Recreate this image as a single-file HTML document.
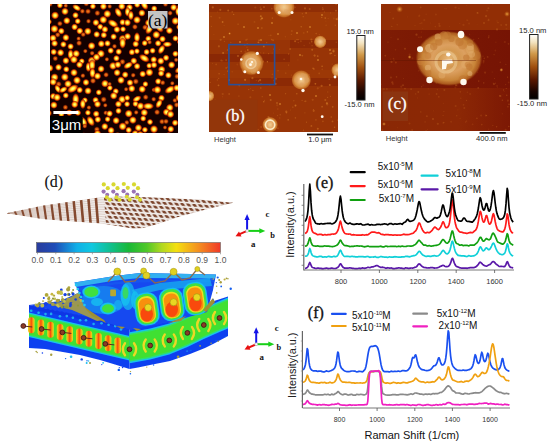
<!DOCTYPE html>
<html><head><meta charset="utf-8"><style>
html,body{margin:0;padding:0;background:#fff;width:550px;height:447px;overflow:hidden;}
svg{display:block;font-family:"Liberation Sans",sans-serif;}
</style></head><body>
<svg width="550" height="447" viewBox="0 0 550 447">
<defs><radialGradient id="blob"><stop offset="0" stop-color="#ffffa0"/><stop offset="0.3" stop-color="#fff040"/><stop offset="0.52" stop-color="#ff9a10"/><stop offset="0.74" stop-color="#d03000" stop-opacity="0.85"/><stop offset="1" stop-color="#400000" stop-opacity="0"/></radialGradient><radialGradient id="blobd"><stop offset="0" stop-color="#f89020"/><stop offset="0.5" stop-color="#c04008"/><stop offset="1" stop-color="#300000" stop-opacity="0"/></radialGradient><clipPath id="clipA"><rect x="50" y="4" width="128" height="129"/></clipPath><filter id="blurA" x="-5%" y="-5%" width="110%" height="110%"><feGaussianBlur stdDeviation="0.7"/></filter><linearGradient id="afmbar" x1="0" y1="0" x2="0" y2="1"><stop offset="0" stop-color="#ffffff"/><stop offset="0.12" stop-color="#f4e4c0"/><stop offset="0.3" stop-color="#d09848"/><stop offset="0.5" stop-color="#a05010"/><stop offset="0.7" stop-color="#5a1800"/><stop offset="0.88" stop-color="#1a0400"/><stop offset="1" stop-color="#000000"/></linearGradient><radialGradient id="part"><stop offset="0" stop-color="#f8e0a8"/><stop offset="0.5" stop-color="#e8b060"/><stop offset="0.8" stop-color="#d08a30" stop-opacity="0.8"/><stop offset="1" stop-color="#b86a1a" stop-opacity="0"/></radialGradient><radialGradient id="halo"><stop offset="0" stop-color="#e0a050"/><stop offset="0.6" stop-color="#d08a38" stop-opacity="0.7"/><stop offset="1" stop-color="#b86a1a" stop-opacity="0"/></radialGradient><radialGradient id="sdot"><stop offset="0" stop-color="#e8a040"/><stop offset="1" stop-color="#c06010" stop-opacity="0"/></radialGradient><clipPath id="clipB"><rect x="209" y="4" width="129" height="128"/></clipPath><radialGradient id="part2"><stop offset="0" stop-color="#f0cc90"/><stop offset="0.35" stop-color="#e8b070"/><stop offset="0.7" stop-color="#d89040"/><stop offset="0.88" stop-color="#c87428" stop-opacity="0.8"/><stop offset="1" stop-color="#b05a14" stop-opacity="0"/></radialGradient><clipPath id="clipC"><rect x="381" y="4" width="129" height="127"/></clipPath><radialGradient id="bigp"><stop offset="0" stop-color="#e8b878"/><stop offset="0.3" stop-color="#d49850"/><stop offset="0.5" stop-color="#dca060"/><stop offset="0.8" stop-color="#c88438"/><stop offset="0.93" stop-color="#b86a24" stop-opacity="0.8"/><stop offset="1" stop-color="#a05010" stop-opacity="0"/></radialGradient><linearGradient id="cmid" x1="0" y1="0" x2="1" y2="0"><stop offset="0" stop-color="#7e1c04"/><stop offset="0.5" stop-color="#7a1804"/><stop offset="1" stop-color="#761404"/></linearGradient><linearGradient id="cbot" x1="0" y1="0" x2="1" y2="0"><stop offset="0" stop-color="#8a2805"/><stop offset="0.6" stop-color="#8c2805"/><stop offset="1" stop-color="#7c1804"/></linearGradient><clipPath id="clipG"><polygon points="6.5,213.2 42.0,205.8 99.0,197.6 120.0,196.4 150.0,197.3 200.0,199.5 233.0,202.7 210.0,208.5 180.0,216.5 165.0,221.5 152.0,225.8 142.0,228.3 132.0,228.5 120.0,226.5 99.0,223.3 60.0,220.4 42.0,218.9"/></clipPath><pattern id="dia" patternUnits="userSpaceOnUse" width="6" height="4.4" patternTransform="rotate(4) skewX(35)"><rect width="6" height="4.4" fill="#f0ebe8"/><rect x="0.6" y="0.7" width="3.8" height="2.8" rx="0.8" fill="#7c452d"/></pattern><linearGradient id="jet" x1="0" y1="0" x2="1" y2="0"><stop offset="0" stop-color="#2a3c9c"/><stop offset="0.1" stop-color="#1e4cb8"/><stop offset="0.22" stop-color="#10b0e8"/><stop offset="0.3" stop-color="#10c8e0"/><stop offset="0.4" stop-color="#10c090"/><stop offset="0.5" stop-color="#18b838"/><stop offset="0.6" stop-color="#50c828"/><stop offset="0.68" stop-color="#b0d820"/><stop offset="0.76" stop-color="#f4e010"/><stop offset="0.88" stop-color="#f49020"/><stop offset="1" stop-color="#f03828"/></linearGradient><filter id="blur3d" x="-5%" y="-5%" width="110%" height="110%"><feGaussianBlur stdDeviation="0.6"/></filter><linearGradient id="obar" x1="0" y1="0" x2="1" y2="0"><stop offset="0" stop-color="#e8e020"/><stop offset="0.25" stop-color="#f8a010"/><stop offset="0.5" stop-color="#f85010"/><stop offset="0.75" stop-color="#f8a010"/><stop offset="1" stop-color="#e8e020"/></linearGradient></defs>
<rect width="550" height="447" fill="#fff"/>
<g clip-path="url(#clipA)"><rect x="50" y="4" width="128" height="129" fill="#140000"/><g filter="url(#blurA)"><circle cx="50.0" cy="4.2" r="3.2" fill="url(#blobd)"/><circle cx="59.9" cy="5.3" r="3.4" fill="url(#blob)"/><circle cx="65.8" cy="5.7" r="2.7" fill="url(#blobd)"/><ellipse cx="76.7" cy="7.7" rx="5.2" ry="3.1" transform="rotate(30 76.7 7.7)" fill="url(#blob)"/><circle cx="86.3" cy="3.7" r="3.2" fill="url(#blobd)"/><circle cx="92.9" cy="6.3" r="3.4" fill="url(#blob)"/><circle cx="103.4" cy="6.4" r="3.9" fill="url(#blob)"/><circle cx="109.7" cy="6.4" r="2.8" fill="url(#blobd)"/><circle cx="121.8" cy="6.3" r="4.0" fill="url(#blob)"/><circle cx="129.5" cy="7.4" r="3.8" fill="url(#blob)"/><circle cx="137.2" cy="4.7" r="3.5" fill="url(#blob)"/><ellipse cx="144.4" cy="5.0" rx="5.8" ry="3.5" transform="rotate(60 144.4 5.0)" fill="url(#blob)"/><circle cx="154.2" cy="8.5" r="3.4" fill="url(#blob)"/><circle cx="165.5" cy="4.2" r="3.1" fill="url(#blobd)"/><circle cx="173.7" cy="7.4" r="3.9" fill="url(#blob)"/><circle cx="180.5" cy="7.0" r="4.0" fill="url(#blob)"/><circle cx="55.1" cy="15.4" r="4.3" fill="url(#blob)"/><circle cx="65.0" cy="11.4" r="4.1" fill="url(#blob)"/><circle cx="75.5" cy="15.3" r="3.6" fill="url(#blob)"/><circle cx="82.4" cy="11.2" r="3.0" fill="url(#blobd)"/><circle cx="88.0" cy="11.4" r="3.3" fill="url(#blobd)"/><circle cx="97.4" cy="13.1" r="3.4" fill="url(#blobd)"/><circle cx="107.3" cy="13.9" r="4.3" fill="url(#blob)"/><ellipse cx="118.3" cy="12.5" rx="5.6" ry="3.4" transform="rotate(60 118.3 12.5)" fill="url(#blob)"/><ellipse cx="127.5" cy="11.8" rx="5.2" ry="3.1" transform="rotate(90 127.5 11.8)" fill="url(#blob)"/><ellipse cx="130.9" cy="15.4" rx="5.3" ry="3.2" transform="rotate(90 130.9 15.4)" fill="url(#blob)"/><circle cx="141.9" cy="13.0" r="3.9" fill="url(#blob)"/><circle cx="152.1" cy="13.7" r="4.0" fill="url(#blob)"/><circle cx="157.3" cy="15.7" r="4.2" fill="url(#blob)"/><circle cx="170.1" cy="13.1" r="3.0" fill="url(#blobd)"/><ellipse cx="177.9" cy="11.4" rx="5.1" ry="3.0" transform="rotate(90 177.9 11.4)" fill="url(#blob)"/><circle cx="48.8" cy="21.8" r="3.4" fill="url(#blob)"/><circle cx="59.9" cy="23.6" r="3.2" fill="url(#blobd)"/><circle cx="66.8" cy="20.7" r="4.0" fill="url(#blob)"/><circle cx="77.7" cy="21.2" r="3.4" fill="url(#blob)"/><circle cx="88.5" cy="21.2" r="2.9" fill="url(#blobd)"/><circle cx="95.9" cy="22.6" r="3.8" fill="url(#blob)"/><circle cx="103.3" cy="19.8" r="4.3" fill="url(#blob)"/><ellipse cx="113.0" cy="23.5" rx="6.2" ry="3.7" transform="rotate(30 113.0 23.5)" fill="url(#blob)"/><circle cx="122.6" cy="22.3" r="3.6" fill="url(#blob)"/><circle cx="127.4" cy="22.7" r="3.9" fill="url(#blob)"/><circle cx="137.0" cy="19.9" r="4.2" fill="url(#blob)"/><circle cx="148.7" cy="22.9" r="4.2" fill="url(#blob)"/><circle cx="153.9" cy="21.4" r="3.0" fill="url(#blobd)"/><circle cx="161.5" cy="20.2" r="3.6" fill="url(#blob)"/><circle cx="175.4" cy="21.0" r="4.3" fill="url(#blob)"/><ellipse cx="184.0" cy="20.6" rx="5.3" ry="3.2" transform="rotate(90 184.0 20.6)" fill="url(#blob)"/><circle cx="54.4" cy="28.9" r="4.4" fill="url(#blob)"/><circle cx="61.3" cy="31.1" r="3.7" fill="url(#blob)"/><circle cx="74.6" cy="27.0" r="3.7" fill="url(#blob)"/><circle cx="79.8" cy="31.0" r="3.8" fill="url(#blob)"/><circle cx="87.8" cy="31.3" r="4.1" fill="url(#blob)"/><circle cx="100.2" cy="26.8" r="3.5" fill="url(#blob)"/><circle cx="104.9" cy="29.4" r="3.8" fill="url(#blob)"/><circle cx="116.9" cy="29.5" r="3.8" fill="url(#blob)"/><circle cx="123.0" cy="29.2" r="3.3" fill="url(#blob)"/><circle cx="134.9" cy="26.9" r="3.3" fill="url(#blobd)"/><circle cx="145.1" cy="27.4" r="3.4" fill="url(#blobd)"/><ellipse cx="149.4" cy="29.0" rx="6.2" ry="3.7" transform="rotate(120 149.4 29.0)" fill="url(#blob)"/><ellipse cx="159.3" cy="27.0" rx="6.5" ry="3.9" transform="rotate(60 159.3 27.0)" fill="url(#blob)"/><circle cx="169.4" cy="30.6" r="3.9" fill="url(#blob)"/><circle cx="179.3" cy="27.0" r="3.5" fill="url(#blob)"/><circle cx="53.1" cy="38.1" r="4.0" fill="url(#blob)"/><circle cx="57.7" cy="34.8" r="3.2" fill="url(#blobd)"/><circle cx="65.9" cy="37.6" r="3.9" fill="url(#blob)"/><circle cx="78.6" cy="38.6" r="2.7" fill="url(#blobd)"/><circle cx="83.2" cy="34.5" r="3.0" fill="url(#blobd)"/><circle cx="96.7" cy="34.4" r="3.7" fill="url(#blob)"/><circle cx="103.8" cy="35.1" r="3.6" fill="url(#blob)"/><circle cx="113.6" cy="36.7" r="3.6" fill="url(#blob)"/><circle cx="122.7" cy="38.8" r="4.3" fill="url(#blob)"/><circle cx="127.6" cy="36.4" r="3.8" fill="url(#blob)"/><ellipse cx="137.0" cy="37.5" rx="5.7" ry="3.4" transform="rotate(90 137.0 37.5)" fill="url(#blob)"/><circle cx="148.3" cy="38.7" r="3.5" fill="url(#blob)"/><circle cx="156.3" cy="34.8" r="4.3" fill="url(#blob)"/><circle cx="162.5" cy="39.0" r="3.7" fill="url(#blob)"/><circle cx="175.5" cy="38.4" r="3.5" fill="url(#blob)"/><ellipse cx="181.6" cy="35.8" rx="5.3" ry="3.2" transform="rotate(30 181.6 35.8)" fill="url(#blob)"/><circle cx="54.6" cy="43.4" r="3.8" fill="url(#blob)"/><circle cx="63.4" cy="44.4" r="3.6" fill="url(#blob)"/><circle cx="70.6" cy="46.5" r="3.6" fill="url(#blob)"/><circle cx="79.1" cy="43.1" r="3.4" fill="url(#blobd)"/><circle cx="91.6" cy="45.9" r="4.2" fill="url(#blob)"/><circle cx="101.3" cy="43.8" r="3.9" fill="url(#blob)"/><circle cx="107.5" cy="43.4" r="3.6" fill="url(#blob)"/><circle cx="114.5" cy="46.3" r="2.9" fill="url(#blobd)"/><ellipse cx="122.6" cy="43.0" rx="6.0" ry="3.6" transform="rotate(90 122.6 43.0)" fill="url(#blob)"/><circle cx="135.7" cy="44.0" r="3.7" fill="url(#blob)"/><circle cx="144.7" cy="43.1" r="3.4" fill="url(#blob)"/><circle cx="149.6" cy="42.2" r="2.8" fill="url(#blobd)"/><circle cx="158.1" cy="43.3" r="3.6" fill="url(#blob)"/><ellipse cx="167.3" cy="44.3" rx="5.2" ry="3.1" transform="rotate(0 167.3 44.3)" fill="url(#blob)"/><circle cx="179.9" cy="41.9" r="3.3" fill="url(#blob)"/><circle cx="53.7" cy="52.0" r="3.6" fill="url(#blob)"/><circle cx="60.6" cy="52.7" r="4.0" fill="url(#blob)"/><ellipse cx="70.6" cy="54.4" rx="5.5" ry="3.3" transform="rotate(90 70.6 54.4)" fill="url(#blob)"/><circle cx="76.2" cy="53.7" r="4.1" fill="url(#blob)"/><circle cx="85.3" cy="51.1" r="2.7" fill="url(#blobd)"/><circle cx="92.1" cy="53.2" r="2.9" fill="url(#blobd)"/><circle cx="100.9" cy="53.7" r="4.3" fill="url(#blob)"/><circle cx="110.7" cy="50.6" r="3.6" fill="url(#blob)"/><circle cx="118.7" cy="51.7" r="3.6" fill="url(#blob)"/><circle cx="131.9" cy="52.2" r="3.6" fill="url(#blob)"/><circle cx="136.9" cy="51.2" r="3.3" fill="url(#blob)"/><circle cx="146.6" cy="52.0" r="3.5" fill="url(#blob)"/><circle cx="152.6" cy="50.7" r="3.4" fill="url(#blob)"/><ellipse cx="161.5" cy="49.5" rx="5.5" ry="3.3" transform="rotate(120 161.5 49.5)" fill="url(#blob)"/><circle cx="175.4" cy="53.8" r="3.5" fill="url(#blob)"/><circle cx="183.1" cy="52.4" r="4.1" fill="url(#blob)"/><circle cx="55.3" cy="58.5" r="3.2" fill="url(#blobd)"/><circle cx="65.9" cy="60.7" r="3.9" fill="url(#blob)"/><circle cx="73.9" cy="59.6" r="4.3" fill="url(#blob)"/><circle cx="81.8" cy="61.2" r="3.3" fill="url(#blob)"/><circle cx="91.8" cy="60.7" r="4.4" fill="url(#blob)"/><circle cx="96.5" cy="57.2" r="4.0" fill="url(#blob)"/><circle cx="106.9" cy="59.3" r="2.7" fill="url(#blobd)"/><circle cx="116.4" cy="58.3" r="3.6" fill="url(#blob)"/><circle cx="122.5" cy="61.8" r="3.4" fill="url(#blobd)"/><circle cx="133.8" cy="60.9" r="3.8" fill="url(#blob)"/><ellipse cx="144.3" cy="58.2" rx="6.2" ry="3.7" transform="rotate(30 144.3 58.2)" fill="url(#blob)"/><circle cx="153.7" cy="59.6" r="3.7" fill="url(#blob)"/><circle cx="160.8" cy="61.0" r="4.0" fill="url(#blob)"/><circle cx="166.1" cy="57.8" r="3.6" fill="url(#blob)"/><circle cx="176.1" cy="59.9" r="2.7" fill="url(#blobd)"/><circle cx="49.7" cy="68.1" r="4.1" fill="url(#blob)"/><circle cx="58.5" cy="67.3" r="3.8" fill="url(#blob)"/><circle cx="66.3" cy="69.3" r="3.5" fill="url(#blob)"/><circle cx="79.5" cy="64.7" r="3.8" fill="url(#blob)"/><ellipse cx="88.4" cy="67.0" rx="5.4" ry="3.2" transform="rotate(90 88.4 67.0)" fill="url(#blob)"/><ellipse cx="92.1" cy="65.1" rx="6.2" ry="3.7" transform="rotate(90 92.1 65.1)" fill="url(#blob)"/><circle cx="101.1" cy="68.9" r="3.9" fill="url(#blob)"/><circle cx="113.0" cy="65.9" r="4.3" fill="url(#blob)"/><circle cx="117.9" cy="64.7" r="3.8" fill="url(#blob)"/><ellipse cx="128.2" cy="65.4" rx="5.5" ry="3.3" transform="rotate(150 128.2 65.4)" fill="url(#blob)"/><circle cx="137.1" cy="66.3" r="3.7" fill="url(#blob)"/><circle cx="149.2" cy="65.7" r="3.3" fill="url(#blob)"/><circle cx="154.0" cy="65.0" r="3.7" fill="url(#blob)"/><circle cx="161.7" cy="69.5" r="4.1" fill="url(#blob)"/><circle cx="171.6" cy="64.9" r="4.0" fill="url(#blob)"/><ellipse cx="179.5" cy="69.7" rx="5.7" ry="3.4" transform="rotate(150 179.5 69.7)" fill="url(#blob)"/><circle cx="54.6" cy="77.3" r="4.3" fill="url(#blob)"/><circle cx="64.8" cy="77.1" r="4.3" fill="url(#blob)"/><circle cx="74.0" cy="72.6" r="4.1" fill="url(#blob)"/><circle cx="82.9" cy="75.7" r="2.9" fill="url(#blobd)"/><ellipse cx="92.5" cy="73.0" rx="5.7" ry="3.4" transform="rotate(90 92.5 73.0)" fill="url(#blob)"/><circle cx="97.5" cy="76.1" r="4.0" fill="url(#blob)"/><circle cx="106.1" cy="74.8" r="3.2" fill="url(#blobd)"/><circle cx="117.1" cy="72.7" r="3.9" fill="url(#blob)"/><circle cx="125.2" cy="74.7" r="3.7" fill="url(#blob)"/><circle cx="133.2" cy="75.2" r="2.9" fill="url(#blobd)"/><circle cx="142.7" cy="74.0" r="3.7" fill="url(#blob)"/><circle cx="149.4" cy="72.4" r="4.3" fill="url(#blob)"/><circle cx="161.1" cy="73.4" r="3.6" fill="url(#blob)"/><circle cx="168.4" cy="75.3" r="3.7" fill="url(#blob)"/><circle cx="177.3" cy="76.4" r="3.4" fill="url(#blobd)"/><circle cx="53.2" cy="82.0" r="4.0" fill="url(#blob)"/><circle cx="58.6" cy="84.2" r="3.5" fill="url(#blobd)"/><circle cx="68.0" cy="83.9" r="4.2" fill="url(#blob)"/><circle cx="77.0" cy="80.3" r="4.3" fill="url(#blob)"/><circle cx="86.0" cy="82.4" r="3.8" fill="url(#blob)"/><circle cx="93.0" cy="80.8" r="3.5" fill="url(#blobd)"/><circle cx="105.0" cy="83.6" r="4.2" fill="url(#blob)"/><circle cx="109.6" cy="84.0" r="2.6" fill="url(#blobd)"/><circle cx="121.0" cy="80.2" r="4.1" fill="url(#blob)"/><circle cx="130.0" cy="82.7" r="3.8" fill="url(#blob)"/><circle cx="135.8" cy="81.5" r="3.5" fill="url(#blobd)"/><circle cx="145.4" cy="84.1" r="3.3" fill="url(#blob)"/><circle cx="158.2" cy="81.4" r="3.6" fill="url(#blob)"/><circle cx="162.7" cy="82.7" r="3.1" fill="url(#blobd)"/><circle cx="172.3" cy="83.3" r="2.7" fill="url(#blobd)"/><ellipse cx="183.7" cy="83.3" rx="5.1" ry="3.1" transform="rotate(60 183.7 83.3)" fill="url(#blob)"/><ellipse cx="57.7" cy="88.8" rx="5.0" ry="3.0" transform="rotate(60 57.7 88.8)" fill="url(#blob)"/><ellipse cx="63.3" cy="89.7" rx="5.0" ry="3.0" transform="rotate(150 63.3 89.7)" fill="url(#blob)"/><ellipse cx="72.8" cy="88.7" rx="6.6" ry="3.9" transform="rotate(150 72.8 88.7)" fill="url(#blob)"/><circle cx="79.7" cy="90.0" r="3.6" fill="url(#blob)"/><circle cx="88.0" cy="90.9" r="4.0" fill="url(#blob)"/><circle cx="98.8" cy="92.4" r="3.4" fill="url(#blob)"/><circle cx="109.9" cy="87.9" r="3.3" fill="url(#blob)"/><circle cx="115.8" cy="91.3" r="3.5" fill="url(#blob)"/><circle cx="126.1" cy="89.2" r="2.7" fill="url(#blobd)"/><circle cx="131.8" cy="88.6" r="4.0" fill="url(#blob)"/><circle cx="142.2" cy="89.2" r="4.1" fill="url(#blob)"/><circle cx="153.8" cy="89.9" r="2.7" fill="url(#blobd)"/><circle cx="157.4" cy="89.8" r="4.3" fill="url(#blob)"/><ellipse cx="169.9" cy="89.6" rx="6.2" ry="3.7" transform="rotate(150 169.9 89.6)" fill="url(#blob)"/><circle cx="176.8" cy="87.9" r="3.8" fill="url(#blob)"/><circle cx="53.3" cy="96.3" r="3.7" fill="url(#blob)"/><circle cx="57.1" cy="97.4" r="4.2" fill="url(#blob)"/><circle cx="65.8" cy="95.5" r="3.4" fill="url(#blob)"/><ellipse cx="75.7" cy="99.2" rx="6.4" ry="3.9" transform="rotate(90 75.7 99.2)" fill="url(#blob)"/><circle cx="84.9" cy="100.2" r="3.3" fill="url(#blob)"/><circle cx="95.6" cy="100.1" r="3.6" fill="url(#blob)"/><circle cx="103.7" cy="99.5" r="3.5" fill="url(#blobd)"/><circle cx="113.7" cy="95.8" r="4.1" fill="url(#blob)"/><circle cx="122.1" cy="99.4" r="4.3" fill="url(#blob)"/><circle cx="127.2" cy="97.9" r="3.3" fill="url(#blob)"/><ellipse cx="136.9" cy="98.9" rx="5.2" ry="3.1" transform="rotate(150 136.9 98.9)" fill="url(#blob)"/><circle cx="145.7" cy="97.2" r="3.3" fill="url(#blobd)"/><circle cx="153.7" cy="99.2" r="2.9" fill="url(#blobd)"/><circle cx="161.5" cy="98.1" r="3.7" fill="url(#blob)"/><circle cx="174.9" cy="100.4" r="2.9" fill="url(#blobd)"/><circle cx="179.2" cy="97.9" r="4.1" fill="url(#blob)"/><circle cx="53.9" cy="105.1" r="4.0" fill="url(#blob)"/><circle cx="65.4" cy="107.3" r="3.2" fill="url(#blobd)"/><circle cx="74.7" cy="104.5" r="3.9" fill="url(#blob)"/><ellipse cx="82.8" cy="104.0" rx="5.4" ry="3.2" transform="rotate(90 82.8 104.0)" fill="url(#blob)"/><circle cx="88.9" cy="107.6" r="2.8" fill="url(#blobd)"/><circle cx="97.5" cy="104.2" r="3.9" fill="url(#blob)"/><circle cx="105.3" cy="105.3" r="2.7" fill="url(#blobd)"/><circle cx="118.4" cy="104.1" r="3.8" fill="url(#blob)"/><circle cx="127.1" cy="104.1" r="3.4" fill="url(#blob)"/><circle cx="135.5" cy="103.9" r="3.4" fill="url(#blob)"/><circle cx="140.5" cy="106.1" r="4.2" fill="url(#blob)"/><ellipse cx="148.3" cy="106.2" rx="6.1" ry="3.7" transform="rotate(0 148.3 106.2)" fill="url(#blob)"/><ellipse cx="159.0" cy="103.7" rx="5.3" ry="3.2" transform="rotate(120 159.0 103.7)" fill="url(#blob)"/><circle cx="169.8" cy="107.7" r="4.2" fill="url(#blob)"/><circle cx="176.6" cy="104.9" r="3.2" fill="url(#blobd)"/><circle cx="48.4" cy="113.2" r="3.8" fill="url(#blob)"/><circle cx="61.4" cy="114.0" r="3.5" fill="url(#blob)"/><circle cx="69.3" cy="112.7" r="3.6" fill="url(#blob)"/><circle cx="78.0" cy="112.8" r="3.4" fill="url(#blob)"/><circle cx="87.9" cy="112.7" r="3.3" fill="url(#blob)"/><circle cx="96.2" cy="113.9" r="3.7" fill="url(#blob)"/><circle cx="105.7" cy="112.8" r="2.8" fill="url(#blobd)"/><circle cx="109.6" cy="113.6" r="3.7" fill="url(#blob)"/><circle cx="118.5" cy="110.9" r="3.5" fill="url(#blob)"/><circle cx="128.7" cy="113.6" r="4.3" fill="url(#blob)"/><circle cx="136.2" cy="112.4" r="2.8" fill="url(#blobd)"/><circle cx="144.3" cy="112.6" r="4.1" fill="url(#blob)"/><circle cx="157.1" cy="112.2" r="3.4" fill="url(#blobd)"/><circle cx="166.4" cy="112.2" r="4.0" fill="url(#blob)"/><circle cx="170.5" cy="114.3" r="4.1" fill="url(#blob)"/><circle cx="182.3" cy="115.0" r="4.0" fill="url(#blob)"/><circle cx="53.6" cy="120.7" r="3.1" fill="url(#blobd)"/><circle cx="66.5" cy="119.1" r="3.0" fill="url(#blobd)"/><circle cx="75.4" cy="122.5" r="3.5" fill="url(#blob)"/><ellipse cx="83.4" cy="121.7" rx="6.1" ry="3.6" transform="rotate(60 83.4 121.7)" fill="url(#blob)"/><ellipse cx="90.7" cy="121.1" rx="6.0" ry="3.6" transform="rotate(60 90.7 121.1)" fill="url(#blob)"/><circle cx="97.8" cy="119.5" r="3.7" fill="url(#blob)"/><circle cx="107.6" cy="119.2" r="3.3" fill="url(#blob)"/><circle cx="116.1" cy="120.6" r="4.0" fill="url(#blob)"/><circle cx="126.8" cy="122.5" r="3.0" fill="url(#blobd)"/><circle cx="132.9" cy="120.1" r="4.2" fill="url(#blob)"/><circle cx="143.2" cy="118.5" r="3.4" fill="url(#blob)"/><circle cx="150.0" cy="122.0" r="3.4" fill="url(#blob)"/><circle cx="162.0" cy="121.6" r="3.3" fill="url(#blobd)"/><circle cx="166.0" cy="121.4" r="3.2" fill="url(#blobd)"/><circle cx="175.1" cy="122.8" r="3.6" fill="url(#blob)"/><ellipse cx="52.7" cy="129.5" rx="6.1" ry="3.7" transform="rotate(150 52.7 129.5)" fill="url(#blob)"/><circle cx="58.9" cy="129.8" r="3.5" fill="url(#blob)"/><circle cx="67.1" cy="130.1" r="3.5" fill="url(#blob)"/><circle cx="79.5" cy="127.0" r="3.6" fill="url(#blob)"/><circle cx="84.8" cy="126.1" r="2.8" fill="url(#blobd)"/><circle cx="96.9" cy="129.4" r="3.4" fill="url(#blobd)"/><circle cx="104.8" cy="126.5" r="3.9" fill="url(#blob)"/><circle cx="111.1" cy="130.4" r="3.9" fill="url(#blob)"/><circle cx="122.7" cy="126.4" r="4.4" fill="url(#blob)"/><circle cx="128.7" cy="130.0" r="3.6" fill="url(#blob)"/><circle cx="138.4" cy="127.8" r="4.1" fill="url(#blob)"/><circle cx="144.9" cy="129.8" r="3.4" fill="url(#blob)"/><circle cx="154.0" cy="129.2" r="4.4" fill="url(#blob)"/><circle cx="165.0" cy="127.5" r="2.6" fill="url(#blobd)"/><circle cx="170.8" cy="129.1" r="3.8" fill="url(#blob)"/><circle cx="183.7" cy="126.6" r="3.5" fill="url(#blob)"/><circle cx="52.7" cy="133.6" r="3.0" fill="url(#blobd)"/><circle cx="63.3" cy="134.7" r="3.9" fill="url(#blob)"/><circle cx="71.1" cy="136.8" r="3.1" fill="url(#blobd)"/><circle cx="83.9" cy="134.8" r="2.8" fill="url(#blobd)"/><circle cx="90.9" cy="138.1" r="4.2" fill="url(#blob)"/><circle cx="97.5" cy="133.6" r="4.0" fill="url(#blob)"/><circle cx="106.7" cy="136.9" r="3.8" fill="url(#blob)"/><circle cx="117.6" cy="134.8" r="3.4" fill="url(#blobd)"/><circle cx="125.1" cy="135.7" r="2.8" fill="url(#blobd)"/><circle cx="135.2" cy="133.6" r="3.9" fill="url(#blob)"/><circle cx="140.3" cy="134.6" r="4.0" fill="url(#blob)"/><ellipse cx="151.8" cy="137.8" rx="5.2" ry="3.1" transform="rotate(90 151.8 137.8)" fill="url(#blob)"/><circle cx="160.5" cy="138.7" r="4.1" fill="url(#blob)"/><circle cx="168.7" cy="135.5" r="3.8" fill="url(#blob)"/><circle cx="174.8" cy="137.0" r="3.5" fill="url(#blob)"/></g></g>
<rect x="148" y="11" width="19.5" height="17.5" fill="#c4c4c4"/>
<text x="157.7" y="25.6" font-family="Liberation Serif" font-size="17.5" text-anchor="middle" fill="#000">(a)</text>
<rect x="53.4" y="111" width="24.8" height="3" fill="#fff"/>
<path d="M50 116 H80.5 Q82.7 116 82.7 118.2 V133 H50 Z" fill="#000"/>
<text x="51.8" y="130.2" font-family="Liberation Sans" font-size="15" fill="#fff">3μm</text>
<g clip-path="url(#clipB)"><rect x="209" y="4" width="129" height="128" fill="#983406"/><rect x="209" y="4" width="129" height="8" fill="#902e05"/><rect x="209" y="12" width="129" height="28" fill="#9e3a06"/><rect x="290" y="40" width="48" height="8" fill="#8c2a05"/><rect x="209" y="54" width="81" height="8" fill="#8a2805"/><rect x="209" y="70" width="129" height="8" fill="#9c3806"/><rect x="250" y="78" width="88" height="8" fill="#8c2a05"/><rect x="257" y="86" width="81" height="46" fill="#983406"/><circle cx="312.1" cy="45.7" r="0.6" fill="#c86a20" opacity="0.45"/><circle cx="331.9" cy="132.0" r="0.6" fill="#d07828" opacity="0.57"/><circle cx="273.6" cy="112.9" r="0.5" fill="#b85a18" opacity="0.41"/><circle cx="313.9" cy="68.9" r="1.0" fill="#c86a20" opacity="0.47"/><circle cx="224.1" cy="74.5" r="0.7" fill="#b85a18" opacity="0.42"/><circle cx="233.7" cy="14.4" r="0.6" fill="#d07828" opacity="0.67"/><circle cx="285.8" cy="73.0" r="0.6" fill="#d07828" opacity="0.61"/><circle cx="304.9" cy="112.8" r="0.6" fill="#b85a18" opacity="0.64"/><circle cx="327.3" cy="104.4" r="1.1" fill="#b85a18" opacity="0.51"/><circle cx="309.2" cy="74.7" r="0.6" fill="#d07828" opacity="0.37"/><circle cx="317.8" cy="128.7" r="1.0" fill="#d07828" opacity="0.54"/><circle cx="237.3" cy="64.5" r="0.9" fill="#b85a18" opacity="0.35"/><circle cx="336.0" cy="10.7" r="0.9" fill="#d07828" opacity="0.48"/><circle cx="336.6" cy="19.1" r="1.1" fill="#d07828" opacity="0.59"/><circle cx="216.2" cy="64.4" r="0.9" fill="#c86a20" opacity="0.40"/><circle cx="277.5" cy="6.2" r="0.8" fill="#b85a18" opacity="0.67"/><circle cx="305.8" cy="77.7" r="0.5" fill="#b85a18" opacity="0.40"/><circle cx="315.9" cy="119.8" r="0.9" fill="#c86a20" opacity="0.38"/><circle cx="328.2" cy="18.5" r="0.7" fill="#b85a18" opacity="0.39"/><circle cx="319.3" cy="34.6" r="0.6" fill="#c86a20" opacity="0.41"/><circle cx="228.2" cy="10.5" r="1.0" fill="#d07828" opacity="0.53"/><circle cx="257.9" cy="129.6" r="0.9" fill="#d07828" opacity="0.50"/><circle cx="274.3" cy="80.6" r="1.0" fill="#b85a18" opacity="0.57"/><circle cx="247.1" cy="39.4" r="0.8" fill="#c86a20" opacity="0.36"/><circle cx="271.8" cy="8.6" r="0.9" fill="#c86a20" opacity="0.38"/><circle cx="322.3" cy="69.3" r="0.9" fill="#b85a18" opacity="0.41"/><circle cx="331.7" cy="53.2" r="0.8" fill="#b85a18" opacity="0.54"/><circle cx="314.5" cy="55.5" r="1.0" fill="#d07828" opacity="0.50"/><circle cx="241.4" cy="114.6" r="1.0" fill="#d07828" opacity="0.46"/><circle cx="326.9" cy="103.3" r="1.1" fill="#d07828" opacity="0.70"/><circle cx="270.7" cy="99.9" r="1.0" fill="#d07828" opacity="0.49"/><circle cx="277.9" cy="128.1" r="0.7" fill="#d07828" opacity="0.66"/><circle cx="317.8" cy="88.3" r="1.1" fill="#b85a18" opacity="0.59"/><circle cx="227.7" cy="50.0" r="1.0" fill="#c86a20" opacity="0.42"/><circle cx="315.3" cy="83.8" r="0.9" fill="#d07828" opacity="0.37"/><circle cx="211.9" cy="96.2" r="0.9" fill="#d07828" opacity="0.59"/><circle cx="225.5" cy="105.7" r="0.9" fill="#b85a18" opacity="0.37"/><circle cx="275.5" cy="83.9" r="1.1" fill="#c86a20" opacity="0.66"/><circle cx="247.8" cy="50.0" r="0.9" fill="#d07828" opacity="0.65"/><circle cx="215.1" cy="99.8" r="0.6" fill="#b85a18" opacity="0.63"/><circle cx="277.8" cy="109.0" r="0.8" fill="#c86a20" opacity="0.36"/><circle cx="309.7" cy="8.9" r="1.0" fill="#b85a18" opacity="0.64"/><circle cx="329.8" cy="85.0" r="1.0" fill="#d07828" opacity="0.66"/><circle cx="220.3" cy="9.8" r="1.1" fill="#d07828" opacity="0.49"/><circle cx="301.2" cy="26.8" r="0.8" fill="#d07828" opacity="0.55"/><circle cx="304.1" cy="45.6" r="0.6" fill="#b85a18" opacity="0.55"/><circle cx="330.2" cy="53.5" r="0.9" fill="#d07828" opacity="0.62"/><circle cx="260.8" cy="16.3" r="1.0" fill="#d07828" opacity="0.70"/><circle cx="248.6" cy="89.6" r="0.7" fill="#d07828" opacity="0.50"/><circle cx="273.9" cy="49.2" r="0.9" fill="#b85a18" opacity="0.47"/><circle cx="238.1" cy="24.2" r="0.9" fill="#b85a18" opacity="0.53"/><circle cx="266.7" cy="42.7" r="0.6" fill="#c86a20" opacity="0.52"/><circle cx="296.9" cy="39.7" r="0.6" fill="#c86a20" opacity="0.67"/><circle cx="284.1" cy="59.3" r="0.8" fill="#b85a18" opacity="0.59"/><circle cx="322.1" cy="106.7" r="0.9" fill="#d07828" opacity="0.47"/><circle cx="272.2" cy="53.0" r="0.6" fill="#b85a18" opacity="0.65"/><circle cx="264.4" cy="100.2" r="0.5" fill="#d07828" opacity="0.46"/><circle cx="245.7" cy="69.4" r="0.8" fill="#d07828" opacity="0.36"/><circle cx="218.9" cy="46.3" r="1.1" fill="#d07828" opacity="0.44"/><circle cx="337.6" cy="18.1" r="0.7" fill="#c86a20" opacity="0.51"/><circle cx="326.1" cy="25.2" r="0.8" fill="#b85a18" opacity="0.47"/><circle cx="331.3" cy="117.0" r="0.9" fill="#c86a20" opacity="0.41"/><circle cx="264.0" cy="7.1" r="0.9" fill="#d07828" opacity="0.57"/><circle cx="238.9" cy="96.1" r="0.9" fill="#b85a18" opacity="0.39"/><circle cx="337.7" cy="120.1" r="0.6" fill="#c86a20" opacity="0.60"/><circle cx="271.8" cy="39.6" r="0.8" fill="#c86a20" opacity="0.53"/><circle cx="275.9" cy="78.8" r="1.0" fill="#c86a20" opacity="0.58"/><circle cx="311.4" cy="125.9" r="0.9" fill="#c86a20" opacity="0.64"/><circle cx="311.4" cy="39.5" r="1.1" fill="#c86a20" opacity="0.61"/><circle cx="278.0" cy="70.8" r="0.7" fill="#b85a18" opacity="0.60"/><circle cx="270.8" cy="35.4" r="0.8" fill="#b85a18" opacity="0.61"/><circle cx="302.7" cy="79.6" r="0.6" fill="#c86a20" opacity="0.39"/><circle cx="273.1" cy="40.3" r="1.0" fill="#b85a18" opacity="0.61"/><circle cx="251.5" cy="65.0" r="0.9" fill="#c86a20" opacity="0.67"/><circle cx="212.8" cy="7.4" r="1.1" fill="#c86a20" opacity="0.62"/><circle cx="286.5" cy="112.7" r="0.8" fill="#c86a20" opacity="0.68"/><circle cx="303.2" cy="90.4" r="0.8" fill="#d07828" opacity="0.52"/><circle cx="309.7" cy="43.0" r="0.6" fill="#c86a20" opacity="0.58"/><circle cx="272.0" cy="77.9" r="0.6" fill="#b85a18" opacity="0.52"/><circle cx="261.8" cy="28.0" r="1.0" fill="#c86a20" opacity="0.41"/><circle cx="334.6" cy="127.2" r="0.8" fill="#d07828" opacity="0.51"/><circle cx="220.7" cy="39.8" r="1.1" fill="#d07828" opacity="0.38"/><circle cx="332.2" cy="64.0" r="0.6" fill="#b85a18" opacity="0.51"/><circle cx="321.8" cy="17.4" r="0.6" fill="#d07828" opacity="0.67"/><circle cx="306.5" cy="122.2" r="0.6" fill="#d07828" opacity="0.48"/><circle cx="317.1" cy="37.0" r="0.6" fill="#b85a18" opacity="0.50"/><circle cx="262.2" cy="96.7" r="0.6" fill="#c86a20" opacity="0.54"/><circle cx="325.3" cy="100.1" r="1.0" fill="#c86a20" opacity="0.60"/><circle cx="295.6" cy="105.7" r="0.5" fill="#d07828" opacity="0.60"/><circle cx="291.9" cy="31.0" r="0.7" fill="#c86a20" opacity="0.67"/><circle cx="313.7" cy="110.8" r="1.1" fill="#c86a20" opacity="0.57"/><circle cx="269.0" cy="35.6" r="0.7" fill="#b85a18" opacity="0.39"/><circle cx="295.1" cy="7.3" r="0.8" fill="#c86a20" opacity="0.40"/><circle cx="263.3" cy="61.5" r="0.9" fill="#c86a20" opacity="0.59"/><circle cx="277.0" cy="103.1" r="1.0" fill="#d07828" opacity="0.47"/><circle cx="303.7" cy="32.9" r="0.9" fill="#b85a18" opacity="0.48"/><circle cx="260.3" cy="7.2" r="0.6" fill="#d07828" opacity="0.42"/><circle cx="325.2" cy="18.1" r="0.8" fill="#d07828" opacity="0.66"/><circle cx="312.2" cy="49.8" r="1.0" fill="#d07828" opacity="0.53"/><circle cx="335.3" cy="25.2" r="0.7" fill="#d07828" opacity="0.40"/><circle cx="217.6" cy="12.1" r="0.5" fill="#b85a18" opacity="0.49"/><circle cx="227.8" cy="71.2" r="0.9" fill="#b85a18" opacity="0.64"/><circle cx="261.8" cy="62.5" r="0.7" fill="#b85a18" opacity="0.65"/><circle cx="322.9" cy="9.2" r="1.0" fill="#c86a20" opacity="0.46"/><circle cx="277.2" cy="105.3" r="1.1" fill="#b85a18" opacity="0.38"/><circle cx="307.4" cy="31.9" r="0.8" fill="#c86a20" opacity="0.67"/><circle cx="245.6" cy="44.6" r="0.9" fill="#b85a18" opacity="0.36"/><circle cx="298.1" cy="39.7" r="0.6" fill="#c86a20" opacity="0.68"/><circle cx="289.6" cy="6.5" r="0.8" fill="#c86a20" opacity="0.59"/><circle cx="253.3" cy="53.3" r="1.0" fill="#d07828" opacity="0.37"/><circle cx="304.8" cy="101.5" r="0.7" fill="#b85a18" opacity="0.43"/><circle cx="291.6" cy="75.1" r="0.6" fill="#c86a20" opacity="0.35"/><circle cx="322.1" cy="66.2" r="0.8" fill="#d07828" opacity="0.68"/><circle cx="261.0" cy="84.0" r="0.7" fill="#c86a20" opacity="0.70"/><circle cx="277.5" cy="115.6" r="0.7" fill="#b85a18" opacity="0.67"/><circle cx="241.2" cy="51.3" r="0.9" fill="#d07828" opacity="0.47"/><circle cx="305.5" cy="101.2" r="1.0" fill="#d07828" opacity="0.36"/><circle cx="327.7" cy="92.0" r="0.8" fill="#b85a18" opacity="0.42"/><circle cx="286.3" cy="111.7" r="1.1" fill="#c86a20" opacity="0.62"/><circle cx="247.0" cy="47.3" r="0.7" fill="#b85a18" opacity="0.54"/><circle cx="231.9" cy="128.3" r="1.0" fill="#b85a18" opacity="0.47"/><circle cx="324.4" cy="12.0" r="0.8" fill="#b85a18" opacity="0.48"/><circle cx="261.0" cy="9.2" r="0.9" fill="#c86a20" opacity="0.64"/><circle cx="313.1" cy="68.3" r="0.9" fill="#c86a20" opacity="0.63"/><circle cx="299.7" cy="79.6" r="1.0" fill="#c86a20" opacity="0.68"/><circle cx="260.8" cy="88.0" r="0.8" fill="#d07828" opacity="0.47"/><circle cx="291.3" cy="34.2" r="0.5" fill="#c86a20" opacity="0.68"/><circle cx="293.8" cy="100.7" r="0.8" fill="#b85a18" opacity="0.53"/><circle cx="272.4" cy="18.1" r="0.8" fill="#c86a20" opacity="0.52"/><circle cx="211.1" cy="16.6" r="0.8" fill="#c86a20" opacity="0.52"/><circle cx="333.5" cy="50.7" r="1.1" fill="#d07828" opacity="0.48"/><circle cx="210.2" cy="82.4" r="0.6" fill="#c86a20" opacity="0.52"/><circle cx="285.4" cy="36.8" r="0.8" fill="#b85a18" opacity="0.46"/><circle cx="299.2" cy="88.1" r="0.9" fill="#b85a18" opacity="0.70"/><circle cx="333.9" cy="18.6" r="1.0" fill="#b85a18" opacity="0.39"/><circle cx="212.4" cy="63.5" r="0.6" fill="#b85a18" opacity="0.43"/><circle cx="336.3" cy="42.2" r="0.8" fill="#b85a18" opacity="0.46"/><circle cx="276.8" cy="8.3" r="0.8" fill="#c86a20" opacity="0.41"/><circle cx="226.2" cy="67.9" r="0.9" fill="#d07828" opacity="0.38"/><circle cx="229.4" cy="48.7" r="0.6" fill="#d07828" opacity="0.45"/><circle cx="263.7" cy="53.0" r="0.7" fill="#c86a20" opacity="0.39"/><circle cx="329.2" cy="79.3" r="0.8" fill="#d07828" opacity="0.36"/><circle cx="297.9" cy="59.9" r="0.6" fill="#b85a18" opacity="0.38"/><circle cx="250.3" cy="88.5" r="0.5" fill="#c86a20" opacity="0.37"/><circle cx="279.7" cy="49.3" r="0.5" fill="#b85a18" opacity="0.41"/><circle cx="258.4" cy="42.3" r="0.9" fill="#d07828" opacity="0.67"/><circle cx="222.4" cy="96.7" r="0.5" fill="#b85a18" opacity="0.52"/><circle cx="292.8" cy="107.2" r="0.9" fill="#b85a18" opacity="0.48"/><circle cx="303.2" cy="16.7" r="0.6" fill="#c86a20" opacity="0.67"/><circle cx="268.5" cy="117.0" r="1.1" fill="#d07828" opacity="0.45"/><circle cx="226.1" cy="60.1" r="0.8" fill="#d07828" opacity="0.50"/><circle cx="295.4" cy="117.9" r="0.8" fill="#c86a20" opacity="0.50"/><circle cx="288.2" cy="119.8" r="0.9" fill="#d07828" opacity="0.52"/><circle cx="238.8" cy="118.2" r="0.6" fill="#d07828" opacity="0.53"/><circle cx="327.6" cy="97.4" r="0.6" fill="#d07828" opacity="0.45"/><circle cx="260.1" cy="80.1" r="1.1" fill="#d07828" opacity="0.57"/><circle cx="288.7" cy="65.1" r="0.5" fill="#d07828" opacity="0.65"/><circle cx="211.5" cy="107.9" r="0.7" fill="#b85a18" opacity="0.68"/><circle cx="263.8" cy="46.4" r="0.9" fill="#d07828" opacity="0.63"/><circle cx="267.4" cy="61.7" r="0.7" fill="#d07828" opacity="0.69"/><circle cx="252.4" cy="78.2" r="1.1" fill="#d07828" opacity="0.52"/><circle cx="279.8" cy="118.0" r="0.7" fill="#b85a18" opacity="0.53"/><circle cx="239.3" cy="85.6" r="1.0" fill="#c86a20" opacity="0.42"/><circle cx="332.7" cy="106.8" r="0.9" fill="#d07828" opacity="0.50"/><circle cx="213.9" cy="34.3" r="0.5" fill="#b85a18" opacity="0.51"/><circle cx="219.1" cy="73.7" r="0.8" fill="#c86a20" opacity="0.59"/><circle cx="330.5" cy="96.4" r="0.6" fill="#b85a18" opacity="0.64"/><circle cx="331.2" cy="53.3" r="0.8" fill="#d07828" opacity="0.68"/><circle cx="250.4" cy="97.2" r="1.0" fill="#b85a18" opacity="0.56"/><circle cx="306.1" cy="13.1" r="1.0" fill="#c86a20" opacity="0.65"/><circle cx="311.7" cy="41.8" r="0.8" fill="#d07828" opacity="0.53"/><circle cx="222.7" cy="94.0" r="1.1" fill="#c86a20" opacity="0.36"/><circle cx="225.0" cy="131.2" r="1.1" fill="#d07828" opacity="0.59"/><circle cx="272.4" cy="74.4" r="0.8" fill="#b85a18" opacity="0.51"/><circle cx="259.1" cy="40.2" r="0.8" fill="#d07828" opacity="0.62"/><circle cx="246.1" cy="40.0" r="0.9" fill="#c86a20" opacity="0.40"/><circle cx="263.8" cy="101.7" r="0.7" fill="#d07828" opacity="0.69"/><circle cx="238.0" cy="56.0" r="0.9" fill="#d07828" opacity="0.58"/><circle cx="247.2" cy="44.2" r="0.9" fill="#d07828" opacity="0.36"/><circle cx="247.7" cy="120.3" r="0.6" fill="#b85a18" opacity="0.42"/><circle cx="302.3" cy="13.7" r="0.6" fill="#c86a20" opacity="0.58"/><circle cx="300.8" cy="41.2" r="1.0" fill="#b85a18" opacity="0.44"/><circle cx="322.7" cy="7.5" r="0.6" fill="#c86a20" opacity="0.49"/><circle cx="321.6" cy="85.9" r="1.1" fill="#c86a20" opacity="0.59"/><circle cx="211.4" cy="26.4" r="0.6" fill="#c86a20" opacity="0.44"/><circle cx="295.5" cy="105.5" r="1.0" fill="#d07828" opacity="0.66"/><circle cx="280.2" cy="114.8" r="0.7" fill="#d07828" opacity="0.39"/><circle cx="295.1" cy="41.3" r="1.0" fill="#c86a20" opacity="0.62"/><circle cx="221.3" cy="60.4" r="1.0" fill="#c86a20" opacity="0.44"/><circle cx="314.8" cy="55.6" r="1.1" fill="#b85a18" opacity="0.58"/><circle cx="317.7" cy="56.1" r="0.9" fill="#c86a20" opacity="0.68"/><circle cx="332.5" cy="121.4" r="0.9" fill="#d07828" opacity="0.52"/><circle cx="212.1" cy="100.3" r="0.5" fill="#c86a20" opacity="0.65"/><circle cx="269.9" cy="85.1" r="0.5" fill="#c86a20" opacity="0.52"/><circle cx="230.8" cy="42.5" r="0.7" fill="#b85a18" opacity="0.51"/><circle cx="287.0" cy="8.2" r="0.6" fill="#d07828" opacity="0.40"/><circle cx="218.5" cy="85.3" r="0.9" fill="#d07828" opacity="0.57"/><circle cx="285.6" cy="93.7" r="0.6" fill="#c86a20" opacity="0.58"/><circle cx="232.2" cy="71.7" r="0.7" fill="#b85a18" opacity="0.48"/><circle cx="215.6" cy="113.6" r="1.0" fill="#d07828" opacity="0.55"/><circle cx="214.2" cy="127.4" r="0.6" fill="#d07828" opacity="0.69"/><circle cx="302.3" cy="55.6" r="0.9" fill="#d07828" opacity="0.44"/><circle cx="245.5" cy="112.2" r="0.8" fill="#b85a18" opacity="0.44"/><circle cx="261.1" cy="127.0" r="1.0" fill="#b85a18" opacity="0.51"/><circle cx="209.1" cy="78.9" r="0.8" fill="#b85a18" opacity="0.57"/><circle cx="333.5" cy="51.5" r="1.1" fill="#d07828" opacity="0.60"/><circle cx="244.7" cy="44.8" r="1.1" fill="#b85a18" opacity="0.57"/><circle cx="254.5" cy="21.9" r="0.9" fill="#b85a18" opacity="0.48"/><circle cx="288.6" cy="54.0" r="0.7" fill="#c86a20" opacity="0.53"/><circle cx="260.7" cy="52.7" r="0.5" fill="#b85a18" opacity="0.60"/><circle cx="245.5" cy="51.7" r="1.1" fill="#b85a18" opacity="0.48"/><circle cx="337.1" cy="19.5" r="0.8" fill="#c86a20" opacity="0.65"/><circle cx="255.3" cy="7.5" r="1.1" fill="#b85a18" opacity="0.44"/><circle cx="260.9" cy="19.4" r="0.9" fill="#d07828" opacity="0.46"/><circle cx="258.5" cy="81.0" r="0.7" fill="#d07828" opacity="0.57"/><circle cx="290.9" cy="19.8" r="0.5" fill="#c86a20" opacity="0.55"/><circle cx="217.4" cy="80.0" r="0.7" fill="#b85a18" opacity="0.59"/><circle cx="246.9" cy="63.4" r="0.9" fill="#c86a20" opacity="0.41"/><circle cx="315.5" cy="83.8" r="0.8" fill="#c86a20" opacity="0.67"/><circle cx="296.8" cy="93.7" r="0.8" fill="#d07828" opacity="0.54"/><circle cx="222.6" cy="22.0" r="0.9" fill="#d07828" opacity="0.70"/><circle cx="319.2" cy="73.4" r="0.9" fill="#d07828" opacity="0.35"/><circle cx="256.4" cy="80.4" r="0.7" fill="#b85a18" opacity="0.37"/><circle cx="298.2" cy="42.6" r="0.6" fill="#c86a20" opacity="0.49"/><circle cx="330.4" cy="12.9" r="0.6" fill="#c86a20" opacity="0.42"/><circle cx="223.1" cy="53.0" r="1.0" fill="#d07828" opacity="0.67"/><circle cx="252.9" cy="90.4" r="0.7" fill="#d07828" opacity="0.50"/><circle cx="245.1" cy="79.8" r="1.1" fill="#d07828" opacity="0.69"/><circle cx="297.5" cy="73.2" r="0.5" fill="#b85a18" opacity="0.66"/><circle cx="242.6" cy="69.9" r="0.6" fill="#c86a20" opacity="0.40"/><circle cx="227.5" cy="67.1" r="0.6" fill="#c86a20" opacity="0.39"/><circle cx="232.3" cy="11.9" r="0.9" fill="#b85a18" opacity="0.54"/><circle cx="336.2" cy="4.1" r="1.0" fill="#c86a20" opacity="0.57"/><circle cx="229.2" cy="94.0" r="1.0" fill="#b85a18" opacity="0.59"/><circle cx="322.9" cy="121.4" r="0.8" fill="#d07828" opacity="0.41"/><circle cx="290.1" cy="49.0" r="1.0" fill="#d07828" opacity="0.40"/><circle cx="313.4" cy="109.5" r="0.6" fill="#d07828" opacity="0.48"/><circle cx="303.5" cy="130.3" r="0.7" fill="#c86a20" opacity="0.45"/><circle cx="218.7" cy="78.4" r="0.6" fill="#c86a20" opacity="0.56"/><circle cx="224.1" cy="25.6" r="0.6" fill="#b85a18" opacity="0.47"/><circle cx="312.7" cy="99.8" r="1.1" fill="#c86a20" opacity="0.38"/><circle cx="242.1" cy="58.0" r="1.0" fill="#b85a18" opacity="0.37"/><circle cx="316.2" cy="33.6" r="0.8" fill="#c86a20" opacity="0.50"/><circle cx="302.1" cy="100.4" r="0.7" fill="#c86a20" opacity="0.41"/><circle cx="334.9" cy="55.5" r="0.7" fill="#d07828" opacity="0.51"/><circle cx="290.5" cy="110.0" r="0.6" fill="#c86a20" opacity="0.36"/><circle cx="227.3" cy="106.2" r="1.1" fill="#b85a18" opacity="0.56"/><circle cx="219.6" cy="17.8" r="1.0" fill="#b85a18" opacity="0.55"/><circle cx="325.9" cy="21.1" r="0.6" fill="#b85a18" opacity="0.37"/><circle cx="242.8" cy="70.8" r="0.9" fill="#d07828" opacity="0.67"/><circle cx="268.6" cy="53.6" r="0.7" fill="#c86a20" opacity="0.53"/><circle cx="319.9" cy="87.3" r="0.6" fill="#b85a18" opacity="0.39"/><circle cx="228.5" cy="101.2" r="1.0" fill="#d07828" opacity="0.56"/><circle cx="252.0" cy="68.1" r="1.1" fill="#d07828" opacity="0.49"/><circle cx="224.4" cy="41.4" r="0.6" fill="#b85a18" opacity="0.64"/><circle cx="213.8" cy="128.9" r="0.9" fill="#b85a18" opacity="0.38"/><circle cx="251.0" cy="119.0" r="0.8" fill="#b85a18" opacity="0.49"/><circle cx="272.5" cy="129.3" r="0.9" fill="#c86a20" opacity="0.51"/><circle cx="222.8" cy="60.8" r="0.6" fill="#b85a18" opacity="0.67"/><circle cx="305.0" cy="8.4" r="1.1" fill="#d07828" opacity="0.45"/><rect x="209" y="99.6" width="48.7" height="33" fill="#93360a"/><circle cx="229.6" cy="33.5" r="1.6" fill="url(#sdot)"/><circle cx="262.0" cy="18.3" r="1.6" fill="url(#sdot)"/><circle cx="244.0" cy="27.0" r="1.6" fill="url(#sdot)"/><circle cx="258.0" cy="28.0" r="1.6" fill="url(#sdot)"/><circle cx="272.0" cy="23.0" r="1.6" fill="url(#sdot)"/><circle cx="278.0" cy="34.0" r="1.6" fill="url(#sdot)"/><circle cx="224.0" cy="37.0" r="1.6" fill="url(#sdot)"/><circle cx="240.0" cy="42.0" r="1.6" fill="url(#sdot)"/><circle cx="297.0" cy="33.0" r="1.6" fill="url(#sdot)"/><circle cx="310.0" cy="27.0" r="1.6" fill="url(#sdot)"/><circle cx="322.0" cy="15.0" r="1.6" fill="url(#sdot)"/><circle cx="300.0" cy="55.0" r="1.6" fill="url(#sdot)"/><circle cx="270.0" cy="95.0" r="1.6" fill="url(#sdot)"/><circle cx="280.0" cy="104.0" r="1.6" fill="url(#sdot)"/><circle cx="316.0" cy="96.0" r="1.6" fill="url(#sdot)"/><circle cx="229.0" cy="80.0" r="1.6" fill="url(#sdot)"/><circle cx="318.0" cy="60.0" r="1.6" fill="url(#sdot)"/><circle cx="330.0" cy="50.0" r="1.6" fill="url(#sdot)"/><circle cx="261.0" cy="40.0" r="1.6" fill="url(#sdot)"/><circle cx="251.5" cy="63.0" r="12.5" fill="url(#part2)"/><circle cx="255.5" cy="69.7" r="2.8" fill="#dca060" opacity="0.45"/><circle cx="246.8" cy="57.7" r="2.8" fill="#dca060" opacity="0.45"/><circle cx="253.2" cy="70.9" r="2.8" fill="#dca060" opacity="0.45"/><circle cx="254.1" cy="56.2" r="2.8" fill="#dca060" opacity="0.45"/><circle cx="245.1" cy="62.8" r="2.8" fill="#dca060" opacity="0.45"/><circle cx="258.3" cy="63.1" r="2.8" fill="#dca060" opacity="0.45"/><circle cx="246.5" cy="60.0" r="2.8" fill="#dca060" opacity="0.45"/><circle cx="301.3" cy="80.0" r="10.0" fill="url(#part2)"/><circle cx="302.7" cy="75.1" r="2.2" fill="#dca060" opacity="0.45"/><circle cx="301.8" cy="84.6" r="2.2" fill="#dca060" opacity="0.45"/><circle cx="307.6" cy="79.9" r="2.2" fill="#dca060" opacity="0.45"/><circle cx="305.6" cy="75.7" r="2.2" fill="#dca060" opacity="0.45"/><circle cx="306.5" cy="81.1" r="2.2" fill="#dca060" opacity="0.45"/><circle cx="296.5" cy="80.1" r="2.2" fill="#dca060" opacity="0.45"/><circle cx="306.5" cy="78.4" r="2.2" fill="#dca060" opacity="0.45"/><circle cx="284.0" cy="7.0" r="11.0" fill="url(#part2)"/><circle cx="288.1" cy="12.9" r="2.4" fill="#dca060" opacity="0.45"/><circle cx="289.3" cy="12.3" r="2.4" fill="#dca060" opacity="0.45"/><circle cx="277.8" cy="8.9" r="2.4" fill="#dca060" opacity="0.45"/><circle cx="280.5" cy="12.2" r="2.4" fill="#dca060" opacity="0.45"/><circle cx="286.0" cy="11.7" r="2.4" fill="#dca060" opacity="0.45"/><circle cx="287.7" cy="2.8" r="2.4" fill="#dca060" opacity="0.45"/><circle cx="285.0" cy="1.6" r="2.4" fill="#dca060" opacity="0.45"/><circle cx="320.2" cy="41.8" r="6.5" fill="url(#part2)"/><circle cx="324.5" cy="40.9" r="1.4" fill="#dca060" opacity="0.45"/><circle cx="320.3" cy="37.6" r="1.4" fill="#dca060" opacity="0.45"/><circle cx="316.6" cy="39.8" r="1.4" fill="#dca060" opacity="0.45"/><circle cx="322.9" cy="44.4" r="1.4" fill="#dca060" opacity="0.45"/><circle cx="321.7" cy="38.9" r="1.4" fill="#dca060" opacity="0.45"/><circle cx="324.1" cy="39.8" r="1.4" fill="#dca060" opacity="0.45"/><circle cx="317.2" cy="43.7" r="1.4" fill="#dca060" opacity="0.45"/><circle cx="270.1" cy="124.7" r="8.0" fill="url(#part2)"/><circle cx="265.9" cy="126.0" r="1.8" fill="#dca060" opacity="0.45"/><circle cx="274.5" cy="124.6" r="1.8" fill="#dca060" opacity="0.45"/><circle cx="273.8" cy="125.3" r="1.8" fill="#dca060" opacity="0.45"/><circle cx="269.0" cy="119.2" r="1.8" fill="#dca060" opacity="0.45"/><circle cx="265.5" cy="124.8" r="1.8" fill="#dca060" opacity="0.45"/><circle cx="265.3" cy="123.1" r="1.8" fill="#dca060" opacity="0.45"/><circle cx="270.9" cy="129.4" r="1.8" fill="#dca060" opacity="0.45"/><circle cx="338.0" cy="70.0" r="7.0" fill="url(#part2)"/><circle cx="334.0" cy="68.5" r="1.5" fill="#dca060" opacity="0.45"/><circle cx="339.5" cy="73.1" r="1.5" fill="#dca060" opacity="0.45"/><circle cx="335.2" cy="73.9" r="1.5" fill="#dca060" opacity="0.45"/><circle cx="335.6" cy="73.4" r="1.5" fill="#dca060" opacity="0.45"/><circle cx="336.8" cy="73.1" r="1.5" fill="#dca060" opacity="0.45"/><circle cx="342.2" cy="71.8" r="1.5" fill="#dca060" opacity="0.45"/><circle cx="338.6" cy="66.2" r="1.5" fill="#dca060" opacity="0.45"/><circle cx="209.0" cy="96.0" r="5.5" fill="url(#part2)"/><circle cx="207.6" cy="92.9" r="1.2" fill="#dca060" opacity="0.45"/><circle cx="212.0" cy="93.7" r="1.2" fill="#dca060" opacity="0.45"/><circle cx="205.8" cy="98.1" r="1.2" fill="#dca060" opacity="0.45"/><circle cx="212.2" cy="95.2" r="1.2" fill="#dca060" opacity="0.45"/><circle cx="211.3" cy="93.9" r="1.2" fill="#dca060" opacity="0.45"/><circle cx="207.0" cy="98.0" r="1.2" fill="#dca060" opacity="0.45"/><circle cx="210.9" cy="94.1" r="1.2" fill="#dca060" opacity="0.45"/><circle cx="251" cy="63.5" r="5" fill="none" stroke="#f4dcb0" stroke-width="1.6" opacity="0.6"/><circle cx="270.1" cy="124.7" r="4.6" fill="none" stroke="#fbecc8" stroke-width="1.6"/><circle cx="257.3" cy="53.4" r="1.6" fill="#fffaf0"/><circle cx="241.3" cy="59.5" r="1.3" fill="#fffaf0"/><circle cx="244.8" cy="71.8" r="1.5" fill="#fffaf0"/><circle cx="258.4" cy="72.5" r="1.5" fill="#fffaf0"/><circle cx="250.5" cy="64.7" r="1.4" fill="#fffaf0"/><circle cx="252.0" cy="62.0" r="1.1" fill="#fffaf0"/><circle cx="303.0" cy="90.5" r="1.7" fill="#fffaf0"/><circle cx="301.0" cy="79.0" r="1.3" fill="#fffaf0"/><circle cx="279.2" cy="12.6" r="1.5" fill="#fffaf0"/><circle cx="292.0" cy="12.6" r="1.5" fill="#fffaf0"/><circle cx="335.0" cy="77.0" r="1.4" fill="#fffaf0"/><circle cx="322.2" cy="116.7" r="1.4" fill="#fffaf0"/></g>
<text x="225.8" y="121.4" font-family="Liberation Serif" font-size="16.2" fill="#fff" stroke="#fff" stroke-width="0.3">(b)</text>
<rect x="228.9" y="44.6" width="45.7" height="40" fill="none" stroke="#28509a" stroke-width="1.6"/>
<rect x="356.8" y="35.5" width="8.2" height="64.5" fill="url(#afmbar)" stroke="#222" stroke-width="1"/>
<text x="346.5" y="33.5" font-family="Liberation Sans" font-size="7.6" fill="#222">15.0 nm</text>
<text x="344.5" y="106.8" font-family="Liberation Sans" font-size="7.6" fill="#222">-15.0 nm</text>
<text x="214" y="141.5" font-family="Liberation Sans" font-size="7.6" fill="#333">Height</text>
<rect x="307" y="133.6" width="26" height="1.8" fill="#111"/>
<text x="308.3" y="141.8" font-family="Liberation Sans" font-size="7.6" fill="#222">1.0 μm</text>
<g clip-path="url(#clipC)"><rect x="381" y="4" width="129" height="127" fill="#922e05"/><rect x="381" y="30" width="129" height="58" fill="url(#cmid)"/><rect x="381" y="88" width="129" height="43" fill="url(#cbot)"/><circle cx="486.1" cy="16.2" r="1.1" fill="#c87028" opacity="0.37"/><circle cx="476.9" cy="118.3" r="0.9" fill="#c87028" opacity="0.28"/><circle cx="466.6" cy="121.1" r="0.8" fill="#c87028" opacity="0.20"/><circle cx="499.7" cy="95.8" r="0.7" fill="#b05018" opacity="0.40"/><circle cx="433.5" cy="110.8" r="0.6" fill="#b05018" opacity="0.27"/><circle cx="407.5" cy="16.9" r="0.6" fill="#b05018" opacity="0.23"/><circle cx="464.1" cy="70.7" r="0.9" fill="#c06020" opacity="0.33"/><circle cx="467.3" cy="92.3" r="0.7" fill="#c87028" opacity="0.22"/><circle cx="492.6" cy="4.2" r="0.8" fill="#b05018" opacity="0.25"/><circle cx="483.0" cy="56.2" r="0.6" fill="#c87028" opacity="0.23"/><circle cx="455.4" cy="51.6" r="1.0" fill="#c87028" opacity="0.26"/><circle cx="467.7" cy="68.0" r="1.0" fill="#c06020" opacity="0.24"/><circle cx="401.3" cy="4.2" r="1.0" fill="#b05018" opacity="0.34"/><circle cx="507.4" cy="14.7" r="0.6" fill="#c87028" opacity="0.29"/><circle cx="431.8" cy="58.7" r="0.5" fill="#c06020" opacity="0.36"/><circle cx="443.1" cy="115.4" r="0.6" fill="#c06020" opacity="0.32"/><circle cx="421.3" cy="32.0" r="0.6" fill="#b05018" opacity="0.37"/><circle cx="502.3" cy="113.8" r="0.6" fill="#c06020" opacity="0.30"/><circle cx="392.9" cy="83.9" r="0.9" fill="#c06020" opacity="0.30"/><circle cx="424.1" cy="53.6" r="0.7" fill="#b05018" opacity="0.21"/><circle cx="485.1" cy="72.6" r="1.1" fill="#c06020" opacity="0.30"/><circle cx="425.8" cy="47.8" r="0.6" fill="#c06020" opacity="0.28"/><circle cx="442.0" cy="55.8" r="0.8" fill="#c87028" opacity="0.33"/><circle cx="444.4" cy="90.0" r="1.0" fill="#c87028" opacity="0.29"/><circle cx="421.8" cy="23.0" r="0.7" fill="#c06020" opacity="0.34"/><circle cx="488.6" cy="37.6" r="0.8" fill="#c06020" opacity="0.33"/><circle cx="444.4" cy="74.1" r="0.8" fill="#c87028" opacity="0.38"/><circle cx="436.3" cy="82.6" r="0.9" fill="#c87028" opacity="0.35"/><circle cx="418.9" cy="37.3" r="0.8" fill="#b05018" opacity="0.37"/><circle cx="397.2" cy="24.7" r="0.7" fill="#c87028" opacity="0.28"/><circle cx="418.3" cy="92.0" r="0.9" fill="#c87028" opacity="0.32"/><circle cx="428.2" cy="88.8" r="0.6" fill="#c06020" opacity="0.26"/><circle cx="493.2" cy="83.1" r="0.7" fill="#c06020" opacity="0.21"/><circle cx="492.8" cy="125.5" r="0.7" fill="#b05018" opacity="0.36"/><circle cx="464.3" cy="108.1" r="1.0" fill="#c06020" opacity="0.32"/><circle cx="496.6" cy="126.8" r="0.7" fill="#c87028" opacity="0.35"/><circle cx="500.2" cy="62.2" r="0.8" fill="#c87028" opacity="0.23"/><circle cx="446.1" cy="8.8" r="0.8" fill="#c06020" opacity="0.24"/><circle cx="428.3" cy="47.1" r="1.0" fill="#c06020" opacity="0.28"/><circle cx="455.5" cy="75.1" r="0.7" fill="#b05018" opacity="0.30"/><circle cx="502.4" cy="100.3" r="0.8" fill="#c87028" opacity="0.32"/><circle cx="398.0" cy="39.2" r="1.0" fill="#c87028" opacity="0.30"/><circle cx="452.4" cy="41.9" r="1.0" fill="#b05018" opacity="0.34"/><circle cx="495.9" cy="42.2" r="0.6" fill="#b05018" opacity="0.30"/><circle cx="433.0" cy="118.9" r="1.0" fill="#c87028" opacity="0.39"/><circle cx="423.1" cy="85.0" r="0.6" fill="#c06020" opacity="0.39"/><circle cx="455.5" cy="7.5" r="1.1" fill="#c87028" opacity="0.26"/><circle cx="444.6" cy="44.8" r="0.6" fill="#c06020" opacity="0.30"/><circle cx="461.2" cy="51.3" r="0.8" fill="#b05018" opacity="0.28"/><circle cx="395.9" cy="62.6" r="1.0" fill="#c06020" opacity="0.34"/><circle cx="472.6" cy="124.3" r="0.9" fill="#c06020" opacity="0.24"/><circle cx="427.4" cy="129.5" r="0.6" fill="#b05018" opacity="0.35"/><circle cx="465.5" cy="48.6" r="0.8" fill="#b05018" opacity="0.27"/><circle cx="449.5" cy="26.4" r="0.5" fill="#b05018" opacity="0.35"/><circle cx="409.7" cy="54.5" r="1.1" fill="#c87028" opacity="0.20"/><circle cx="446.9" cy="34.6" r="0.6" fill="#c87028" opacity="0.31"/><circle cx="506.5" cy="28.7" r="0.9" fill="#b05018" opacity="0.31"/><circle cx="467.6" cy="20.3" r="0.7" fill="#c06020" opacity="0.31"/><circle cx="477.4" cy="12.7" r="0.7" fill="#c87028" opacity="0.31"/><circle cx="460.1" cy="118.6" r="0.6" fill="#c06020" opacity="0.27"/><circle cx="477.7" cy="72.2" r="0.6" fill="#b05018" opacity="0.33"/><circle cx="487.6" cy="56.9" r="0.9" fill="#c87028" opacity="0.27"/><circle cx="401.7" cy="112.6" r="0.5" fill="#c87028" opacity="0.23"/><circle cx="477.6" cy="13.0" r="1.1" fill="#c87028" opacity="0.31"/><circle cx="443.8" cy="122.6" r="0.8" fill="#c87028" opacity="0.31"/><circle cx="505.6" cy="84.6" r="0.7" fill="#b05018" opacity="0.36"/><circle cx="391.0" cy="37.4" r="0.5" fill="#c06020" opacity="0.30"/><circle cx="456.7" cy="115.8" r="0.8" fill="#c87028" opacity="0.26"/><circle cx="497.0" cy="28.8" r="0.6" fill="#c87028" opacity="0.29"/><circle cx="508.7" cy="126.5" r="0.8" fill="#c87028" opacity="0.33"/><circle cx="404.1" cy="119.3" r="0.5" fill="#b05018" opacity="0.25"/><circle cx="506.3" cy="88.5" r="0.6" fill="#c87028" opacity="0.37"/><circle cx="431.1" cy="58.1" r="0.8" fill="#b05018" opacity="0.30"/><circle cx="471.9" cy="59.0" r="0.7" fill="#b05018" opacity="0.39"/><circle cx="382.3" cy="130.1" r="1.1" fill="#b05018" opacity="0.31"/><circle cx="508.5" cy="43.8" r="0.9" fill="#b05018" opacity="0.36"/><circle cx="492.2" cy="72.0" r="0.6" fill="#c87028" opacity="0.27"/><circle cx="437.1" cy="59.8" r="0.6" fill="#c06020" opacity="0.27"/><circle cx="394.0" cy="60.4" r="0.9" fill="#b05018" opacity="0.37"/><circle cx="456.1" cy="61.7" r="1.0" fill="#b05018" opacity="0.28"/><circle cx="497.3" cy="87.3" r="0.5" fill="#c06020" opacity="0.24"/><circle cx="403.5" cy="78.5" r="0.6" fill="#c87028" opacity="0.22"/><circle cx="390.7" cy="59.0" r="0.6" fill="#b05018" opacity="0.29"/><circle cx="481.1" cy="115.4" r="1.0" fill="#c06020" opacity="0.28"/><circle cx="418.8" cy="70.8" r="0.6" fill="#c87028" opacity="0.32"/><circle cx="442.4" cy="43.3" r="0.6" fill="#c06020" opacity="0.29"/><circle cx="507.9" cy="100.6" r="1.1" fill="#c87028" opacity="0.24"/><circle cx="419.5" cy="15.5" r="0.9" fill="#c06020" opacity="0.21"/><circle cx="411.1" cy="89.1" r="0.9" fill="#c87028" opacity="0.32"/><circle cx="420.6" cy="7.4" r="0.9" fill="#c87028" opacity="0.30"/><circle cx="390.9" cy="77.5" r="1.1" fill="#c87028" opacity="0.27"/><circle cx="426.1" cy="130.7" r="0.7" fill="#c06020" opacity="0.33"/><circle cx="497.0" cy="29.6" r="1.1" fill="#c87028" opacity="0.31"/><circle cx="470.1" cy="94.0" r="0.9" fill="#b05018" opacity="0.36"/><circle cx="459.6" cy="60.9" r="0.7" fill="#c87028" opacity="0.23"/><circle cx="409.5" cy="123.5" r="1.0" fill="#c87028" opacity="0.22"/><circle cx="401.3" cy="86.7" r="1.1" fill="#b05018" opacity="0.34"/><circle cx="451.3" cy="47.4" r="0.8" fill="#c87028" opacity="0.33"/><circle cx="439.6" cy="25.9" r="1.1" fill="#c87028" opacity="0.27"/><circle cx="508.7" cy="82.4" r="0.9" fill="#b05018" opacity="0.26"/><circle cx="442.7" cy="69.8" r="0.7" fill="#c06020" opacity="0.38"/><circle cx="495.4" cy="50.5" r="0.9" fill="#b05018" opacity="0.25"/><circle cx="497.1" cy="21.0" r="0.9" fill="#b05018" opacity="0.20"/><circle cx="494.1" cy="54.6" r="0.8" fill="#c06020" opacity="0.23"/><circle cx="488.7" cy="19.2" r="0.8" fill="#b05018" opacity="0.39"/><circle cx="484.3" cy="58.4" r="0.8" fill="#b05018" opacity="0.40"/><circle cx="484.0" cy="23.0" r="1.1" fill="#c87028" opacity="0.31"/><circle cx="398.7" cy="99.8" r="0.6" fill="#c06020" opacity="0.33"/><circle cx="460.3" cy="91.8" r="0.9" fill="#c87028" opacity="0.25"/><circle cx="456.0" cy="85.3" r="1.0" fill="#c87028" opacity="0.40"/><circle cx="470.1" cy="74.6" r="0.6" fill="#c87028" opacity="0.22"/><circle cx="458.9" cy="8.3" r="0.7" fill="#c87028" opacity="0.24"/><circle cx="385.3" cy="55.7" r="0.9" fill="#c06020" opacity="0.34"/><circle cx="504.2" cy="91.2" r="0.5" fill="#c06020" opacity="0.26"/><circle cx="383.8" cy="89.2" r="1.1" fill="#c87028" opacity="0.21"/><circle cx="455.4" cy="87.6" r="1.0" fill="#b05018" opacity="0.23"/><circle cx="444.4" cy="8.6" r="0.6" fill="#b05018" opacity="0.26"/><circle cx="506.2" cy="24.8" r="1.1" fill="#c87028" opacity="0.33"/><circle cx="500.3" cy="96.0" r="1.1" fill="#c87028" opacity="0.39"/><circle cx="416.5" cy="34.7" r="1.1" fill="#c87028" opacity="0.35"/><circle cx="396.5" cy="76.9" r="0.8" fill="#c87028" opacity="0.30"/><circle cx="457.8" cy="109.9" r="0.6" fill="#b05018" opacity="0.25"/><circle cx="453.2" cy="36.4" r="0.7" fill="#b05018" opacity="0.39"/><circle cx="497.1" cy="85.9" r="1.0" fill="#b05018" opacity="0.22"/><circle cx="451.1" cy="121.7" r="1.0" fill="#b05018" opacity="0.33"/><circle cx="486.5" cy="115.6" r="0.7" fill="#c87028" opacity="0.37"/><circle cx="438.8" cy="96.8" r="0.9" fill="#c06020" opacity="0.34"/><circle cx="504.8" cy="42.0" r="1.1" fill="#b05018" opacity="0.28"/><circle cx="391.8" cy="26.4" r="0.7" fill="#c87028" opacity="0.34"/><circle cx="440.5" cy="43.1" r="1.1" fill="#c06020" opacity="0.38"/><circle cx="426.2" cy="14.3" r="0.8" fill="#b05018" opacity="0.28"/><circle cx="477.1" cy="24.2" r="0.5" fill="#b05018" opacity="0.25"/><circle cx="392.4" cy="91.0" r="0.6" fill="#b05018" opacity="0.36"/><circle cx="390.0" cy="12.6" r="0.7" fill="#b05018" opacity="0.37"/><circle cx="397.2" cy="97.7" r="1.0" fill="#c06020" opacity="0.26"/><circle cx="507.6" cy="76.8" r="0.6" fill="#c06020" opacity="0.28"/><circle cx="459.8" cy="23.2" r="0.5" fill="#c87028" opacity="0.28"/><circle cx="395.5" cy="49.8" r="0.8" fill="#b05018" opacity="0.34"/><circle cx="405.0" cy="48.7" r="1.0" fill="#c87028" opacity="0.32"/><circle cx="451.5" cy="50.1" r="0.7" fill="#b05018" opacity="0.23"/><circle cx="381.7" cy="5.3" r="1.1" fill="#b05018" opacity="0.22"/><circle cx="392.3" cy="82.4" r="1.1" fill="#c06020" opacity="0.37"/><circle cx="421.2" cy="37.1" r="0.9" fill="#b05018" opacity="0.39"/><circle cx="483.5" cy="62.6" r="0.9" fill="#b05018" opacity="0.26"/><circle cx="419.0" cy="16.1" r="0.9" fill="#c06020" opacity="0.25"/><circle cx="493.9" cy="84.1" r="1.1" fill="#c87028" opacity="0.30"/><circle cx="443.1" cy="122.9" r="0.7" fill="#c06020" opacity="0.38"/><circle cx="478.7" cy="53.3" r="1.0" fill="#b05018" opacity="0.32"/><circle cx="459.9" cy="51.2" r="0.5" fill="#c06020" opacity="0.38"/><circle cx="501.2" cy="25.2" r="0.9" fill="#b05018" opacity="0.38"/><circle cx="501.9" cy="69.3" r="1.1" fill="#b05018" opacity="0.20"/><circle cx="432.2" cy="77.3" r="1.1" fill="#c87028" opacity="0.23"/><circle cx="412.5" cy="58.2" r="1.0" fill="#b05018" opacity="0.23"/><circle cx="415.7" cy="93.9" r="0.7" fill="#c87028" opacity="0.32"/><circle cx="488.5" cy="20.3" r="1.0" fill="#c87028" opacity="0.29"/><circle cx="483.7" cy="82.9" r="0.8" fill="#c87028" opacity="0.27"/><circle cx="426.6" cy="40.9" r="1.1" fill="#c87028" opacity="0.23"/><circle cx="505.6" cy="129.8" r="1.0" fill="#b05018" opacity="0.39"/><circle cx="421.6" cy="86.8" r="0.7" fill="#c06020" opacity="0.32"/><circle cx="467.4" cy="61.1" r="0.7" fill="#c87028" opacity="0.34"/><circle cx="485.9" cy="115.5" r="0.9" fill="#c06020" opacity="0.35"/><circle cx="459.0" cy="109.1" r="0.5" fill="#b05018" opacity="0.31"/><circle cx="467.2" cy="44.6" r="0.8" fill="#b05018" opacity="0.33"/><circle cx="507.6" cy="77.4" r="0.7" fill="#c06020" opacity="0.26"/><circle cx="435.3" cy="26.6" r="0.8" fill="#c06020" opacity="0.29"/><circle cx="386.8" cy="89.1" r="1.1" fill="#c06020" opacity="0.25"/><circle cx="487.2" cy="10.5" r="1.1" fill="#c87028" opacity="0.20"/><circle cx="507.9" cy="106.8" r="0.8" fill="#c06020" opacity="0.40"/><circle cx="498.0" cy="22.6" r="0.8" fill="#c06020" opacity="0.35"/><circle cx="388.0" cy="42.1" r="0.6" fill="#c87028" opacity="0.38"/><circle cx="463.5" cy="104.8" r="0.9" fill="#b05018" opacity="0.40"/><circle cx="466.4" cy="20.1" r="0.6" fill="#c06020" opacity="0.24"/><circle cx="478.7" cy="63.1" r="0.8" fill="#c87028" opacity="0.23"/><circle cx="437.4" cy="89.6" r="0.8" fill="#b05018" opacity="0.35"/><circle cx="410.0" cy="57.6" r="0.6" fill="#c06020" opacity="0.22"/><circle cx="417.5" cy="97.9" r="0.7" fill="#b05018" opacity="0.27"/><circle cx="481.8" cy="124.6" r="0.8" fill="#c06020" opacity="0.37"/><circle cx="391.5" cy="61.9" r="1.1" fill="#c06020" opacity="0.38"/><circle cx="466.5" cy="100.4" r="0.7" fill="#c06020" opacity="0.36"/><circle cx="478.2" cy="87.9" r="0.8" fill="#c87028" opacity="0.38"/><circle cx="381.1" cy="84.3" r="0.7" fill="#c06020" opacity="0.23"/><circle cx="494.4" cy="78.5" r="0.5" fill="#c06020" opacity="0.40"/><circle cx="443.9" cy="111.5" r="0.6" fill="#c87028" opacity="0.29"/><circle cx="473.5" cy="39.6" r="0.9" fill="#b05018" opacity="0.33"/><circle cx="426.9" cy="116.2" r="0.9" fill="#c06020" opacity="0.36"/><circle cx="438.9" cy="38.7" r="0.8" fill="#c87028" opacity="0.26"/><circle cx="405.0" cy="88.6" r="0.9" fill="#c87028" opacity="0.33"/><circle cx="388.5" cy="107.8" r="0.5" fill="#b05018" opacity="0.24"/><circle cx="439.2" cy="23.8" r="1.1" fill="#b05018" opacity="0.39"/><circle cx="425.3" cy="43.5" r="1.1" fill="#c87028" opacity="0.31"/><circle cx="457.0" cy="85.8" r="0.8" fill="#b05018" opacity="0.22"/><circle cx="495.3" cy="83.2" r="0.6" fill="#c06020" opacity="0.37"/><circle cx="436.6" cy="94.0" r="0.9" fill="#c06020" opacity="0.33"/><circle cx="422.8" cy="28.4" r="0.5" fill="#b05018" opacity="0.36"/><circle cx="388.2" cy="125.1" r="0.7" fill="#b05018" opacity="0.22"/><circle cx="397.4" cy="127.7" r="0.6" fill="#b05018" opacity="0.26"/><circle cx="424.3" cy="20.1" r="1.1" fill="#b05018" opacity="0.39"/><circle cx="394.1" cy="98.3" r="1.0" fill="#b05018" opacity="0.30"/><circle cx="469.1" cy="23.5" r="1.0" fill="#b05018" opacity="0.32"/><circle cx="410.0" cy="130.4" r="0.6" fill="#c87028" opacity="0.24"/><circle cx="501.0" cy="24.3" r="0.5" fill="#c87028" opacity="0.27"/><circle cx="385.0" cy="117.0" r="1.0" fill="#c06020" opacity="0.38"/><circle cx="455.6" cy="105.9" r="1.0" fill="#c87028" opacity="0.25"/><circle cx="430.7" cy="23.0" r="0.5" fill="#c06020" opacity="0.27"/><circle cx="488.4" cy="8.3" r="1.0" fill="#c87028" opacity="0.31"/><circle cx="425.1" cy="121.9" r="0.9" fill="#b05018" opacity="0.26"/><circle cx="452.7" cy="58.7" r="0.9" fill="#c06020" opacity="0.30"/><circle cx="415.0" cy="25.6" r="0.8" fill="#b05018" opacity="0.27"/><circle cx="454.5" cy="33.9" r="0.7" fill="#b05018" opacity="0.29"/><circle cx="443.3" cy="103.3" r="0.5" fill="#c87028" opacity="0.23"/><circle cx="488.8" cy="36.0" r="0.9" fill="#b05018" opacity="0.29"/><circle cx="465.6" cy="122.0" r="0.9" fill="#c06020" opacity="0.21"/><circle cx="488.7" cy="129.2" r="0.6" fill="#c06020" opacity="0.27"/><circle cx="458.0" cy="72.1" r="1.1" fill="#c87028" opacity="0.20"/><circle cx="412.1" cy="130.1" r="0.9" fill="#c87028" opacity="0.34"/><circle cx="458.8" cy="51.5" r="0.9" fill="#c06020" opacity="0.36"/><circle cx="503.5" cy="90.0" r="0.7" fill="#c87028" opacity="0.36"/><circle cx="509.0" cy="104.2" r="0.8" fill="#c87028" opacity="0.39"/><circle cx="420.8" cy="111.9" r="0.7" fill="#c87028" opacity="0.33"/><circle cx="383.7" cy="110.4" r="0.6" fill="#c06020" opacity="0.35"/><circle cx="505.9" cy="64.3" r="0.5" fill="#c87028" opacity="0.37"/><circle cx="506.7" cy="95.3" r="0.8" fill="#c87028" opacity="0.33"/><circle cx="469.7" cy="34.3" r="0.5" fill="#c06020" opacity="0.33"/><circle cx="420.1" cy="23.3" r="0.6" fill="#c87028" opacity="0.36"/><circle cx="478.7" cy="81.1" r="0.8" fill="#c06020" opacity="0.36"/><circle cx="502.9" cy="94.8" r="0.5" fill="#b05018" opacity="0.23"/><circle cx="401.0" cy="93.5" r="1.1" fill="#c06020" opacity="0.33"/><circle cx="463.5" cy="24.9" r="1.1" fill="#c06020" opacity="0.27"/><circle cx="466.7" cy="5.5" r="0.7" fill="#b05018" opacity="0.22"/><circle cx="447.1" cy="59.9" r="0.6" fill="#c06020" opacity="0.33"/><circle cx="478.5" cy="38.4" r="0.7" fill="#c87028" opacity="0.22"/><circle cx="437.8" cy="123.8" r="1.1" fill="#c87028" opacity="0.30"/><circle cx="435.9" cy="14.5" r="1.0" fill="#b05018" opacity="0.40"/><circle cx="393.5" cy="58.6" r="0.8" fill="#b05018" opacity="0.38"/><circle cx="429.1" cy="94.0" r="0.6" fill="#c06020" opacity="0.39"/><circle cx="393.2" cy="18.4" r="0.9" fill="#c87028" opacity="0.33"/><circle cx="460.8" cy="98.2" r="0.7" fill="#c06020" opacity="0.28"/><circle cx="403.0" cy="85.2" r="0.9" fill="#c87028" opacity="0.35"/><circle cx="393.2" cy="102.2" r="0.7" fill="#c06020" opacity="0.31"/><circle cx="483.6" cy="60.9" r="1.0" fill="#c87028" opacity="0.25"/><rect x="383" y="91.5" width="25" height="29.5" fill="#8c3410"/><circle cx="399.6" cy="9.2" r="3.5" fill="url(#sdot)"/><circle cx="507.0" cy="14.0" r="3.0" fill="url(#sdot)"/><circle cx="409.6" cy="57.0" r="2.0" fill="url(#sdot)"/><circle cx="501.3" cy="69.9" r="2.0" fill="url(#sdot)"/><circle cx="384.0" cy="124.0" r="2.0" fill="url(#sdot)"/><path d="M 416 52 Q 417 36 432 33 Q 445 29 460 33 Q 478 38 481 52 Q 484 62 480 72 Q 472 86 450 86 Q 428 86 421 76 Q 414 66 416 52 Z" fill="url(#bigp)"/><circle cx="426.0" cy="49.6" r="4.1" fill="#c07430" opacity="0.55"/><circle cx="420.8" cy="61.6" r="3.6" fill="#c88038" opacity="0.55"/><circle cx="476.5" cy="55.4" r="4.4" fill="#c07430" opacity="0.55"/><circle cx="471.6" cy="54.3" r="3.4" fill="#e0aa68" opacity="0.55"/><circle cx="441.9" cy="75.1" r="3.5" fill="#e0aa68" opacity="0.55"/><circle cx="447.3" cy="35.3" r="3.9" fill="#c07430" opacity="0.55"/><circle cx="470.0" cy="49.7" r="3.9" fill="#e0aa68" opacity="0.55"/><circle cx="462.3" cy="45.2" r="4.3" fill="#c88038" opacity="0.55"/><circle cx="466.3" cy="57.6" r="3.2" fill="#c07430" opacity="0.55"/><circle cx="451.4" cy="39.0" r="3.1" fill="#c07430" opacity="0.55"/><circle cx="427.9" cy="55.8" r="3.3" fill="#c88038" opacity="0.55"/><circle cx="437.8" cy="36.8" r="3.2" fill="#e0aa68" opacity="0.55"/><circle cx="465.3" cy="64.4" r="4.1" fill="#e0aa68" opacity="0.55"/><circle cx="467.6" cy="64.6" r="2.9" fill="#c88038" opacity="0.55"/><circle cx="438.8" cy="42.1" r="3.7" fill="#c07430" opacity="0.55"/><circle cx="429.3" cy="48.3" r="4.2" fill="#e4b478" opacity="0.55"/><circle cx="469.3" cy="66.7" r="3.3" fill="#c07430" opacity="0.55"/><circle cx="469.9" cy="73.5" r="2.5" fill="#e4b478" opacity="0.55"/><circle cx="443.8" cy="35.5" r="4.2" fill="#c88038" opacity="0.55"/><circle cx="470.5" cy="46.8" r="3.5" fill="#e0aa68" opacity="0.55"/><circle cx="470.0" cy="42.7" r="3.1" fill="#c07430" opacity="0.55"/><circle cx="427.9" cy="67.7" r="3.0" fill="#e4b478" opacity="0.55"/><circle cx="428.3" cy="72.9" r="3.1" fill="#c07430" opacity="0.55"/><circle cx="462.8" cy="79.6" r="4.3" fill="#c07430" opacity="0.55"/><circle cx="433.7" cy="46.5" r="3.7" fill="#c07430" opacity="0.55"/><circle cx="459.5" cy="42.1" r="4.1" fill="#c07430" opacity="0.55"/><circle cx="446" cy="62" r="10" fill="none" stroke="#eccc98" stroke-width="3" opacity="0.55"/><ellipse cx="448.3" cy="54.5" rx="2.3" ry="2.1" fill="#fffaf0"/><ellipse cx="461.0" cy="34.5" rx="3.3" ry="3.8" fill="#fffaf0"/><ellipse cx="420.0" cy="49.3" rx="3.0" ry="3.0" fill="#fffaf0"/><ellipse cx="429.5" cy="80.0" rx="3.2" ry="3.2" fill="#fffaf0"/><ellipse cx="463.5" cy="82.0" rx="3.2" ry="3.2" fill="#fffaf0"/><path d="M 442 60 L 452 59.5 L 453 63 L 447 64 L 446 69 L 442 69.5 Z" fill="#fffaf0"/><line x1="381" y1="60.4" x2="476" y2="60.4" stroke="#5a1400" stroke-width="0.7" opacity="0.6"/></g>
<text x="387.8" y="108.6" font-family="Liberation Serif" font-size="17" fill="#fff" stroke="#fff" stroke-width="0.3">(c)</text>
<rect x="529.6" y="34.5" width="8.4" height="64.5" fill="url(#afmbar)" stroke="#222" stroke-width="1"/>
<text x="519" y="32.5" font-family="Liberation Sans" font-size="7.6" fill="#222">15.0 nm</text>
<text x="517" y="105.6" font-family="Liberation Sans" font-size="7.6" fill="#222">-15.0 nm</text>
<text x="385.7" y="140.5" font-family="Liberation Sans" font-size="7.6" fill="#333">Height</text>
<rect x="479.6" y="132" width="26.2" height="1.8" fill="#111"/>
<text x="476" y="141" font-family="Liberation Sans" font-size="7.6" fill="#222">400.0 nm</text>
<text x="44.4" y="187.4" font-family="Liberation Serif" font-size="16" fill="#111" stroke="#111" stroke-width="0.1">(d)</text>
<g clip-path="url(#clipG)"><polygon points="6.5,213.2 42.0,205.8 99.0,197.6 120.0,196.4 150.0,197.3 200.0,199.5 233.0,202.7 210.0,208.5 180.0,216.5 165.0,221.5 152.0,225.8 142.0,228.3 132.0,228.5 120.0,226.5 99.0,223.3 60.0,220.4 42.0,218.9" fill="#f2eeec"/><polyline points="6.5,213.2 10.5,212.4 14.5,211.5 18.5,210.7 22.5,209.9 26.5,209.0 30.5,208.2 34.5,207.4 38.5,206.5 42.5,205.7 46.5,205.2 50.5,204.6 54.5,204.0 58.5,203.4 62.5,202.9 66.5,202.3 70.5,201.7 74.5,201.1 78.5,200.5 82.5,200.0 86.5,199.4 90.5,198.8 94.5,198.2 98.5,197.7 102.5,197.4 106.5,197.2 110.5,196.9 114.5,196.7 118.5,196.5 122.5,196.5 126.5,196.6 130.5,196.7 134.5,196.8 138.5,197.0 142.5,197.1 146.5,197.2 150.5,197.3 154.5,197.5 158.5,197.7 162.5,197.9 166.5,198.0 170.5,198.2 174.5,198.4 178.5,198.6 182.5,198.7 186.5,198.9 190.5,199.1 194.5,199.3 198.5,199.4 202.5,199.7 206.5,200.1 210.5,200.5 214.5,200.9 218.5,201.3 222.5,201.7 226.5,202.1 230.5,202.5 233.0,202.7" fill="none" stroke="#c4aca0" stroke-width="0.5"/><polyline points="6.5,213.2 10.5,212.5 14.5,211.8 18.5,211.1 22.5,210.4 26.5,209.7 30.5,209.0 34.5,208.3 38.5,207.6 42.5,206.9 46.5,206.4 50.5,205.9 54.5,205.5 58.5,205.0 62.5,204.5 66.5,204.0 70.5,203.5 74.5,203.0 78.5,202.5 82.5,202.0 86.5,201.5 90.5,201.0 94.5,200.5 98.5,200.0 102.5,199.8 106.5,199.7 110.5,199.5 114.5,199.3 118.5,199.2 122.5,199.2 126.5,199.4 130.5,199.6 134.5,199.7 138.5,199.8 142.5,199.9 146.5,199.9 150.5,199.9 154.5,200.0 158.5,200.0 162.5,200.1 166.5,200.1 170.5,200.2 174.5,200.2 178.5,200.2 182.5,200.3 186.5,200.3 190.5,200.4 194.5,200.5 198.5,200.5 202.5,200.7 206.5,201.0 210.5,201.2 214.5,201.5 218.5,201.8 222.5,202.0 226.5,202.3 230.5,202.5 233.0,202.7" fill="none" stroke="#c4aca0" stroke-width="0.5"/><polyline points="6.5,213.2 10.5,212.6 14.5,212.1 18.5,211.5 22.5,210.9 26.5,210.4 30.5,209.8 34.5,209.2 38.5,208.7 42.5,208.1 46.5,207.7 50.5,207.3 54.5,206.9 58.5,206.5 62.5,206.1 66.5,205.7 70.5,205.2 74.5,204.8 78.5,204.4 82.5,204.0 86.5,203.6 90.5,203.2 94.5,202.7 98.5,202.3 102.5,202.2 106.5,202.1 110.5,202.1 114.5,202.0 118.5,201.9 122.5,202.0 126.5,202.2 130.5,202.4 134.5,202.6 138.5,202.7 142.5,202.7 146.5,202.6 150.5,202.6 154.5,202.5 158.5,202.4 162.5,202.3 166.5,202.2 170.5,202.1 174.5,202.0 178.5,201.9 182.5,201.8 186.5,201.8 190.5,201.7 194.5,201.7 198.5,201.6 202.5,201.7 206.5,201.8 210.5,201.9 214.5,202.1 218.5,202.2 222.5,202.3 226.5,202.5 230.5,202.6 233.0,202.7" fill="none" stroke="#c4aca0" stroke-width="0.5"/><polyline points="6.5,213.2 10.5,212.8 14.5,212.3 18.5,211.9 22.5,211.5 26.5,211.0 30.5,210.6 34.5,210.2 38.5,209.8 42.5,209.3 46.5,209.0 50.5,208.7 54.5,208.3 58.5,208.0 62.5,207.7 66.5,207.4 70.5,207.0 74.5,206.7 78.5,206.3 82.5,206.0 86.5,205.7 90.5,205.3 94.5,205.0 98.5,204.7 102.5,204.6 106.5,204.6 110.5,204.6 114.5,204.6 118.5,204.6 122.5,204.8 126.5,205.0 130.5,205.3 134.5,205.5 138.5,205.5 142.5,205.6 146.5,205.4 150.5,205.2 154.5,205.0 158.5,204.8 162.5,204.5 166.5,204.3 170.5,204.1 174.5,203.8 178.5,203.6 182.5,203.4 186.5,203.2 190.5,203.1 194.5,202.9 198.5,202.7 202.5,202.7 206.5,202.7 210.5,202.7 214.5,202.7 218.5,202.7 222.5,202.7 226.5,202.7 230.5,202.7 233.0,202.7" fill="none" stroke="#c4aca0" stroke-width="0.5"/><polyline points="6.5,213.2 10.5,212.9 14.5,212.6 18.5,212.3 22.5,212.0 26.5,211.7 30.5,211.4 34.5,211.1 38.5,210.8 42.5,210.5 46.5,210.3 50.5,210.0 54.5,209.8 58.5,209.6 62.5,209.3 66.5,209.0 70.5,208.8 74.5,208.5 78.5,208.3 82.5,208.0 86.5,207.8 90.5,207.5 94.5,207.2 98.5,207.0 102.5,207.0 106.5,207.1 110.5,207.2 114.5,207.2 118.5,207.3 122.5,207.5 126.5,207.9 130.5,208.2 134.5,208.3 138.5,208.4 142.5,208.4 146.5,208.1 150.5,207.8 154.5,207.5 158.5,207.1 162.5,206.8 166.5,206.4 170.5,206.0 174.5,205.6 178.5,205.3 182.5,204.9 186.5,204.7 190.5,204.4 194.5,204.1 198.5,203.8 202.5,203.7 206.5,203.5 210.5,203.4 214.5,203.3 218.5,203.1 222.5,203.0 226.5,202.9 230.5,202.8 233.0,202.7" fill="none" stroke="#c4aca0" stroke-width="0.5"/><polyline points="6.5,213.2 10.5,213.0 14.5,212.9 18.5,212.7 22.5,212.5 26.5,212.4 30.5,212.2 34.5,212.1 38.5,211.9 42.5,211.7 46.5,211.6 50.5,211.4 54.5,211.2 58.5,211.1 62.5,210.9 66.5,210.7 70.5,210.6 74.5,210.4 78.5,210.2 82.5,210.0 86.5,209.8 90.5,209.7 94.5,209.5 98.5,209.3 102.5,209.4 106.5,209.6 110.5,209.7 114.5,209.9 118.5,210.0 122.5,210.3 126.5,210.7 130.5,211.0 134.5,211.2 138.5,211.2 142.5,211.2 146.5,210.8 150.5,210.4 154.5,210.0 158.5,209.5 162.5,209.0 166.5,208.5 170.5,208.0 174.5,207.4 178.5,206.9 182.5,206.5 186.5,206.1 190.5,205.7 194.5,205.3 198.5,204.9 202.5,204.6 206.5,204.4 210.5,204.1 214.5,203.8 218.5,203.6 222.5,203.3 226.5,203.1 230.5,202.9 233.0,202.7" fill="none" stroke="#c4aca0" stroke-width="0.5"/><polyline points="6.5,213.2 10.5,213.2 14.5,213.1 18.5,213.1 22.5,213.1 26.5,213.1 30.5,213.0 34.5,213.0 38.5,213.0 42.5,212.9 46.5,212.9 50.5,212.8 54.5,212.7 58.5,212.6 62.5,212.5 66.5,212.4 70.5,212.3 74.5,212.2 78.5,212.1 82.5,212.0 86.5,211.9 90.5,211.8 94.5,211.7 98.5,211.6 102.5,211.8 106.5,212.0 110.5,212.3 114.5,212.5 118.5,212.7 122.5,213.1 126.5,213.5 130.5,213.9 134.5,214.1 138.5,214.1 142.5,214.0 146.5,213.5 150.5,213.1 154.5,212.5 158.5,211.8 162.5,211.2 166.5,210.6 170.5,209.9 174.5,209.3 178.5,208.6 182.5,208.1 186.5,207.6 190.5,207.1 194.5,206.6 198.5,206.1 202.5,205.6 206.5,205.2 210.5,204.8 214.5,204.4 218.5,204.1 222.5,203.7 226.5,203.3 230.5,202.9 233.0,202.7" fill="none" stroke="#c4aca0" stroke-width="0.5"/><polyline points="6.5,213.2 10.5,213.3 14.5,213.4 18.5,213.5 22.5,213.6 26.5,213.7 30.5,213.8 34.5,213.9 38.5,214.0 42.5,214.1 46.5,214.1 50.5,214.1 54.5,214.1 58.5,214.1 62.5,214.1 66.5,214.1 70.5,214.1 74.5,214.1 78.5,214.1 82.5,214.0 86.5,214.0 90.5,214.0 94.5,214.0 98.5,214.0 102.5,214.2 106.5,214.5 110.5,214.8 114.5,215.1 118.5,215.4 122.5,215.8 126.5,216.3 130.5,216.8 134.5,217.0 138.5,216.9 142.5,216.9 146.5,216.3 150.5,215.7 154.5,215.0 158.5,214.2 162.5,213.4 166.5,212.6 170.5,211.9 174.5,211.1 178.5,210.3 182.5,209.6 186.5,209.0 190.5,208.4 194.5,207.8 198.5,207.2 202.5,206.6 206.5,206.1 210.5,205.5 214.5,205.0 218.5,204.5 222.5,204.0 226.5,203.5 230.5,203.0 233.0,202.7" fill="none" stroke="#c4aca0" stroke-width="0.5"/><polyline points="6.5,213.2 10.5,213.4 14.5,213.7 18.5,213.9 22.5,214.2 26.5,214.4 30.5,214.6 34.5,214.9 38.5,215.1 42.5,215.3 46.5,215.4 50.5,215.5 54.5,215.6 58.5,215.7 62.5,215.7 66.5,215.8 70.5,215.9 74.5,215.9 78.5,216.0 82.5,216.0 86.5,216.1 90.5,216.2 94.5,216.2 98.5,216.3 102.5,216.6 106.5,217.0 110.5,217.4 114.5,217.8 118.5,218.1 122.5,218.6 126.5,219.1 130.5,219.6 134.5,219.8 138.5,219.8 142.5,219.7 146.5,219.0 150.5,218.3 154.5,217.5 158.5,216.6 162.5,215.7 166.5,214.7 170.5,213.8 174.5,212.9 178.5,212.0 182.5,211.2 186.5,210.4 190.5,209.7 194.5,209.0 198.5,208.3 202.5,207.6 206.5,206.9 210.5,206.2 214.5,205.6 218.5,205.0 222.5,204.3 226.5,203.7 230.5,203.1 233.0,202.7" fill="none" stroke="#c4aca0" stroke-width="0.5"/><polyline points="6.5,213.2 10.5,213.6 14.5,213.9 18.5,214.3 22.5,214.7 26.5,215.1 30.5,215.4 34.5,215.8 38.5,216.2 42.5,216.5 46.5,216.7 50.5,216.9 54.5,217.0 58.5,217.2 62.5,217.4 66.5,217.5 70.5,217.6 74.5,217.8 78.5,217.9 82.5,218.1 86.5,218.2 90.5,218.3 94.5,218.5 98.5,218.6 102.5,219.0 106.5,219.5 110.5,219.9 114.5,220.4 118.5,220.9 122.5,221.4 126.5,221.9 130.5,222.5 134.5,222.7 138.5,222.7 142.5,222.5 146.5,221.7 150.5,220.9 154.5,220.0 158.5,218.9 162.5,217.9 166.5,216.8 170.5,215.8 174.5,214.7 178.5,213.6 182.5,212.7 186.5,211.9 190.5,211.0 194.5,210.2 198.5,209.4 202.5,208.5 206.5,207.7 210.5,206.9 214.5,206.2 218.5,205.4 222.5,204.7 226.5,203.9 230.5,203.2 233.0,202.7" fill="none" stroke="#c4aca0" stroke-width="0.5"/><polyline points="6.5,213.2 10.5,213.7 14.5,214.2 18.5,214.7 22.5,215.2 26.5,215.7 30.5,216.2 34.5,216.8 38.5,217.3 42.5,217.7 46.5,218.0 50.5,218.2 54.5,218.5 58.5,218.7 62.5,219.0 66.5,219.2 70.5,219.4 74.5,219.6 78.5,219.8 82.5,220.1 86.5,220.3 90.5,220.5 94.5,220.7 98.5,220.9 102.5,221.4 106.5,222.0 110.5,222.5 114.5,223.0 118.5,223.6 122.5,224.1 126.5,224.8 130.5,225.4 134.5,225.6 138.5,225.5 142.5,225.3 146.5,224.4 150.5,223.6 154.5,222.5 158.5,221.3 162.5,220.1 166.5,218.9 170.5,217.7 174.5,216.5 178.5,215.3 182.5,214.3 186.5,213.3 190.5,212.4 194.5,211.4 198.5,210.5 202.5,209.5 206.5,208.6 210.5,207.7 214.5,206.8 218.5,205.9 222.5,205.0 226.5,204.1 230.5,203.3 233.0,202.7" fill="none" stroke="#c4aca0" stroke-width="0.5"/><polyline points="6.5,213.2 10.5,213.8 14.5,214.5 18.5,215.1 22.5,215.8 26.5,216.4 30.5,217.1 34.5,217.7 38.5,218.3 42.5,218.9 46.5,219.3 50.5,219.6 54.5,219.9 58.5,220.3 62.5,220.6 66.5,220.9 70.5,221.2 74.5,221.5 78.5,221.8 82.5,222.1 86.5,222.4 90.5,222.7 94.5,223.0 98.5,223.3 102.5,223.8 106.5,224.4 110.5,225.1 114.5,225.7 118.5,226.3 122.5,226.9 126.5,227.6 130.5,228.2 134.5,228.4 138.5,228.4 142.5,228.2 146.5,227.2 150.5,226.2 154.5,225.0 158.5,223.7 162.5,222.3 166.5,221.0 170.5,219.7 174.5,218.3 178.5,217.0 182.5,215.8 186.5,214.8 190.5,213.7 194.5,212.6 198.5,211.6 202.5,210.5 206.5,209.4 210.5,208.4 214.5,207.4 218.5,206.4 222.5,205.3 226.5,204.3 230.5,203.3 233.0,202.7" fill="none" stroke="#c4aca0" stroke-width="0.5"/><polygon points="104,197.4 120,196.4 150,197.3 200,199.5 233,202.7 210,208.5 180,216.5 165,221.5 152,225.8 142,228.3 132,228.5 120,226.5 106,224.5" fill="url(#dia)"/><line x1="7.0" y1="212.1" x2="9.2" y2="214.2" stroke="#84492f" stroke-width="1.8"/><line x1="14.4" y1="210.5" x2="16.6" y2="215.4" stroke="#84492f" stroke-width="1.9"/><line x1="21.8" y1="209.0" x2="24.0" y2="216.6" stroke="#84492f" stroke-width="2.0"/><line x1="29.2" y1="207.5" x2="31.4" y2="217.8" stroke="#84492f" stroke-width="2.0"/><line x1="36.6" y1="205.9" x2="38.8" y2="219.0" stroke="#84492f" stroke-width="2.1"/><line x1="44.0" y1="204.6" x2="46.2" y2="220.0" stroke="#84492f" stroke-width="2.2"/><line x1="51.4" y1="203.5" x2="53.6" y2="220.6" stroke="#84492f" stroke-width="2.3"/><line x1="58.8" y1="202.4" x2="61.0" y2="221.2" stroke="#84492f" stroke-width="2.4"/><line x1="66.2" y1="201.4" x2="68.4" y2="221.7" stroke="#84492f" stroke-width="2.4"/><line x1="73.6" y1="200.3" x2="75.8" y2="222.3" stroke="#84492f" stroke-width="2.5"/><line x1="81.0" y1="199.2" x2="83.2" y2="222.8" stroke="#84492f" stroke-width="2.6"/><line x1="88.4" y1="198.2" x2="90.6" y2="223.4" stroke="#84492f" stroke-width="2.6"/><line x1="95.8" y1="197.1" x2="98.0" y2="223.9" stroke="#84492f" stroke-width="2.6"/></g>
<circle cx="103.8" cy="184.4" r="2.1" fill="#d8d830"/><circle cx="107.8" cy="188.2" r="2.1" fill="#d8d830"/><circle cx="103.6" cy="191.6" r="2.1" fill="#9a72b4"/><circle cx="107.2" cy="194.8" r="2.0" fill="#9a72b4"/><circle cx="106.8" cy="197.2" r="2.0" fill="#d8d830"/><circle cx="109.8" cy="199.8" r="2.0" fill="#d8d830"/><circle cx="113.5" cy="184.4" r="2.1" fill="#d8d830"/><circle cx="117.5" cy="188.2" r="2.1" fill="#d8d830"/><circle cx="113.3" cy="191.6" r="2.1" fill="#9a72b4"/><circle cx="116.9" cy="194.8" r="2.0" fill="#9a72b4"/><circle cx="116.5" cy="197.2" r="2.0" fill="#d8d830"/><circle cx="119.5" cy="199.8" r="2.0" fill="#d8d830"/><circle cx="123.8" cy="184.0" r="2.1" fill="#d8d830"/><circle cx="127.8" cy="187.8" r="2.1" fill="#d8d830"/><circle cx="123.6" cy="191.2" r="2.1" fill="#9a72b4"/><circle cx="127.2" cy="194.4" r="2.0" fill="#9a72b4"/><circle cx="126.8" cy="196.8" r="2.0" fill="#d8d830"/><circle cx="129.8" cy="199.4" r="2.0" fill="#d8d830"/><circle cx="134.0" cy="184.4" r="2.1" fill="#d8d830"/><circle cx="138.0" cy="188.2" r="2.1" fill="#d8d830"/><circle cx="133.8" cy="191.6" r="2.1" fill="#9a72b4"/><circle cx="137.4" cy="194.8" r="2.0" fill="#9a72b4"/><circle cx="137.0" cy="197.2" r="2.0" fill="#d8d830"/><circle cx="140.0" cy="199.8" r="2.0" fill="#d8d830"/>
<line x1="247.1" y1="230.9" x2="247.1" y2="218.1" stroke="#1414e8" stroke-width="2"/><polygon points="247.1,214.1 244.5,220.1 249.7,220.1" fill="#1414e8"/><line x1="247.1" y1="230.9" x2="261.3" y2="230.9" stroke="#18d018" stroke-width="2"/><polygon points="265.3,230.9 259.3,228.3 259.3,233.5" fill="#18d018"/><line x1="247.1" y1="230.9" x2="238.5" y2="234.7" stroke="#e81010" stroke-width="2"/><polygon points="235.5,236.2 239.0,231.4 241.5,236.4" fill="#e81010"/><circle cx="247.1" cy="230.9" r="1.4" fill="#fff" stroke="#aaa" stroke-width="0.6"/><text x="265.6" y="216.8" font-family="Liberation Serif" font-weight="bold" font-size="8.8" fill="#111">c</text><text x="270.3" y="237.6" font-family="Liberation Serif" font-weight="bold" font-size="8.4" fill="#111">b</text><text x="250.9" y="247.0" font-family="Liberation Serif" font-weight="bold" font-size="8.8" fill="#111">a</text>
<line x1="256.2" y1="344.2" x2="256.2" y2="331.2" stroke="#1414e8" stroke-width="2"/><polygon points="256.2,327.2 253.6,333.2 258.8,333.2" fill="#1414e8"/><line x1="256.2" y1="344.2" x2="270.3" y2="344.2" stroke="#18d018" stroke-width="2"/><polygon points="274.3,344.2 268.3,341.6 268.3,346.8" fill="#18d018"/><line x1="256.2" y1="344.2" x2="247.5" y2="348.1" stroke="#e81010" stroke-width="2"/><polygon points="244.5,349.6 248.0,344.8 250.5,349.8" fill="#e81010"/><circle cx="256.2" cy="344.2" r="1.4" fill="#fff" stroke="#aaa" stroke-width="0.6"/><text x="274.8" y="330.8" font-family="Liberation Serif" font-weight="bold" font-size="8.8" fill="#111">c</text><text x="276.4" y="349.6" font-family="Liberation Serif" font-weight="bold" font-size="8.4" fill="#111">b</text><text x="259.5" y="360.3" font-family="Liberation Serif" font-weight="bold" font-size="8.8" fill="#111">a</text>
<rect x="36.5" y="242.5" width="184" height="10" fill="url(#jet)" stroke="#666" stroke-width="0.6"/>
<line x1="37.5" y1="252.5" x2="37.5" y2="254.3" stroke="#777" stroke-width="0.6"/><text x="37.5" y="263" font-family="Liberation Sans" font-size="8.5" text-anchor="middle" fill="#555">0.0</text><line x1="55.8" y1="252.5" x2="55.8" y2="254.3" stroke="#777" stroke-width="0.6"/><text x="55.8" y="263" font-family="Liberation Sans" font-size="8.5" text-anchor="middle" fill="#555">0.1</text><line x1="74.1" y1="252.5" x2="74.1" y2="254.3" stroke="#777" stroke-width="0.6"/><text x="74.1" y="263" font-family="Liberation Sans" font-size="8.5" text-anchor="middle" fill="#555">0.2</text><line x1="92.4" y1="252.5" x2="92.4" y2="254.3" stroke="#777" stroke-width="0.6"/><text x="92.4" y="263" font-family="Liberation Sans" font-size="8.5" text-anchor="middle" fill="#555">0.3</text><line x1="110.7" y1="252.5" x2="110.7" y2="254.3" stroke="#777" stroke-width="0.6"/><text x="110.7" y="263" font-family="Liberation Sans" font-size="8.5" text-anchor="middle" fill="#555">0.4</text><line x1="129.0" y1="252.5" x2="129.0" y2="254.3" stroke="#777" stroke-width="0.6"/><text x="129.0" y="263" font-family="Liberation Sans" font-size="8.5" text-anchor="middle" fill="#555">0.5</text><line x1="147.3" y1="252.5" x2="147.3" y2="254.3" stroke="#777" stroke-width="0.6"/><text x="147.3" y="263" font-family="Liberation Sans" font-size="8.5" text-anchor="middle" fill="#555">0.6</text><line x1="165.6" y1="252.5" x2="165.6" y2="254.3" stroke="#777" stroke-width="0.6"/><text x="165.6" y="263" font-family="Liberation Sans" font-size="8.5" text-anchor="middle" fill="#555">0.7</text><line x1="183.9" y1="252.5" x2="183.9" y2="254.3" stroke="#777" stroke-width="0.6"/><text x="183.9" y="263" font-family="Liberation Sans" font-size="8.5" text-anchor="middle" fill="#555">0.8</text><line x1="202.2" y1="252.5" x2="202.2" y2="254.3" stroke="#777" stroke-width="0.6"/><text x="202.2" y="263" font-family="Liberation Sans" font-size="8.5" text-anchor="middle" fill="#555">0.9</text><line x1="220.5" y1="252.5" x2="220.5" y2="254.3" stroke="#777" stroke-width="0.6"/><text x="220.5" y="263" font-family="Liberation Sans" font-size="8.5" text-anchor="middle" fill="#555">1.0</text>
<g filter="url(#blur3d)">
<polygon points="29,305 60,301 78,293 104,318 131,326 129.5,327" fill="#1448f0"/>
<polygon points="29,305 129.5,325.5 129.5,369 115,364.5 100,360 80,355 60,351.5 45,349 29,348" fill="#1040f0"/>
<polygon points="29,305 129.5,325.5 129.5,329 29,309" fill="#1030e0" opacity="0.6"/>
<polygon points="29.0,312.5 129.5,336.1 129.5,360.5 29.0,336.9" fill="#18c0f0"/>
<polygon points="29.0,313.7 129.5,337.3 129.5,359.3 29.0,335.7" fill="#30e068"/>
<polygon points="29.0,314.9 129.5,338.5 129.5,358.1 29.0,334.5" fill="#40e030"/>
<rect x="28.0" y="317.3" width="6.6" height="16" rx="3" fill="url(#obar)"/><rect x="37.6" y="319.5" width="6.6" height="16" rx="3" fill="url(#obar)"/><rect x="47.2" y="321.8" width="6.6" height="16" rx="3" fill="url(#obar)"/><rect x="56.8" y="324.0" width="6.6" height="16" rx="3" fill="url(#obar)"/><rect x="66.4" y="326.3" width="6.6" height="16" rx="3" fill="url(#obar)"/><rect x="76.0" y="328.6" width="6.6" height="16" rx="3" fill="url(#obar)"/><rect x="85.6" y="330.8" width="6.6" height="16" rx="3" fill="url(#obar)"/><rect x="95.2" y="333.1" width="6.6" height="16" rx="3" fill="url(#obar)"/><rect x="104.8" y="335.3" width="6.6" height="16" rx="3" fill="url(#obar)"/><rect x="114.4" y="337.6" width="6.6" height="16" rx="3" fill="url(#obar)"/>
<circle cx="31.2" cy="310.7" r="1.3" fill="#20c8f0" opacity="0.8"/><circle cx="38.6" cy="312.8" r="1.3" fill="#20c8f0" opacity="0.8"/><circle cx="45.5" cy="314.1" r="1.3" fill="#20c8f0" opacity="0.8"/><circle cx="51.1" cy="313.9" r="1.3" fill="#20c8f0" opacity="0.8"/><circle cx="59.9" cy="316.3" r="1.3" fill="#20c8f0" opacity="0.8"/><circle cx="66.8" cy="316.1" r="1.3" fill="#20c8f0" opacity="0.8"/><circle cx="72.9" cy="317.7" r="1.3" fill="#20c8f0" opacity="0.8"/><circle cx="80.1" cy="320.2" r="1.3" fill="#20c8f0" opacity="0.8"/><circle cx="86.0" cy="320.3" r="1.3" fill="#20c8f0" opacity="0.8"/><circle cx="93.6" cy="324.0" r="1.3" fill="#20c8f0" opacity="0.8"/><circle cx="101.5" cy="323.3" r="1.3" fill="#20c8f0" opacity="0.8"/><circle cx="108.6" cy="324.7" r="1.3" fill="#20c8f0" opacity="0.8"/><circle cx="115.2" cy="326.1" r="1.3" fill="#20c8f0" opacity="0.8"/><circle cx="121.0" cy="329.5" r="1.3" fill="#20c8f0" opacity="0.8"/>
<polygon points="129.5,325.5 150,322 175,316 200,306 214,301 228,296.5 228,336 215,343 205,348 190,354 170,361 150,365 138,367.5 129.5,369" fill="#1040f0"/>
<polygon points="129.5,332.3 150.2,328.5 169.3,323.4 187.4,315.9 203.8,308.0 219.5,301.0 228.0,297.5 228.0,328.5 219.5,332.0 203.8,339.0 187.4,346.9 169.3,354.4 150.2,359.5 129.5,363.3" fill="#18c0f0"/>
<polygon points="129.5,333.8 150.2,330.0 169.3,324.9 187.4,317.4 203.8,309.5 219.5,302.5 228.0,299.0 228.0,327.0 219.5,330.5 203.8,337.5 187.4,345.4 169.3,352.9 150.2,358.0 129.5,361.8" fill="#30e068"/>
<polygon points="129.5,335.3 150.2,331.5 169.3,326.4 187.4,318.9 203.8,311.0 219.5,304.0 228.0,300.5 228.0,325.5 219.5,329.0 203.8,336.0 187.4,343.9 169.3,351.4 150.2,356.5 129.5,360.3" fill="#40e030"/>
<path d="M 125.0 343.3 Q 120.7 349.3 125.0 355.3" fill="none" stroke="#ecd828" stroke-width="2.4" stroke-linecap="round"/><path d="M 134.0 343.3 Q 138.3 349.3 134.0 355.3" fill="none" stroke="#ecd828" stroke-width="2.4" stroke-linecap="round"/><circle cx="129.5" cy="349.3" r="2.4" fill="#8a3a28" stroke="#3a1010" stroke-width="0.8"/><path d="M 145.7 339.5 Q 141.4 345.5 145.7 351.5" fill="none" stroke="#ecd828" stroke-width="2.4" stroke-linecap="round"/><path d="M 154.7 339.5 Q 159.0 345.5 154.7 351.5" fill="none" stroke="#ecd828" stroke-width="2.4" stroke-linecap="round"/><circle cx="150.2" cy="345.5" r="2.4" fill="#8a3a28" stroke="#3a1010" stroke-width="0.8"/><path d="M 164.8 334.4 Q 160.5 340.4 164.8 346.4" fill="none" stroke="#ecd828" stroke-width="2.4" stroke-linecap="round"/><path d="M 173.8 334.4 Q 178.1 340.4 173.8 346.4" fill="none" stroke="#ecd828" stroke-width="2.4" stroke-linecap="round"/><circle cx="169.3" cy="340.4" r="2.4" fill="#8a3a28" stroke="#3a1010" stroke-width="0.8"/><path d="M 182.9 326.9 Q 178.6 332.9 182.9 338.9" fill="none" stroke="#ecd828" stroke-width="2.4" stroke-linecap="round"/><path d="M 191.9 326.9 Q 196.2 332.9 191.9 338.9" fill="none" stroke="#ecd828" stroke-width="2.4" stroke-linecap="round"/><circle cx="187.4" cy="332.9" r="2.4" fill="#8a3a28" stroke="#3a1010" stroke-width="0.8"/><path d="M 199.3 319.0 Q 195.0 325.0 199.3 331.0" fill="none" stroke="#ecd828" stroke-width="2.4" stroke-linecap="round"/><path d="M 208.3 319.0 Q 212.6 325.0 208.3 331.0" fill="none" stroke="#ecd828" stroke-width="2.4" stroke-linecap="round"/><circle cx="203.8" cy="325.0" r="2.4" fill="#8a3a28" stroke="#3a1010" stroke-width="0.8"/><path d="M 215.0 312.0 Q 210.7 318.0 215.0 324.0" fill="none" stroke="#ecd828" stroke-width="2.4" stroke-linecap="round"/><path d="M 224.0 312.0 Q 228.3 318.0 224.0 324.0" fill="none" stroke="#ecd828" stroke-width="2.4" stroke-linecap="round"/><circle cx="219.5" cy="318.0" r="2.4" fill="#8a3a28" stroke="#3a1010" stroke-width="0.8"/>
<line x1="23.3" y1="326.0" x2="32.3" y2="327.0" stroke="#5a2a20" stroke-width="1"/><circle cx="23.3" cy="326.0" r="2.4" fill="#8a3a28" stroke="#3a1010" stroke-width="0.8"/><line x1="41.6" y1="329.0" x2="50.6" y2="330.0" stroke="#5a2a20" stroke-width="1"/><circle cx="41.6" cy="329.0" r="2.4" fill="#8a3a28" stroke="#3a1010" stroke-width="0.8"/><line x1="62.4" y1="332.4" x2="71.4" y2="333.4" stroke="#5a2a20" stroke-width="1"/><circle cx="62.4" cy="332.4" r="2.4" fill="#8a3a28" stroke="#3a1010" stroke-width="0.8"/><line x1="83.6" y1="337.8" x2="92.6" y2="338.8" stroke="#5a2a20" stroke-width="1"/><circle cx="83.6" cy="337.8" r="2.4" fill="#8a3a28" stroke="#3a1010" stroke-width="0.8"/><line x1="105.3" y1="343.9" x2="114.3" y2="344.9" stroke="#5a2a20" stroke-width="1"/><circle cx="105.3" cy="343.9" r="2.4" fill="#8a3a28" stroke="#3a1010" stroke-width="0.8"/>
<circle cx="71.1" cy="356.7" r="1.3" fill="#20c0f0"/><circle cx="86.7" cy="363.0" r="1.0" fill="#20c0f0"/><circle cx="65.6" cy="358.6" r="0.7" fill="#1060f0"/><circle cx="88.6" cy="361.0" r="0.7" fill="#20c0f0"/><circle cx="81.7" cy="359.4" r="1.2" fill="#1040f0"/><circle cx="146.8" cy="367.1" r="0.6" fill="#a8a040"/><circle cx="190.4" cy="350.5" r="0.8" fill="#1060f0"/><circle cx="122.6" cy="367.4" r="0.8" fill="#1040f0"/><circle cx="216.0" cy="340.8" r="0.9" fill="#1060f0"/><circle cx="101.8" cy="364.6" r="0.6" fill="#1040f0"/><circle cx="168.7" cy="358.9" r="1.3" fill="#1040f0"/><circle cx="178.1" cy="356.7" r="1.3" fill="#a8a040"/><circle cx="130.4" cy="373.7" r="0.8" fill="#1060f0"/><circle cx="51.2" cy="354.7" r="1.2" fill="#a8a040"/><circle cx="37.2" cy="352.5" r="0.7" fill="#a8a040"/><circle cx="130.5" cy="371.6" r="0.7" fill="#a8a040"/><circle cx="211.1" cy="343.3" r="0.8" fill="#a8a040"/><circle cx="90.0" cy="363.0" r="1.0" fill="#a8a040"/><circle cx="225.4" cy="336.6" r="0.6" fill="#1060f0"/><circle cx="36.2" cy="351.5" r="0.8" fill="#a8a040"/><circle cx="119.3" cy="367.7" r="0.6" fill="#1040f0"/><circle cx="187.1" cy="351.1" r="0.7" fill="#20c0f0"/><circle cx="153.6" cy="365.0" r="0.7" fill="#1060f0"/><circle cx="103.1" cy="362.8" r="0.9" fill="#20c0f0"/><circle cx="118.8" cy="369.9" r="1.2" fill="#1060f0"/><circle cx="218.2" cy="341.3" r="0.8" fill="#a8a040"/><circle cx="87.0" cy="360.8" r="0.7" fill="#1060f0"/><circle cx="191.1" cy="350.4" r="0.7" fill="#1060f0"/><circle cx="200.1" cy="345.8" r="0.9" fill="#a8a040"/><circle cx="42.4" cy="353.0" r="0.8" fill="#1040f0"/>
<polygon points="52,305 66,300 76,294 84,303 92,311 104,320 97,321 86,316 72,310 60,307" fill="#a8a040" opacity="0.9"/>
<circle cx="72.0" cy="292.7" r="1.1" fill="#c0c050"/><circle cx="81.8" cy="292.2" r="1.8" fill="#c0c050"/><circle cx="61.3" cy="290.0" r="1.4" fill="#1840e0"/><circle cx="59.0" cy="300.2" r="1.1" fill="#909838"/><circle cx="70.9" cy="303.9" r="1.8" fill="#1840e0"/><circle cx="77.3" cy="294.8" r="1.2" fill="#c8b840"/><circle cx="80.9" cy="295.5" r="1.7" fill="#a8a040"/><circle cx="54.8" cy="298.8" r="1.4" fill="#c0c050"/><circle cx="49.1" cy="297.3" r="1.1" fill="#a8a040"/><circle cx="43.8" cy="298.1" r="1.0" fill="#1840e0"/><circle cx="68.3" cy="299.1" r="1.4" fill="#c8b840"/><circle cx="42.3" cy="305.4" r="2.0" fill="#c0c050"/><circle cx="53.0" cy="298.7" r="1.1" fill="#909838"/><circle cx="63.0" cy="307.0" r="1.3" fill="#1840e0"/><circle cx="62.2" cy="296.9" r="1.0" fill="#c0c050"/><circle cx="62.2" cy="307.0" r="1.5" fill="#909838"/><circle cx="75.1" cy="299.9" r="1.2" fill="#b0a838"/><circle cx="61.0" cy="291.8" r="1.5" fill="#c0c050"/><circle cx="82.6" cy="293.1" r="1.9" fill="#b0a838"/><circle cx="63.7" cy="301.8" r="1.1" fill="#a8a040"/><circle cx="65.1" cy="294.6" r="1.7" fill="#1840e0"/><circle cx="53.6" cy="295.5" r="1.1" fill="#c0c050"/><circle cx="73.1" cy="289.9" r="1.0" fill="#909838"/><circle cx="48.7" cy="298.6" r="1.6" fill="#b0a838"/><circle cx="78.0" cy="305.5" r="1.0" fill="#909838"/><circle cx="60.7" cy="292.1" r="1.4" fill="#c0c050"/><circle cx="51.5" cy="300.4" r="1.0" fill="#a8a040"/><circle cx="46.6" cy="294.9" r="1.9" fill="#b0a838"/><circle cx="63.7" cy="300.5" r="1.6" fill="#1840e0"/><circle cx="79.6" cy="293.3" r="1.8" fill="#c8b840"/><circle cx="78.9" cy="295.2" r="1.2" fill="#a8a040"/><circle cx="68.7" cy="294.4" r="1.7" fill="#909838"/><circle cx="63.3" cy="303.5" r="1.1" fill="#1840e0"/><circle cx="54.3" cy="295.7" r="0.9" fill="#b0a838"/><circle cx="66.3" cy="306.9" r="1.0" fill="#909838"/><circle cx="69.3" cy="294.5" r="1.0" fill="#1840e0"/><circle cx="77.9" cy="287.2" r="1.2" fill="#b0a838"/><circle cx="58.5" cy="292.5" r="1.9" fill="#c8b840"/><circle cx="68.9" cy="287.6" r="1.4" fill="#b0a838"/><circle cx="45.8" cy="304.0" r="2.0" fill="#1840e0"/><circle cx="43.0" cy="301.1" r="0.9" fill="#a8a040"/><circle cx="35.8" cy="304.7" r="1.3" fill="#c0c050"/><circle cx="77.8" cy="295.5" r="1.8" fill="#a8a040"/><circle cx="61.1" cy="293.2" r="1.9" fill="#c0c050"/><circle cx="68.1" cy="289.4" r="2.0" fill="#a8a040"/><circle cx="52.8" cy="304.1" r="1.9" fill="#a8a040"/><circle cx="75.6" cy="299.5" r="1.3" fill="#1840e0"/><circle cx="58.5" cy="306.5" r="1.2" fill="#c0c050"/><circle cx="57.5" cy="305.4" r="1.3" fill="#c0c050"/><circle cx="37.6" cy="304.9" r="1.4" fill="#b0a838"/><circle cx="80.9" cy="300.5" r="1.4" fill="#c8b840"/><circle cx="67.7" cy="301.5" r="1.0" fill="#a8a040"/><circle cx="62.7" cy="299.8" r="1.9" fill="#a8a040"/><circle cx="48.2" cy="301.6" r="1.0" fill="#c8b840"/><circle cx="64.4" cy="301.4" r="1.4" fill="#c0c050"/><circle cx="73.0" cy="293.8" r="1.5" fill="#1840e0"/><circle cx="37.6" cy="305.6" r="1.9" fill="#a8a040"/><circle cx="68.1" cy="299.5" r="1.7" fill="#a8a040"/><circle cx="63.9" cy="304.6" r="0.8" fill="#b0a838"/><circle cx="51.9" cy="294.2" r="1.4" fill="#c8b840"/><circle cx="70.3" cy="305.9" r="1.3" fill="#1840e0"/><circle cx="84.0" cy="297.3" r="1.4" fill="#1840e0"/><circle cx="72.6" cy="303.7" r="1.0" fill="#a8a040"/><circle cx="57.6" cy="300.7" r="2.0" fill="#a8a040"/><circle cx="49.7" cy="302.1" r="1.9" fill="#a8a040"/><circle cx="81.0" cy="287.2" r="1.0" fill="#a8a040"/><circle cx="66.8" cy="306.9" r="1.6" fill="#909838"/><circle cx="39.3" cy="303.3" r="1.2" fill="#909838"/>
<polygon points="74.5,282.4 115,276 140,273 216,274.5 213,290 207,312 170,322 131,330 104,322 86,308" fill="#1448f0"/>
<polygon points="74.5,282.4 115,276 140,273 216,274.5 215,278.5 140,278 115,280.5 76,287" fill="#30b0f0"/>
<polygon points="77,288 115,282 140,280 214,280 214,282 140,282.5 115,284.5 79,291" fill="#1858f0" opacity="0.8"/>
<ellipse cx="104" cy="300" rx="22" ry="14" fill="#1888f0" opacity="0.8"/>
<ellipse cx="128" cy="296" rx="7" ry="14" fill="#18b0f0" opacity="0.8"/>
<ellipse cx="91.3" cy="292" rx="9" ry="6.5" fill="#18c0f0"/>
<ellipse cx="91.3" cy="292" rx="7" ry="5" fill="#40e040"/>
<ellipse cx="108" cy="308.5" rx="8" ry="6" fill="#18c0f0"/>
<ellipse cx="108" cy="308.5" rx="6" ry="4.3" fill="#40e040"/>
<ellipse cx="97" cy="302" rx="6" ry="4" fill="#18c0f0" opacity="0.8"/>
<ellipse cx="125.5" cy="295" rx="5" ry="11" fill="#18c0f0" opacity="0.8"/>
<ellipse cx="125.5" cy="293" rx="3" ry="6" fill="#40e040" opacity="0.8"/>
<ellipse cx="118" cy="305" rx="4" ry="5" fill="#18c0f0" opacity="0.6"/>
<rect x="110.2" y="289.6" width="5.8" height="6.6" rx="1" fill="#b8a830"/>
<circle cx="76.0" cy="285.0" r="1.3" fill="#20c8f0"/>
<circle cx="77.7" cy="289.0" r="1.3" fill="#20c8f0"/>
<circle cx="79.4" cy="293.0" r="1.3" fill="#20c8f0"/>
<circle cx="81.1" cy="297.0" r="1.3" fill="#20c8f0"/>
<circle cx="82.8" cy="301.0" r="1.3" fill="#20c8f0"/>
<circle cx="84.5" cy="305.0" r="1.3" fill="#20c8f0"/>
<polygon points="132,290 160,283 210,278 212,286 160,290 134,296" fill="#18b8f0" opacity="0.7"/>
<ellipse cx="135" cy="300" rx="4" ry="9" fill="#18c0f0" opacity="0.8"/>
<rect x="134.8" y="292.5" width="24.0" height="33.0" rx="10.0" fill="#18c0f0" opacity="1.00" transform="rotate(-8.0 146.8 309.0)"/>
<rect x="136.3" y="293.8" width="21.0" height="30.5" rx="9.0" fill="#40e040" opacity="1.00" transform="rotate(-8.0 146.8 309.0)"/>
<rect x="138.3" y="296.2" width="17.0" height="26.5" rx="7.5" fill="#ece020" opacity="1.00" transform="rotate(-8.0 146.8 309.5)"/>
<rect x="139.6" y="298.0" width="14.5" height="24.0" rx="6.5" fill="#f89010" opacity="1.00" transform="rotate(-8.0 146.8 310.0)"/>
<ellipse cx="146.8" cy="314.0" rx="6.2" ry="7.5" fill="#f84010" opacity="0.9"/>
<rect x="159.8" y="288.0" width="24.0" height="33.0" rx="10.0" fill="#18c0f0" opacity="1.00" transform="rotate(-8.0 171.8 304.5)"/>
<rect x="161.3" y="289.2" width="21.0" height="30.5" rx="9.0" fill="#40e040" opacity="1.00" transform="rotate(-8.0 171.8 304.5)"/>
<rect x="163.3" y="291.8" width="17.0" height="26.5" rx="7.5" fill="#ece020" opacity="1.00" transform="rotate(-8.0 171.8 305.0)"/>
<rect x="164.6" y="293.5" width="14.5" height="24.0" rx="6.5" fill="#f89010" opacity="1.00" transform="rotate(-8.0 171.8 305.5)"/>
<ellipse cx="171.8" cy="309.5" rx="6.2" ry="7.5" fill="#f84010" opacity="0.9"/>
<rect x="183.5" y="282.1" width="24.0" height="33.0" rx="10.0" fill="#18c0f0" opacity="1.00" transform="rotate(-8.0 195.5 298.6)"/>
<rect x="185.0" y="283.4" width="21.0" height="30.5" rx="9.0" fill="#40e040" opacity="1.00" transform="rotate(-8.0 195.5 298.6)"/>
<rect x="187.0" y="285.9" width="17.0" height="26.5" rx="7.5" fill="#ece020" opacity="1.00" transform="rotate(-8.0 195.5 299.1)"/>
<rect x="188.2" y="287.6" width="14.5" height="24.0" rx="6.5" fill="#f89010" opacity="1.00" transform="rotate(-8.0 195.5 299.6)"/>
<ellipse cx="195.5" cy="303.6" rx="6.2" ry="7.5" fill="#f84010" opacity="0.9"/>
<circle cx="148.2" cy="307.6" r="3.6" fill="#e8d820" stroke="#a09010" stroke-width="0.6"/>
<circle cx="173.6" cy="302.2" r="3.6" fill="#e8d820" stroke="#a09010" stroke-width="0.6"/>
<circle cx="196.9" cy="297.3" r="3.6" fill="#e8d820" stroke="#a09010" stroke-width="0.6"/>
<polyline points="108,282 117.3,271.5 125,282 135,281 143.6,271 146.4,275.5 155,283 165,281 173.6,271.8 182,280 190,278 197.3,269 205,275" fill="none" stroke="#8a6a50" stroke-width="1.3"/><circle cx="117.3" cy="271.5" r="3.5" fill="#e0d020" stroke="#a09010" stroke-width="0.5"/><circle cx="143.6" cy="271.0" r="3.0" fill="#e0d020" stroke="#a09010" stroke-width="0.5"/><circle cx="146.4" cy="275.5" r="3.5" fill="#e0d020" stroke="#a09010" stroke-width="0.5"/><circle cx="173.6" cy="271.8" r="3.5" fill="#e0d020" stroke="#a09010" stroke-width="0.5"/><circle cx="197.3" cy="269.0" r="2.5" fill="#e0d020" stroke="#a09010" stroke-width="0.5"/>
<polygon points="84,307 104,320 106,323 92,316" fill="#a09030"/>
<polygon points="116,326 125,327 122,329" fill="#a09030"/>
<polygon points="133,328 141,329 137,331" fill="#a09030"/>
<polygon points="168,323 186,316 181,321" fill="#a09030"/>
<polygon points="203,310 213,298 215,302 206,312" fill="#a09030"/>
<circle cx="217.7" cy="277.5" r="1.1" fill="#1860f0"/>
<circle cx="212.6" cy="278.9" r="1.2" fill="#c0b040"/>
<circle cx="220.7" cy="282.2" r="1.2" fill="#a8a040"/>
<circle cx="216.6" cy="286.3" r="0.8" fill="#c0b040"/>
<circle cx="219.2" cy="279.9" r="1.0" fill="#a8a040"/>
<circle cx="226.5" cy="278.3" r="0.9" fill="#a8a040"/>
<circle cx="224.6" cy="279.5" r="1.1" fill="#c0b040"/>
<circle cx="227.9" cy="278.8" r="0.8" fill="#a8a040"/>
<circle cx="221.2" cy="286.4" r="0.9" fill="#1860f0"/>
<circle cx="230.7" cy="288.8" r="1.2" fill="#1860f0"/>
<circle cx="212.0" cy="279.0" r="1.1" fill="#1860f0"/>
<circle cx="213.0" cy="299.5" r="0.6" fill="#1860f0"/>
<circle cx="216.7" cy="292.9" r="0.8" fill="#c0b040"/>
<circle cx="216.3" cy="282.6" r="0.7" fill="#1860f0"/>
</g>
<polyline points="305.0,268.4 305.6,268.3 306.2,268.1 306.8,267.8 307.4,267.3 308.0,266.5 308.6,265.3 309.2,263.6 309.8,262.5 310.4,263.5 311.0,265.2 311.6,266.4 312.2,267.2 312.8,267.5 313.4,267.7 314.0,267.9 314.6,268.1 315.2,268.3 315.8,268.5 316.4,268.4 317.0,268.2 317.6,268.1 318.2,268.2 318.8,268.2 319.4,268.3 320.0,268.4 320.6,268.4 321.2,268.4 321.8,268.6 322.4,268.7 323.0,268.8 323.6,268.6 324.2,268.5 324.8,268.4 325.4,268.3 326.0,268.2 326.6,268.1 327.2,268.3 327.8,268.4 328.4,268.6 329.0,268.5 329.6,268.5 330.2,268.4 330.8,268.3 331.4,268.1 332.0,268.0 332.6,268.2 333.2,268.4 333.8,268.5 334.4,268.5 335.0,268.5 335.6,268.4 336.2,268.2 336.8,267.9 337.4,267.6 338.0,267.2 338.6,266.5 339.2,265.7 339.8,264.5 340.4,263.8 341.0,264.1 341.6,265.2 342.2,266.3 342.8,267.0 343.4,267.5 344.0,267.9 344.6,268.1 345.2,268.2 345.8,268.2 346.4,268.2 347.0,268.2 347.6,268.2 348.2,268.1 348.8,268.0 349.4,267.9 350.0,267.8 350.6,268.0 351.2,268.1 351.8,268.2 352.4,268.3 353.0,268.3 353.6,268.4 354.2,268.5 354.8,268.6 355.4,268.7 356.0,268.7 356.6,268.7 357.2,268.7 357.8,268.5 358.4,268.4 359.0,268.2 359.6,268.3 360.2,268.4 360.8,268.6 361.4,268.3 362.0,268.1 362.6,267.9 363.2,268.0 363.8,268.2 364.4,268.3 365.0,268.2 365.6,268.1 366.2,268.0 366.8,267.7 367.4,267.5 368.0,267.2 368.6,267.4 369.2,267.5 369.8,267.7 370.4,267.4 371.0,267.2 371.6,266.9 372.2,266.9 372.8,266.8 373.4,266.8 374.0,266.5 374.6,266.3 375.2,266.1 375.8,265.8 376.4,265.6 377.0,265.5 377.6,265.8 378.2,266.1 378.8,266.5 379.4,266.8 380.0,267.1 380.6,267.4 381.2,267.4 381.8,267.3 382.4,267.2 383.0,267.3 383.6,267.5 384.2,267.6 384.8,267.8 385.4,268.1 386.0,268.3 386.6,268.1 387.2,267.9 387.8,267.7 388.4,267.9 389.0,268.0 389.6,268.2 390.2,268.1 390.8,268.0 391.4,267.9 392.0,268.2 392.6,268.4 393.2,268.7 393.8,268.6 394.4,268.6 395.0,268.5 395.6,268.4 396.2,268.3 396.8,268.2 397.4,268.1 398.0,268.0 398.6,267.8 399.2,267.9 399.8,268.0 400.4,268.1 401.0,268.1 401.6,268.2 402.2,268.3 402.8,268.4 403.4,268.5 404.0,268.7 404.6,268.4 405.2,268.1 405.8,267.8 406.4,268.0 407.0,268.1 407.6,268.2 408.2,268.3 408.8,268.3 409.4,268.3 410.0,268.2 410.6,268.1 411.2,268.0 411.8,268.0 412.4,268.1 413.0,268.1 413.6,267.8 414.2,267.6 414.8,267.3 415.4,267.2 416.0,267.0 416.6,266.6 417.2,265.9 417.8,265.1 418.4,264.3 419.0,263.9 419.6,264.0 420.2,264.5 420.8,265.1 421.4,265.8 422.0,266.3 422.6,266.7 423.2,267.1 423.8,267.4 424.4,267.5 425.0,267.6 425.6,267.6 426.2,267.7 426.8,267.9 427.4,268.0 428.0,267.9 428.6,267.9 429.2,267.8 429.8,267.8 430.4,267.7 431.0,267.7 431.6,267.7 432.2,267.7 432.8,267.7 433.4,267.8 434.0,267.9 434.6,268.1 435.2,268.0 435.8,268.0 436.4,268.0 437.0,267.8 437.6,267.7 438.2,267.5 438.8,267.2 439.4,266.9 440.0,266.5 440.6,266.4 441.2,266.1 441.8,265.9 442.4,265.5 443.0,265.3 443.6,265.5 444.2,265.8 444.8,266.2 445.4,266.5 446.0,266.7 446.6,266.7 447.2,266.6 447.8,266.5 448.4,266.2 449.0,265.8 449.6,265.0 450.2,263.9 450.8,262.4 451.4,260.4 452.0,258.7 452.6,258.3 453.2,259.6 453.8,261.4 454.4,263.1 455.0,264.5 455.6,265.5 456.2,266.2 456.8,266.6 457.4,266.8 458.0,266.9 458.6,267.2 459.2,267.5 459.8,267.8 460.4,267.9 461.0,268.0 461.6,268.1 462.2,268.1 462.8,268.2 463.4,268.2 464.0,268.1 464.6,268.1 465.2,268.0 465.8,268.1 466.4,268.2 467.0,268.3 467.6,268.2 468.2,268.0 468.8,267.9 469.4,267.8 470.0,267.7 470.6,267.6 471.2,267.6 471.8,267.6 472.4,267.6 473.0,267.6 473.6,267.6 474.2,267.6 474.8,267.3 475.4,267.1 476.0,266.7 476.6,266.3 477.2,265.7 477.8,265.1 478.4,264.2 479.0,263.2 479.6,262.4 480.2,262.2 480.8,262.5 481.4,263.1 482.0,263.7 482.6,264.3 483.2,264.8 483.8,265.2 484.4,265.6 485.0,265.8 485.6,266.0 486.2,266.1 486.8,266.1 487.4,265.8 488.0,265.4 488.6,265.0 489.2,264.8 489.8,264.6 490.4,264.2 491.0,263.5 491.6,262.7 492.2,262.0 492.8,261.7 493.4,261.6 494.0,261.8 494.6,262.4 495.2,263.1 495.8,263.9 496.4,264.3 497.0,264.7 497.6,265.1 498.2,265.6 498.8,266.1 499.4,266.5 500.0,266.5 500.6,266.4 501.2,266.3 501.8,266.4 502.4,266.5 503.0,266.5 503.6,266.6 504.2,266.6 504.8,266.4 505.4,265.6 506.0,264.4 506.6,262.7 507.2,261.7 507.8,262.2 508.4,263.9 509.0,265.4 509.6,266.4 510.2,267.1 510.8,267.4 511.4,267.5 512.0,267.6 512.6,267.8 513.2,267.9" fill="none" stroke="#5a18a8" stroke-width="1.7" stroke-linejoin="round"/>
<polyline points="305.0,256.0 305.6,256.1 306.2,256.1 306.8,256.0 307.4,255.4 308.0,254.4 308.6,252.7 309.2,250.1 309.8,248.5 310.4,249.8 311.0,252.3 311.6,254.0 312.2,255.1 312.8,255.6 313.4,256.0 314.0,256.2 314.6,256.4 315.2,256.6 315.8,256.7 316.4,256.8 317.0,256.9 317.6,257.0 318.2,256.8 318.8,256.6 319.4,256.4 320.0,256.4 320.6,256.4 321.2,256.4 321.8,256.6 322.4,256.9 323.0,257.2 323.6,257.0 324.2,256.9 324.8,256.8 325.4,256.9 326.0,257.0 326.6,257.1 327.2,256.8 327.8,256.6 328.4,256.3 329.0,256.4 329.6,256.6 330.2,256.7 330.8,256.8 331.4,256.9 332.0,256.9 332.6,256.7 333.2,256.5 333.8,256.3 334.4,256.4 335.0,256.6 335.6,256.7 336.2,256.5 336.8,256.2 337.4,255.8 338.0,254.9 338.6,253.7 339.2,252.2 339.8,250.9 340.4,250.2 341.0,250.9 341.6,252.4 342.2,253.8 342.8,254.8 343.4,255.5 344.0,256.1 344.6,256.5 345.2,256.5 345.8,256.4 346.4,256.4 347.0,256.4 347.6,256.4 348.2,256.4 348.8,256.5 349.4,256.6 350.0,256.7 350.6,256.6 351.2,256.5 351.8,256.3 352.4,256.4 353.0,256.5 353.6,256.6 354.2,256.7 354.8,256.7 355.4,256.8 356.0,256.8 356.6,256.9 357.2,256.9 357.8,256.8 358.4,256.7 359.0,256.6 359.6,256.6 360.2,256.6 360.8,256.6 361.4,256.6 362.0,256.6 362.6,256.6 363.2,256.7 363.8,256.8 364.4,256.9 365.0,256.8 365.6,256.8 366.2,256.7 366.8,256.6 367.4,256.5 368.0,256.4 368.6,256.7 369.2,257.0 369.8,257.3 370.4,257.2 371.0,257.1 371.6,257.0 372.2,257.0 372.8,257.0 373.4,257.1 374.0,256.9 374.6,256.8 375.2,256.6 375.8,256.9 376.4,257.2 377.0,257.4 377.6,257.4 378.2,257.3 378.8,257.3 379.4,257.0 380.0,256.8 380.6,256.5 381.2,256.6 381.8,256.7 382.4,256.8 383.0,256.9 383.6,257.0 384.2,257.1 384.8,257.1 385.4,257.1 386.0,257.1 386.6,257.2 387.2,257.3 387.8,257.3 388.4,257.2 389.0,257.0 389.6,256.8 390.2,257.0 390.8,257.1 391.4,257.2 392.0,257.2 392.6,257.1 393.2,257.1 393.8,256.9 394.4,256.8 395.0,256.7 395.6,256.8 396.2,256.9 396.8,256.9 397.4,257.0 398.0,257.1 398.6,257.2 399.2,257.2 399.8,257.2 400.4,257.2 401.0,257.1 401.6,256.9 402.2,256.8 402.8,256.8 403.4,256.8 404.0,256.9 404.6,256.7 405.2,256.5 405.8,256.3 406.4,256.3 407.0,256.4 407.6,256.4 408.2,256.6 408.8,256.7 409.4,256.8 410.0,256.7 410.6,256.5 411.2,256.3 411.8,256.1 412.4,256.0 413.0,255.8 413.6,255.7 414.2,255.7 414.8,255.5 415.4,255.3 416.0,254.9 416.6,254.3 417.2,253.6 417.8,252.7 418.4,251.9 419.0,251.3 419.6,251.3 420.2,251.8 420.8,252.7 421.4,253.5 422.0,254.2 422.6,254.8 423.2,255.2 423.8,255.5 424.4,255.8 425.0,256.1 425.6,256.3 426.2,256.3 426.8,256.3 427.4,256.2 428.0,256.2 428.6,256.2 429.2,256.2 429.8,256.3 430.4,256.3 431.0,256.3 431.6,256.2 432.2,256.0 432.8,255.8 433.4,255.8 434.0,255.7 434.6,255.7 435.2,255.8 435.8,256.0 436.4,256.1 437.0,256.0 437.6,256.0 438.2,255.8 438.8,255.4 439.4,254.9 440.0,254.3 440.6,253.6 441.2,252.7 441.8,251.7 442.4,250.9 443.0,250.4 443.6,250.6 444.2,251.3 444.8,252.1 445.4,252.8 446.0,253.4 446.6,253.7 447.2,253.9 447.8,253.6 448.4,253.1 449.0,252.2 449.6,251.0 450.2,249.2 450.8,246.7 451.4,243.9 452.0,241.5 452.6,241.2 453.2,243.1 453.8,245.9 454.4,248.4 455.0,250.5 455.6,252.1 456.2,253.2 456.8,254.1 457.4,254.7 458.0,255.3 458.6,255.4 459.2,255.6 459.8,255.6 460.4,255.7 461.0,255.8 461.6,255.8 462.2,255.8 462.8,255.8 463.4,255.8 464.0,255.9 464.6,256.1 465.2,256.2 465.8,256.3 466.4,256.5 467.0,256.6 467.6,256.3 468.2,255.9 468.8,255.6 469.4,255.8 470.0,256.0 470.6,256.2 471.2,256.2 471.8,256.1 472.4,256.0 473.0,255.9 473.6,255.8 474.2,255.7 474.8,255.4 475.4,255.0 476.0,254.6 476.6,254.1 477.2,253.4 477.8,252.4 478.4,251.0 479.0,249.4 479.6,247.7 480.2,246.9 480.8,247.1 481.4,248.2 482.0,249.4 482.6,250.3 483.2,250.8 483.8,250.7 484.4,250.2 485.0,249.3 485.6,248.5 486.2,247.8 486.8,248.0 487.4,248.6 488.0,249.3 488.6,249.7 489.2,249.7 489.8,249.2 490.4,248.3 491.0,247.3 491.6,246.0 492.2,244.6 492.8,243.5 493.4,243.1 494.0,243.7 494.6,245.0 495.2,246.6 495.8,248.2 496.4,249.7 497.0,250.9 497.6,251.8 498.2,252.6 498.8,253.2 499.4,253.7 500.0,254.1 500.6,254.3 501.2,254.5 501.8,254.6 502.4,254.6 503.0,254.5 503.6,254.2 504.2,253.7 504.8,252.9 505.4,251.5 506.0,249.3 506.6,246.3 507.2,243.9 507.8,244.6 508.4,247.7 509.0,250.4 509.6,252.3 510.2,253.4 510.8,254.3 511.4,255.0 512.0,255.5 512.6,255.8 513.2,256.1" fill="none" stroke="#10d0d8" stroke-width="1.7" stroke-linejoin="round"/>
<polyline points="305.0,246.3 305.6,246.1 306.2,245.9 306.8,245.6 307.4,244.7 308.0,243.5 308.6,241.6 309.2,239.3 309.8,237.9 310.4,239.3 311.0,241.9 311.6,243.7 312.2,244.9 312.8,245.4 313.4,245.7 314.0,245.9 314.6,246.0 315.2,246.1 315.8,246.2 316.4,246.1 317.0,246.0 317.6,245.9 318.2,246.1 318.8,246.2 319.4,246.3 320.0,246.3 320.6,246.3 321.2,246.3 321.8,246.3 322.4,246.3 323.0,246.3 323.6,246.2 324.2,246.0 324.8,245.9 325.4,246.0 326.0,246.1 326.6,246.2 327.2,246.2 327.8,246.1 328.4,246.1 329.0,246.2 329.6,246.3 330.2,246.4 330.8,246.5 331.4,246.5 332.0,246.6 332.6,246.6 333.2,246.5 333.8,246.4 334.4,246.2 335.0,246.0 335.6,245.7 336.2,245.5 336.8,245.2 337.4,244.8 338.0,244.2 338.6,243.3 339.2,242.1 339.8,240.8 340.4,240.1 341.0,240.7 341.6,241.9 342.2,243.0 342.8,243.9 343.4,244.5 344.0,245.1 344.6,245.5 345.2,245.6 345.8,245.7 346.4,245.7 347.0,245.8 347.6,245.9 348.2,246.0 348.8,246.2 349.4,246.4 350.0,246.6 350.6,246.5 351.2,246.4 351.8,246.3 352.4,246.3 353.0,246.3 353.6,246.3 354.2,246.2 354.8,246.1 355.4,246.0 356.0,246.0 356.6,245.9 357.2,245.8 357.8,245.9 358.4,246.0 359.0,246.1 359.6,246.1 360.2,246.0 360.8,246.0 361.4,246.1 362.0,246.2 362.6,246.3 363.2,246.5 363.8,246.7 364.4,246.8 365.0,246.7 365.6,246.6 366.2,246.5 366.8,246.3 367.4,246.2 368.0,246.0 368.6,246.2 369.2,246.5 369.8,246.7 370.4,246.7 371.0,246.7 371.6,246.6 372.2,246.6 372.8,246.6 373.4,246.6 374.0,246.6 374.6,246.7 375.2,246.7 375.8,246.7 376.4,246.6 377.0,246.6 377.6,246.6 378.2,246.6 378.8,246.6 379.4,246.5 380.0,246.3 380.6,246.2 381.2,246.4 381.8,246.6 382.4,246.8 383.0,246.8 383.6,246.8 384.2,246.8 384.8,246.5 385.4,246.2 386.0,246.0 386.6,246.2 387.2,246.4 387.8,246.6 388.4,246.5 389.0,246.5 389.6,246.5 390.2,246.4 390.8,246.3 391.4,246.3 392.0,246.3 392.6,246.3 393.2,246.3 393.8,246.3 394.4,246.3 395.0,246.3 395.6,246.4 396.2,246.5 396.8,246.7 397.4,246.5 398.0,246.4 398.6,246.2 399.2,246.3 399.8,246.5 400.4,246.6 401.0,246.4 401.6,246.2 402.2,246.0 402.8,246.2 403.4,246.4 404.0,246.5 404.6,246.5 405.2,246.5 405.8,246.5 406.4,246.3 407.0,246.2 407.6,246.0 408.2,246.0 408.8,246.0 409.4,246.0 410.0,246.1 410.6,246.1 411.2,246.2 411.8,246.0 412.4,245.9 413.0,245.7 413.6,245.4 414.2,245.1 414.8,244.8 415.4,244.4 416.0,243.8 416.6,243.1 417.2,242.4 417.8,241.5 418.4,240.6 419.0,240.2 419.6,240.5 420.2,241.3 420.8,242.0 421.4,242.7 422.0,243.2 422.6,244.0 423.2,244.7 423.8,245.2 424.4,245.2 425.0,245.2 425.6,245.1 426.2,245.4 426.8,245.7 427.4,246.0 428.0,245.9 428.6,245.7 429.2,245.5 429.8,245.7 430.4,246.0 431.0,246.2 431.6,246.1 432.2,246.0 432.8,245.9 433.4,245.8 434.0,245.6 434.6,245.5 435.2,245.5 435.8,245.4 436.4,245.3 437.0,245.2 437.6,245.0 438.2,244.8 438.8,244.5 439.4,244.1 440.0,243.6 440.6,242.8 441.2,241.8 441.8,240.8 442.4,239.9 443.0,239.5 443.6,239.7 444.2,240.5 444.8,241.3 445.4,242.1 446.0,242.7 446.6,243.0 447.2,243.2 447.8,242.9 448.4,242.4 449.0,241.6 449.6,240.3 450.2,238.4 450.8,235.9 451.4,233.3 452.0,231.1 452.6,231.0 453.2,233.0 453.8,235.9 454.4,238.5 455.0,240.5 455.6,242.0 456.2,243.1 456.8,243.5 457.4,243.8 458.0,244.0 458.6,244.4 459.2,244.9 459.8,245.2 460.4,245.1 461.0,245.0 461.6,244.9 462.2,245.1 462.8,245.4 463.4,245.6 464.0,245.5 464.6,245.4 465.2,245.3 465.8,245.3 466.4,245.3 467.0,245.3 467.6,245.5 468.2,245.7 468.8,245.9 469.4,245.6 470.0,245.3 470.6,245.0 471.2,245.1 471.8,245.2 472.4,245.2 473.0,245.2 473.6,245.2 474.2,245.2 474.8,244.7 475.4,244.2 476.0,243.7 476.6,243.2 477.2,242.5 477.8,241.6 478.4,240.6 479.0,239.4 479.6,238.2 480.2,237.3 480.8,237.3 481.4,238.2 482.0,239.5 482.6,240.5 483.2,241.2 483.8,241.1 484.4,240.7 485.0,240.0 485.6,239.3 486.2,238.7 486.8,238.7 487.4,239.1 488.0,239.5 488.6,239.7 489.2,239.8 489.8,239.4 490.4,238.8 491.0,237.4 491.6,235.8 492.2,234.2 492.8,233.3 493.4,233.2 494.0,234.0 494.6,235.0 495.2,236.3 495.8,237.6 496.4,239.2 497.0,240.6 497.6,241.8 498.2,242.2 498.8,242.5 499.4,242.7 500.0,243.1 500.6,243.4 501.2,243.6 501.8,243.9 502.4,244.1 503.0,244.2 503.6,243.7 504.2,243.0 504.8,242.1 505.4,240.8 506.0,238.8 506.6,235.9 507.2,233.7 507.8,234.5 508.4,237.6 509.0,240.3 509.6,242.0 510.2,243.1 510.8,243.7 511.4,244.1 512.0,244.4 512.6,244.9 513.2,245.4" fill="none" stroke="#10a010" stroke-width="1.7" stroke-linejoin="round"/>
<polyline points="305.0,233.4 305.6,233.2 306.2,232.8 306.8,232.1 307.4,230.8 308.0,228.6 308.6,225.0 309.2,219.9 309.8,216.7 310.4,220.0 311.0,225.2 311.6,228.8 312.2,230.9 312.8,232.0 313.4,232.6 314.0,232.9 314.6,233.2 315.2,233.4 315.8,233.6 316.4,234.0 317.0,234.4 317.6,234.7 318.2,234.6 318.8,234.5 319.4,234.3 320.0,234.3 320.6,234.3 321.2,234.4 321.8,234.6 322.4,234.9 323.0,235.1 323.6,235.0 324.2,234.8 324.8,234.6 325.4,234.7 326.0,234.9 326.6,235.0 327.2,234.8 327.8,234.7 328.4,234.6 329.0,234.6 329.6,234.6 330.2,234.6 330.8,234.4 331.4,234.2 332.0,234.0 332.6,234.0 333.2,234.1 333.8,234.1 334.4,234.0 335.0,233.9 335.6,233.6 336.2,233.1 336.8,232.4 337.4,231.4 338.0,230.2 338.6,228.3 339.2,225.6 339.8,222.6 340.4,221.1 341.0,222.6 341.6,225.4 342.2,227.9 342.8,229.6 343.4,231.2 344.0,232.3 344.6,233.1 345.2,233.5 345.8,233.7 346.4,233.9 347.0,234.0 347.6,234.0 348.2,234.1 348.8,234.1 349.4,234.0 350.0,234.0 350.6,234.3 351.2,234.7 351.8,235.0 352.4,234.9 353.0,234.8 353.6,234.7 354.2,234.8 354.8,234.9 355.4,235.0 356.0,235.0 356.6,235.1 357.2,235.1 357.8,235.1 358.4,235.1 359.0,235.0 359.6,235.1 360.2,235.2 360.8,235.2 361.4,235.1 362.0,234.9 362.6,234.7 363.2,234.9 363.8,235.0 364.4,235.1 365.0,235.0 365.6,234.9 366.2,234.7 366.8,234.8 367.4,234.8 368.0,234.7 368.6,234.3 369.2,233.8 369.8,233.4 370.4,232.9 371.0,232.5 371.6,232.2 372.2,232.2 372.8,232.2 373.4,232.2 374.0,232.2 374.6,232.2 375.2,232.3 375.8,232.5 376.4,232.8 377.0,233.0 377.6,232.9 378.2,232.8 378.8,232.7 379.4,233.0 380.0,233.4 380.6,233.9 381.2,234.2 381.8,234.4 382.4,234.4 383.0,234.6 383.6,234.7 384.2,234.8 384.8,234.8 385.4,234.7 386.0,234.7 386.6,234.7 387.2,234.7 387.8,234.6 388.4,234.7 389.0,234.8 389.6,234.9 390.2,234.9 390.8,234.9 391.4,234.9 392.0,235.0 392.6,235.1 393.2,235.2 393.8,235.1 394.4,235.0 395.0,234.9 395.6,235.0 396.2,235.1 396.8,235.1 397.4,235.1 398.0,235.1 398.6,235.0 399.2,235.0 399.8,235.1 400.4,235.1 401.0,235.0 401.6,234.9 402.2,234.7 402.8,234.5 403.4,234.3 404.0,234.2 404.6,234.4 405.2,234.6 405.8,234.7 406.4,234.7 407.0,234.7 407.6,234.7 408.2,234.6 408.8,234.5 409.4,234.4 410.0,234.2 410.6,234.0 411.2,233.8 411.8,233.6 412.4,233.5 413.0,233.3 413.6,232.8 414.2,232.2 414.8,231.5 415.4,231.1 416.0,230.4 416.6,229.4 417.2,227.8 417.8,225.9 418.4,224.2 419.0,223.0 419.6,223.1 420.2,224.3 420.8,226.0 421.4,227.5 422.0,228.8 422.6,230.1 423.2,231.1 423.8,231.9 424.4,232.4 425.0,232.7 425.6,232.9 426.2,232.8 426.8,232.5 427.4,232.3 428.0,232.5 428.6,232.6 429.2,232.7 429.8,232.4 430.4,232.0 431.0,231.4 431.6,230.9 432.2,230.2 432.8,229.3 433.4,228.5 434.0,227.8 434.6,227.2 435.2,227.2 435.8,227.6 436.4,228.2 437.0,228.8 437.6,229.3 438.2,229.6 438.8,229.4 439.4,228.8 440.0,228.0 440.6,227.2 441.2,226.0 441.8,224.5 442.4,222.7 443.0,221.8 443.6,222.2 444.2,223.8 444.8,225.6 445.4,227.0 446.0,227.6 446.6,227.7 447.2,227.4 447.8,227.1 448.4,226.2 449.0,224.7 449.6,222.2 450.2,218.5 450.8,213.2 451.4,206.7 452.0,201.0 452.6,200.0 453.2,204.6 453.8,211.4 454.4,217.4 455.0,221.7 455.6,224.6 456.2,226.6 456.8,228.1 457.4,229.1 458.0,229.9 458.6,230.8 459.2,231.4 459.8,232.0 460.4,232.1 461.0,232.2 461.6,232.2 462.2,232.4 462.8,232.6 463.4,232.8 464.0,232.9 464.6,233.0 465.2,233.1 465.8,233.2 466.4,233.3 467.0,233.4 467.6,233.2 468.2,233.0 468.8,232.8 469.4,232.7 470.0,232.6 470.6,232.4 471.2,232.6 471.8,232.7 472.4,232.7 473.0,232.3 473.6,231.8 474.2,231.2 474.8,230.8 475.4,230.4 476.0,229.6 476.6,228.4 477.2,226.7 477.8,224.4 478.4,221.2 479.0,217.3 479.6,213.5 480.2,211.4 480.8,212.1 481.4,214.8 482.0,217.9 482.6,220.3 483.2,221.8 483.8,222.2 484.4,221.5 485.0,219.9 485.6,217.5 486.2,215.6 486.8,215.7 487.4,217.8 488.0,220.5 488.6,222.6 489.2,223.8 489.8,224.2 490.4,223.7 491.0,222.5 491.6,220.4 492.2,217.7 492.8,214.9 493.4,213.7 494.0,215.0 494.6,218.2 495.2,221.5 495.8,224.3 496.4,226.6 497.0,228.3 497.6,229.5 498.2,230.2 498.8,230.6 499.4,230.9 500.0,231.2 500.6,231.5 501.2,231.6 501.8,231.8 502.4,231.9 503.0,231.8 503.6,231.2 504.2,230.2 504.8,228.8 505.4,226.6 506.0,223.1 506.6,218.2 507.2,213.9 507.8,214.8 508.4,219.6 509.0,224.4 509.6,227.6 510.2,229.7 510.8,231.0 511.4,231.9 512.0,232.6 512.6,232.8 513.2,232.9" fill="none" stroke="#ff1a1a" stroke-width="1.7" stroke-linejoin="round"/>
<polyline points="305.0,221.5 305.6,220.6 306.2,219.4 306.8,217.7 307.4,215.1 308.0,210.6 308.6,202.8 309.2,191.4 309.8,184.2 310.4,191.1 311.0,202.4 311.6,210.2 312.2,214.7 312.8,217.6 313.4,219.2 314.0,220.1 314.6,221.2 315.2,222.4 315.8,223.2 316.4,223.5 317.0,223.7 317.6,223.8 318.2,223.9 318.8,224.0 319.4,224.1 320.0,223.9 320.6,223.7 321.2,223.5 321.8,223.7 322.4,223.9 323.0,224.0 323.6,223.9 324.2,223.8 324.8,223.7 325.4,223.6 326.0,223.5 326.6,223.5 327.2,223.4 327.8,223.3 328.4,223.3 329.0,223.3 329.6,223.3 330.2,223.2 330.8,223.5 331.4,223.8 332.0,224.0 332.6,223.8 333.2,223.5 333.8,223.2 334.4,222.8 335.0,222.3 335.6,221.7 336.2,220.8 336.8,219.6 337.4,217.9 338.0,214.9 338.6,210.7 339.2,205.0 339.8,199.0 340.4,196.1 341.0,199.1 341.6,205.3 342.2,210.9 342.8,215.0 343.4,217.7 344.0,219.5 344.6,220.8 345.2,221.7 345.8,222.4 346.4,222.9 347.0,223.3 347.6,223.6 348.2,223.8 348.8,223.6 349.4,223.3 350.0,223.0 350.6,223.4 351.2,223.8 351.8,224.1 352.4,224.2 353.0,224.3 353.6,224.3 354.2,224.3 354.8,224.3 355.4,224.2 356.0,224.1 356.6,223.9 357.2,223.8 357.8,224.0 358.4,224.1 359.0,224.3 359.6,224.1 360.2,223.9 360.8,223.7 361.4,224.2 362.0,224.6 362.6,225.0 363.2,225.0 363.8,225.0 364.4,225.0 365.0,224.8 365.6,224.6 366.2,224.5 366.8,224.4 367.4,224.3 368.0,224.1 368.6,224.4 369.2,224.7 369.8,225.1 370.4,224.9 371.0,224.7 371.6,224.5 372.2,224.7 372.8,224.9 373.4,225.0 374.0,225.0 374.6,225.0 375.2,225.0 375.8,224.8 376.4,224.6 377.0,224.4 377.6,224.4 378.2,224.3 378.8,224.3 379.4,224.4 380.0,224.5 380.6,224.6 381.2,224.5 381.8,224.4 382.4,224.3 383.0,224.2 383.6,224.0 384.2,223.9 384.8,223.9 385.4,224.0 386.0,224.1 386.6,224.3 387.2,224.6 387.8,224.8 388.4,224.4 389.0,224.0 389.6,223.6 390.2,223.6 390.8,223.6 391.4,223.6 392.0,223.9 392.6,224.2 393.2,224.4 393.8,224.2 394.4,224.0 395.0,223.8 395.6,224.0 396.2,224.1 396.8,224.2 397.4,224.1 398.0,224.0 398.6,223.9 399.2,223.8 399.8,223.7 400.4,223.6 401.0,223.8 401.6,224.1 402.2,224.3 402.8,223.7 403.4,223.2 404.0,222.5 404.6,222.3 405.2,222.0 405.8,221.5 406.4,220.7 407.0,219.8 407.6,219.3 408.2,219.7 408.8,220.4 409.4,221.2 410.0,221.3 410.6,221.3 411.2,221.1 411.8,221.0 412.4,220.8 413.0,220.5 413.6,220.1 414.2,219.6 414.8,218.8 415.4,217.3 416.0,215.3 416.6,212.8 417.2,209.9 417.8,206.6 418.4,203.3 419.0,201.5 419.6,202.1 420.2,204.8 420.8,207.9 421.4,210.8 422.0,213.2 422.6,215.2 423.2,216.8 423.8,217.9 424.4,218.9 425.0,219.6 425.6,220.2 426.2,220.8 426.8,221.4 427.4,221.8 428.0,221.9 428.6,221.8 429.2,221.7 429.8,221.5 430.4,221.1 431.0,220.7 431.6,220.4 432.2,220.0 432.8,219.6 433.4,218.9 434.0,218.2 434.6,217.6 435.2,217.5 435.8,217.7 436.4,218.1 437.0,218.1 437.6,217.9 438.2,217.5 438.8,217.4 439.4,216.9 440.0,216.0 440.6,214.3 441.2,211.9 441.8,208.9 442.4,206.1 443.0,204.9 443.6,206.0 444.2,208.6 444.8,211.3 445.4,213.5 446.0,215.1 446.6,216.2 447.2,216.7 447.8,216.1 448.4,214.9 449.0,213.1 449.6,211.2 450.2,208.1 450.8,203.6 451.4,198.3 452.0,193.8 452.6,193.4 453.2,197.3 453.8,203.1 454.4,208.3 455.0,212.1 455.6,214.7 456.2,216.5 456.8,218.2 457.4,219.4 458.0,220.4 458.6,220.7 459.2,220.9 459.8,221.0 460.4,221.1 461.0,221.1 461.6,221.0 462.2,220.2 462.8,219.3 463.4,218.3 464.0,218.0 464.6,218.3 465.2,219.1 465.8,220.0 466.4,220.8 467.0,221.3 467.6,221.5 468.2,221.5 468.8,221.4 469.4,221.6 470.0,221.7 470.6,221.8 471.2,221.9 471.8,222.1 472.4,222.1 473.0,221.5 473.6,220.9 474.2,220.1 474.8,219.3 475.4,218.4 476.0,217.2 476.6,215.8 477.2,213.9 477.8,211.3 478.4,208.0 479.0,203.8 479.6,199.8 480.2,197.7 480.8,198.8 481.4,202.2 482.0,205.5 482.6,208.1 483.2,209.6 483.8,210.2 484.4,209.6 485.0,208.0 485.6,205.6 486.2,203.6 486.8,203.5 487.4,205.9 488.0,208.6 488.6,210.7 489.2,211.1 489.8,210.4 490.4,208.7 491.0,205.9 491.6,201.9 492.2,197.0 492.8,192.4 493.4,190.5 494.0,192.7 494.6,197.6 495.2,203.0 495.8,207.5 496.4,211.0 497.0,213.6 497.6,215.4 498.2,217.0 498.8,218.2 499.4,219.1 500.0,219.3 500.6,219.3 501.2,219.1 501.8,219.0 502.4,218.7 503.0,218.1 503.6,217.4 504.2,216.2 504.8,214.1 505.4,210.2 506.0,203.9 506.6,195.2 507.2,188.4 507.8,190.6 508.4,199.7 509.0,207.3 509.6,212.3 510.2,215.3 510.8,217.7 511.4,219.3 512.0,220.6 512.6,221.4 513.2,222.1" fill="none" stroke="#000" stroke-width="1.7" stroke-linejoin="round"/>
<line x1="303.8" y1="184" x2="303.8" y2="270.5" stroke="#666" stroke-width="1.2"/>
<line x1="304" y1="270" x2="514" y2="270" stroke="#555" stroke-width="0.8"/>
<line x1="341.0" y1="270" x2="341.0" y2="273" stroke="#555" stroke-width="0.8"/>
<text x="341.0" y="284.2" font-family="Liberation Sans" font-size="7.5" text-anchor="middle" fill="#333">800</text>
<line x1="379.4" y1="270" x2="379.4" y2="273" stroke="#555" stroke-width="0.8"/>
<text x="379.4" y="284.2" font-family="Liberation Sans" font-size="7.5" text-anchor="middle" fill="#333">1000</text>
<line x1="417.8" y1="270" x2="417.8" y2="273" stroke="#555" stroke-width="0.8"/>
<text x="417.8" y="284.2" font-family="Liberation Sans" font-size="7.5" text-anchor="middle" fill="#333">1200</text>
<line x1="456.2" y1="270" x2="456.2" y2="273" stroke="#555" stroke-width="0.8"/>
<text x="456.2" y="284.2" font-family="Liberation Sans" font-size="7.5" text-anchor="middle" fill="#333">1400</text>
<line x1="494.6" y1="270" x2="494.6" y2="273" stroke="#555" stroke-width="0.8"/>
<text x="494.6" y="284.2" font-family="Liberation Sans" font-size="7.5" text-anchor="middle" fill="#333">1600</text>
<line x1="301.6" y1="195.25" x2="303.8" y2="195.25" stroke="#666" stroke-width="0.8"/>
<line x1="301.6" y1="205.25" x2="303.8" y2="205.25" stroke="#666" stroke-width="0.8"/>
<line x1="301.6" y1="215.25" x2="303.8" y2="215.25" stroke="#666" stroke-width="0.8"/>
<line x1="301.6" y1="225.25" x2="303.8" y2="225.25" stroke="#666" stroke-width="0.8"/>
<line x1="301.6" y1="235.25" x2="303.8" y2="235.25" stroke="#666" stroke-width="0.8"/>
<line x1="301.6" y1="245.25" x2="303.8" y2="245.25" stroke="#666" stroke-width="0.8"/>
<line x1="301.6" y1="255.25" x2="303.8" y2="255.25" stroke="#666" stroke-width="0.8"/>
<line x1="301.6" y1="265.25" x2="303.8" y2="265.25" stroke="#666" stroke-width="0.8"/>
<text transform="translate(293.8,257.8) rotate(-90)" font-family="Liberation Sans" font-size="10.4" textLength="66.5" lengthAdjust="spacingAndGlyphs" fill="#222">Intensity(a.u.)</text>
<text x="315.6" y="188" font-family="Liberation Serif" font-size="16" fill="#111" stroke="#111" stroke-width="0.35">(e)</text>
<line x1="350.7" y1="172.2" x2="364.7" y2="172.2" stroke="#000" stroke-width="2.2" stroke-linecap="round"/><text x="377.7" y="170.2" font-family="Liberation Sans" font-size="10" fill="#111">5x10<tspan font-size="6" dy="-4">-5</tspan><tspan dy="4">M</tspan></text>
<line x1="350.7" y1="186.1" x2="364.7" y2="186.1" stroke="#ff1a1a" stroke-width="2.2" stroke-linecap="round"/><text x="377.7" y="187.5" font-family="Liberation Sans" font-size="10" fill="#111">5x10<tspan font-size="6" dy="-4">-6</tspan><tspan dy="4">M</tspan></text>
<line x1="350.7" y1="200.0" x2="364.7" y2="200.0" stroke="#10a010" stroke-width="2.2" stroke-linecap="round"/><text x="378.7" y="202.0" font-family="Liberation Sans" font-size="10" fill="#111">5x10<tspan font-size="6" dy="-4">-7</tspan><tspan dy="4">M</tspan></text>
<line x1="421.6" y1="175.7" x2="437.6" y2="175.7" stroke="#10d0d8" stroke-width="2.2" stroke-linecap="round"/><text x="445.6" y="176.5" font-family="Liberation Sans" font-size="10" fill="#111">5x10<tspan font-size="6" dy="-4">-8</tspan><tspan dy="4">M</tspan></text>
<line x1="421.6" y1="189.3" x2="437.6" y2="189.3" stroke="#5a18a8" stroke-width="2.2" stroke-linecap="round"/><text x="445.6" y="193.0" font-family="Liberation Sans" font-size="10" fill="#111">5x10<tspan font-size="6" dy="-4">-9</tspan><tspan dy="4">M</tspan></text>
<polyline points="303.0,369.9 303.6,369.3 304.2,368.4 304.8,366.9 305.4,364.7 306.0,360.8 306.6,354.6 307.2,348.6 307.8,349.9 308.4,356.6 309.0,362.2 309.6,365.7 310.2,367.8 310.8,369.0 311.4,369.8 312.0,370.3 312.6,370.6 313.2,370.8 313.8,370.9 314.4,370.9 315.0,370.8 315.6,370.8 316.2,370.9 316.8,371.1 317.4,371.3 318.0,371.3 318.6,371.2 319.2,371.2 319.8,371.2 320.4,371.1 321.0,371.1 321.6,371.4 322.2,371.6 322.8,371.8 323.4,371.8 324.0,371.8 324.6,371.8 325.2,371.5 325.8,371.2 326.4,370.8 327.0,371.1 327.6,371.3 328.2,371.5 328.8,371.4 329.4,371.2 330.0,371.0 330.6,370.8 331.2,370.6 331.8,370.3 332.4,370.0 333.0,369.7 333.6,369.1 334.2,368.6 334.8,367.7 335.4,366.4 336.0,364.0 336.6,360.4 337.2,355.6 337.8,352.0 338.4,352.9 339.0,357.5 339.6,361.8 340.2,364.9 340.8,366.9 341.4,368.1 342.0,368.8 342.6,369.2 343.2,369.8 343.8,370.4 344.4,370.8 345.0,371.1 345.6,371.3 346.2,371.5 346.8,371.6 347.4,371.6 348.0,371.7 348.6,371.6 349.2,371.6 349.8,371.5 350.4,371.3 351.0,371.2 351.6,371.0 352.2,371.0 352.8,371.0 353.4,371.0 354.0,371.1 354.6,371.1 355.2,371.2 355.8,371.5 356.4,371.7 357.0,372.0 357.6,371.8 358.2,371.6 358.8,371.4 359.4,371.4 360.0,371.4 360.6,371.5 361.2,371.6 361.8,371.7 362.4,371.8 363.0,371.5 363.6,371.0 364.2,370.3 364.8,369.6 365.4,368.3 366.0,366.2 366.6,363.1 367.2,359.4 367.8,355.5 368.4,352.1 369.0,349.5 369.6,347.8 370.2,346.9 370.8,346.5 371.4,346.4 372.0,346.3 372.6,346.3 373.2,346.3 373.8,346.1 374.4,345.9 375.0,345.7 375.6,345.8 376.2,346.1 376.8,346.6 377.4,347.4 378.0,348.8 378.6,350.9 379.2,353.6 379.8,357.1 380.4,360.8 381.0,364.4 381.6,367.1 382.2,369.0 382.8,370.2 383.4,371.0 384.0,371.5 384.6,371.6 385.2,371.7 385.8,371.7 386.4,371.7 387.0,371.6 387.6,371.6 388.2,371.7 388.8,371.8 389.4,371.9 390.0,371.7 390.6,371.4 391.2,371.2 391.8,371.3 392.4,371.5 393.0,371.6 393.6,371.5 394.2,371.4 394.8,371.3 395.4,371.4 396.0,371.5 396.6,371.5 397.2,371.3 397.8,371.2 398.4,371.0 399.0,371.2 399.6,371.4 400.2,371.5 400.8,371.3 401.4,371.0 402.0,370.7 402.6,370.7 403.2,370.7 403.8,370.6 404.4,370.7 405.0,370.9 405.6,370.9 406.2,370.8 406.8,370.7 407.4,370.5 408.0,370.0 408.6,369.4 409.2,368.6 409.8,367.8 410.4,366.5 411.0,364.5 411.6,361.7 412.2,358.7 412.8,357.5 413.4,358.0 414.0,357.9 414.6,356.6 415.2,355.0 415.8,354.9 416.4,357.0 417.0,359.9 417.6,362.6 418.2,364.6 418.8,366.2 419.4,367.2 420.0,368.0 420.6,368.6 421.2,369.2 421.8,369.6 422.4,369.7 423.0,369.8 423.6,369.8 424.2,370.0 424.8,370.3 425.4,370.5 426.0,370.5 426.6,370.6 427.2,370.6 427.8,370.5 428.4,370.4 429.0,370.3 429.6,370.0 430.2,369.7 430.8,369.3 431.4,368.8 432.0,368.1 432.6,367.3 433.2,366.5 433.8,365.9 434.4,365.7 435.0,365.6 435.6,365.2 436.2,364.3 436.8,363.3 437.4,361.5 438.0,359.5 438.6,357.8 439.2,357.9 439.8,359.7 440.4,361.8 441.0,363.5 441.6,364.5 442.2,365.0 442.8,365.0 443.4,364.6 444.0,364.0 444.6,362.9 445.2,361.0 445.8,357.9 446.4,353.1 447.0,346.1 447.6,337.3 448.2,330.8 448.8,332.3 449.4,340.5 450.0,349.2 450.6,355.8 451.2,360.1 451.8,362.9 452.4,364.9 453.0,366.1 453.6,367.0 454.2,367.6 454.8,368.3 455.4,368.8 456.0,369.3 456.6,369.7 457.2,370.0 457.8,370.3 458.4,370.3 459.0,370.3 459.6,370.3 460.2,370.4 460.8,370.5 461.4,370.5 462.0,370.4 462.6,370.2 463.2,370.1 463.8,370.2 464.4,370.3 465.0,370.5 465.6,370.4 466.2,370.3 466.8,370.3 467.4,370.1 468.0,370.0 468.6,369.8 469.2,369.6 469.8,369.4 470.4,369.0 471.0,368.6 471.6,367.9 472.2,367.0 472.8,365.6 473.4,363.5 474.0,360.5 474.6,357.0 475.2,354.7 475.8,355.6 476.4,358.3 477.0,360.9 477.6,362.5 478.2,363.3 478.8,363.3 479.4,362.4 480.0,360.6 480.6,357.6 481.2,354.2 481.8,352.2 482.4,353.7 483.0,356.8 483.6,359.6 484.2,361.1 484.8,361.6 485.4,361.2 486.0,359.8 486.6,357.5 487.2,354.9 487.8,353.2 488.4,354.1 489.0,356.8 489.6,360.0 490.2,362.6 490.8,364.6 491.4,366.0 492.0,367.0 492.6,367.8 493.2,368.3 493.8,368.7 494.4,369.1 495.0,369.4 495.6,369.6 496.2,369.8 496.8,370.0 497.4,370.1 498.0,369.8 498.6,369.3 499.2,368.7 499.8,367.9 500.4,366.6 501.0,364.5 501.6,361.5 502.2,358.6 502.8,358.6 503.4,361.6 504.0,364.7 504.6,366.9 505.2,368.3 505.8,369.1 506.4,369.7 507.0,370.2 507.6,370.5 508.2,370.8 508.8,371.1 509.4,371.2" fill="none" stroke="#1a50f0" stroke-width="1.7" stroke-linejoin="round"/>
<polyline points="303.0,382.3 303.6,382.1 304.2,381.8 304.8,381.4 305.4,380.7 306.0,379.5 306.6,377.4 307.2,375.2 307.8,375.6 308.4,377.8 309.0,379.7 309.6,380.8 310.2,381.5 310.8,381.9 311.4,382.2 312.0,382.4 312.6,382.4 313.2,382.4 313.8,382.3 314.4,382.5 315.0,382.6 315.6,382.7 316.2,382.8 316.8,382.9 317.4,382.9 318.0,383.0 318.6,383.1 319.2,383.1 319.8,382.9 320.4,382.7 321.0,382.4 321.6,382.5 322.2,382.6 322.8,382.6 323.4,382.6 324.0,382.5 324.6,382.4 325.2,382.6 325.8,382.9 326.4,383.1 327.0,383.0 327.6,383.0 328.2,382.9 328.8,382.7 329.4,382.4 330.0,382.2 330.6,382.4 331.2,382.7 331.8,382.9 332.4,382.8 333.0,382.7 333.6,382.5 334.2,382.1 334.8,381.6 335.4,380.9 336.0,379.9 336.6,378.3 337.2,376.1 337.8,374.1 338.4,374.4 339.0,376.4 339.6,378.4 340.2,379.7 340.8,380.5 341.4,381.2 342.0,381.7 342.6,382.1 343.2,382.1 343.8,382.1 344.4,382.0 345.0,382.2 345.6,382.3 346.2,382.4 346.8,382.4 347.4,382.5 348.0,382.5 348.6,382.4 349.2,382.4 349.8,382.3 350.4,382.5 351.0,382.7 351.6,382.8 352.2,382.8 352.8,382.8 353.4,382.8 354.0,382.9 354.6,383.1 355.2,383.2 355.8,383.1 356.4,383.0 357.0,382.9 357.6,383.0 358.2,383.0 358.8,383.0 359.4,383.0 360.0,382.9 360.6,382.9 361.2,383.0 361.8,383.0 362.4,383.1 363.0,383.0 363.6,382.9 364.2,382.8 364.8,382.7 365.4,382.5 366.0,381.9 366.6,381.1 367.2,379.3 367.8,376.7 368.4,374.3 369.0,372.9 369.6,372.3 370.2,372.0 370.8,371.9 371.4,371.8 372.0,371.7 372.6,371.7 373.2,371.6 373.8,371.5 374.4,371.4 375.0,371.2 375.6,371.2 376.2,371.2 376.8,371.1 377.4,371.2 378.0,371.2 378.6,371.3 379.2,371.3 379.8,371.4 380.4,372.0 381.0,373.6 381.6,376.2 382.2,379.3 382.8,381.2 383.4,382.2 384.0,382.5 384.6,382.8 385.2,383.1 385.8,383.2 386.4,383.1 387.0,382.9 387.6,382.8 388.2,383.0 388.8,383.2 389.4,383.3 390.0,383.3 390.6,383.3 391.2,383.2 391.8,382.9 392.4,382.7 393.0,382.4 393.6,382.4 394.2,382.5 394.8,382.6 395.4,382.8 396.0,383.0 396.6,383.3 397.2,383.1 397.8,382.9 398.4,382.8 399.0,383.0 399.6,383.1 400.2,383.3 400.8,383.1 401.4,382.9 402.0,382.7 402.6,382.6 403.2,382.4 403.8,382.3 404.4,382.5 405.0,382.6 405.6,382.8 406.2,382.8 406.8,382.8 407.4,382.9 408.0,382.6 408.6,382.4 409.2,382.2 409.8,382.0 410.4,381.9 411.0,381.7 411.6,381.5 412.2,381.3 412.8,381.0 413.4,380.7 414.0,380.2 414.6,379.4 415.2,378.5 415.8,378.1 416.4,378.6 417.0,379.3 417.6,380.0 418.2,380.4 418.8,381.0 419.4,381.3 420.0,381.6 420.6,381.7 421.2,381.8 421.8,381.8 422.4,381.9 423.0,381.9 423.6,381.9 424.2,382.2 424.8,382.5 425.4,382.7 426.0,382.5 426.6,382.3 427.2,382.1 427.8,382.2 428.4,382.3 429.0,382.4 429.6,382.4 430.2,382.3 430.8,382.2 431.4,382.1 432.0,381.9 432.6,381.7 433.2,381.8 433.8,381.8 434.4,381.8 435.0,381.4 435.6,380.8 436.2,380.2 436.8,379.7 437.4,378.9 438.0,378.1 438.6,377.3 439.2,377.1 439.8,377.6 440.4,378.5 441.0,379.3 441.6,379.7 442.2,379.8 442.8,379.7 443.4,379.4 444.0,379.1 444.6,378.4 445.2,377.5 445.8,376.3 446.4,374.6 447.0,372.1 447.6,369.0 448.2,366.9 448.8,367.3 449.4,369.7 450.0,372.6 450.6,375.0 451.2,377.0 451.8,378.5 452.4,379.6 453.0,380.1 453.6,380.3 454.2,380.4 454.8,380.8 455.4,381.0 456.0,381.3 456.6,381.5 457.2,381.8 457.8,382.0 458.4,382.0 459.0,382.0 459.6,381.9 460.2,381.8 460.8,381.6 461.4,381.4 462.0,381.7 462.6,382.0 463.2,382.2 463.8,382.0 464.4,381.7 465.0,381.3 465.6,381.3 466.2,381.2 466.8,381.2 467.4,381.2 468.0,381.3 468.6,381.3 469.2,380.9 469.8,380.5 470.4,380.1 471.0,379.7 471.6,379.2 472.2,378.5 472.8,377.6 473.4,376.5 474.0,375.3 474.6,374.5 475.2,374.2 475.8,374.5 476.4,375.3 477.0,376.1 477.6,376.6 478.2,376.6 478.8,376.3 479.4,375.8 480.0,375.2 480.6,374.3 481.2,373.4 481.8,372.6 482.4,372.4 483.0,372.6 483.6,373.1 484.2,373.4 484.8,373.5 485.4,373.3 486.0,372.9 486.6,372.1 487.2,370.7 487.8,368.8 488.4,366.4 489.0,363.7 489.6,360.4 490.2,356.6 490.8,352.5 491.4,348.5 492.0,345.5 492.6,343.8 493.2,344.4 493.8,346.9 494.4,350.8 495.0,355.1 495.6,359.2 496.2,363.1 496.8,366.4 497.4,369.2 498.0,371.2 498.6,372.8 499.2,374.1 499.8,375.0 500.4,375.6 501.0,376.1 501.6,376.5 502.2,376.6 502.8,376.5 503.4,376.7 504.0,377.4 504.6,378.5 505.2,379.3 505.8,380.0 506.4,380.4 507.0,380.5 507.6,380.5 508.2,380.5 508.8,380.9 509.4,381.3" fill="none" stroke="#f0a010" stroke-width="1.7" stroke-linejoin="round"/>
<polyline points="303.0,394.3 303.6,394.2 304.2,394.0 304.8,393.8 305.4,393.2 306.0,392.4 306.6,391.3 307.2,390.1 307.8,390.2 308.4,391.1 309.0,392.2 309.6,392.8 310.2,393.2 310.8,393.6 311.4,393.9 312.0,394.2 312.6,394.2 313.2,394.3 313.8,394.3 314.4,394.5 315.0,394.7 315.6,394.9 316.2,394.9 316.8,394.9 317.4,394.8 318.0,394.8 318.6,394.8 319.2,394.8 319.8,394.8 320.4,394.8 321.0,394.8 321.6,394.8 322.2,394.8 322.8,394.9 323.4,394.7 324.0,394.5 324.6,394.3 325.2,394.4 325.8,394.5 326.4,394.6 327.0,394.5 327.6,394.4 328.2,394.3 328.8,394.6 329.4,394.8 330.0,395.1 330.6,394.8 331.2,394.4 331.8,394.1 332.4,394.4 333.0,394.6 333.6,394.7 334.2,394.4 334.8,394.0 335.4,393.5 336.0,393.4 336.6,393.0 337.2,392.4 337.8,391.6 338.4,391.7 339.0,392.3 339.6,393.1 340.2,393.6 340.8,393.9 341.4,394.3 342.0,394.6 342.6,394.8 343.2,394.6 343.8,394.4 344.4,394.1 345.0,394.2 345.6,394.2 346.2,394.2 346.8,394.5 347.4,394.8 348.0,395.1 348.6,395.0 349.2,394.8 349.8,394.7 350.4,394.6 351.0,394.4 351.6,394.3 352.2,394.6 352.8,394.9 353.4,395.2 354.0,395.2 354.6,395.2 355.2,395.2 355.8,394.9 356.4,394.6 357.0,394.3 357.6,394.5 358.2,394.6 358.8,394.7 359.4,394.6 360.0,394.5 360.6,394.4 361.2,394.4 361.8,394.5 362.4,394.6 363.0,394.7 363.6,394.8 364.2,394.9 364.8,394.7 365.4,394.5 366.0,394.1 366.6,393.7 367.2,392.0 367.8,387.7 368.4,380.8 369.0,375.1 369.6,372.3 370.2,371.4 370.8,371.2 371.4,371.1 372.0,371.3 372.6,371.5 373.2,371.8 373.8,371.6 374.4,371.5 375.0,371.3 375.6,371.3 376.2,371.3 376.8,371.4 377.4,371.4 378.0,371.5 378.6,371.6 379.2,371.8 379.8,372.5 380.4,374.7 381.0,379.6 381.6,386.4 382.2,391.3 382.8,393.4 383.4,394.0 384.0,394.1 384.6,394.5 385.2,394.7 385.8,394.9 386.4,395.0 387.0,395.1 387.6,395.2 388.2,395.2 388.8,395.2 389.4,395.2 390.0,395.1 390.6,395.0 391.2,394.9 391.8,394.8 392.4,394.7 393.0,394.6 393.6,394.6 394.2,394.6 394.8,394.6 395.4,394.7 396.0,394.8 396.6,394.9 397.2,394.9 397.8,394.9 398.4,394.8 399.0,394.7 399.6,394.5 400.2,394.3 400.8,394.3 401.4,394.3 402.0,394.4 402.6,394.4 403.2,394.4 403.8,394.5 404.4,394.5 405.0,394.6 405.6,394.6 406.2,394.7 406.8,394.8 407.4,394.8 408.0,394.7 408.6,394.6 409.2,394.4 409.8,394.2 410.4,394.0 411.0,393.8 411.6,394.0 412.2,394.2 412.8,394.3 413.4,394.0 414.0,393.6 414.6,393.2 415.2,393.0 415.8,393.0 416.4,393.1 417.0,393.3 417.6,393.4 418.2,393.5 418.8,393.7 419.4,393.9 420.0,394.1 420.6,394.1 421.2,394.2 421.8,394.2 422.4,394.3 423.0,394.5 423.6,394.6 424.2,394.4 424.8,394.2 425.4,394.0 426.0,394.1 426.6,394.2 427.2,394.4 427.8,394.2 428.4,394.1 429.0,394.0 429.6,394.1 430.2,394.3 430.8,394.4 431.4,394.2 432.0,393.9 432.6,393.7 433.2,393.7 433.8,393.7 434.4,393.8 435.0,393.7 435.6,393.7 436.2,393.6 436.8,393.6 437.4,393.6 438.0,393.6 438.6,393.3 439.2,393.0 439.8,392.6 440.4,392.5 441.0,392.4 441.6,392.3 442.2,391.9 442.8,391.4 443.4,390.8 444.0,390.3 444.6,389.6 445.2,388.9 445.8,388.1 446.4,387.3 447.0,386.6 447.6,386.1 448.2,385.9 448.8,386.1 449.4,386.4 450.0,387.0 450.6,387.6 451.2,388.7 451.8,389.6 452.4,390.5 453.0,390.9 453.6,391.1 454.2,391.3 454.8,391.9 455.4,392.5 456.0,393.0 456.6,393.0 457.2,393.0 457.8,393.0 458.4,393.0 459.0,393.1 459.6,393.1 460.2,393.4 460.8,393.6 461.4,393.9 462.0,394.0 462.6,394.1 463.2,394.1 463.8,393.9 464.4,393.6 465.0,393.3 465.6,393.4 466.2,393.5 466.8,393.6 467.4,393.7 468.0,393.9 468.6,394.0 469.2,393.9 469.8,393.7 470.4,393.5 471.0,393.5 471.6,393.4 472.2,393.3 472.8,393.2 473.4,393.1 474.0,392.9 474.6,392.8 475.2,392.8 475.8,392.7 476.4,392.8 477.0,392.9 477.6,392.9 478.2,392.9 478.8,392.8 479.4,392.8 480.0,392.6 480.6,392.3 481.2,392.0 481.8,391.6 482.4,391.1 483.0,390.5 483.6,389.9 484.2,389.3 484.8,388.6 485.4,388.1 486.0,387.6 486.6,387.2 487.2,386.8 487.8,386.4 488.4,386.2 489.0,386.0 489.6,386.0 490.2,386.1 490.8,386.3 491.4,386.7 492.0,387.1 492.6,387.6 493.2,388.0 493.8,388.5 494.4,389.1 495.0,389.7 495.6,390.3 496.2,390.7 496.8,391.1 497.4,391.4 498.0,391.7 498.6,392.0 499.2,392.3 499.8,392.4 500.4,392.4 501.0,392.4 501.6,392.8 502.2,393.0 502.8,393.3 503.4,393.4 504.0,393.6 504.6,393.8 505.2,393.6 505.8,393.5 506.4,393.3 507.0,393.5 507.6,393.6 508.2,393.7 508.8,393.9 509.4,394.2" fill="none" stroke="#8a8a8a" stroke-width="1.7" stroke-linejoin="round"/>
<polyline points="303.0,404.3 303.6,404.3 304.2,404.2 304.8,404.0 305.4,403.5 306.0,402.7 306.6,401.6 307.2,400.7 307.8,401.0 308.4,402.1 309.0,402.9 309.6,403.4 310.2,403.6 310.8,403.9 311.4,404.1 312.0,404.3 312.6,404.3 313.2,404.4 313.8,404.4 314.4,404.5 315.0,404.5 315.6,404.6 316.2,404.7 316.8,404.9 317.4,405.1 318.0,404.9 318.6,404.7 319.2,404.5 319.8,404.7 320.4,404.8 321.0,405.0 321.6,404.9 322.2,404.7 322.8,404.6 323.4,404.7 324.0,404.7 324.6,404.7 325.2,404.8 325.8,404.8 326.4,404.9 327.0,405.0 327.6,405.1 328.2,405.3 328.8,405.2 329.4,405.1 330.0,405.0 330.6,404.8 331.2,404.6 331.8,404.4 332.4,404.4 333.0,404.5 333.6,404.5 334.2,404.4 334.8,404.3 335.4,404.1 336.0,404.2 336.6,404.1 337.2,403.8 337.8,403.4 338.4,403.5 339.0,403.9 339.6,404.4 340.2,404.7 340.8,404.8 341.4,405.0 342.0,405.1 342.6,405.1 343.2,405.1 343.8,405.1 344.4,405.1 345.0,405.2 345.6,405.3 346.2,405.4 346.8,405.3 347.4,405.3 348.0,405.2 348.6,405.1 349.2,404.9 349.8,404.7 350.4,404.9 351.0,405.1 351.6,405.3 352.2,405.2 352.8,405.1 353.4,405.0 354.0,405.0 354.6,405.1 355.2,405.2 355.8,405.2 356.4,405.1 357.0,405.0 357.6,405.0 358.2,404.9 358.8,404.9 359.4,404.9 360.0,404.9 360.6,404.8 361.2,404.9 361.8,404.9 362.4,404.9 363.0,404.9 363.6,404.8 364.2,404.8 364.8,404.7 365.4,404.6 366.0,404.5 366.6,404.6 367.2,404.1 367.8,401.2 368.4,392.5 369.0,380.4 369.6,373.9 370.2,372.0 370.8,371.5 371.4,371.5 372.0,371.4 372.6,371.3 373.2,371.2 373.8,371.1 374.4,371.1 375.0,371.0 375.6,371.1 376.2,371.2 376.8,371.2 377.4,371.0 378.0,370.8 378.6,370.7 379.2,371.2 379.8,372.6 380.4,377.4 381.0,388.1 381.6,398.8 382.2,403.3 382.8,404.5 383.4,404.7 384.0,404.6 384.6,404.7 385.2,404.7 385.8,404.7 386.4,404.8 387.0,404.9 387.6,405.0 388.2,404.9 388.8,404.8 389.4,404.7 390.0,404.8 390.6,404.9 391.2,404.9 391.8,405.0 392.4,405.0 393.0,405.1 393.6,405.0 394.2,404.9 394.8,404.9 395.4,404.8 396.0,404.7 396.6,404.6 397.2,404.7 397.8,404.8 398.4,405.0 399.0,404.9 399.6,404.8 400.2,404.7 400.8,404.7 401.4,404.7 402.0,404.7 402.6,404.7 403.2,404.7 403.8,404.7 404.4,404.7 405.0,404.8 405.6,404.8 406.2,404.7 406.8,404.6 407.4,404.5 408.0,404.7 408.6,404.9 409.2,405.1 409.8,405.2 410.4,405.3 411.0,405.4 411.6,405.2 412.2,405.0 412.8,404.8 413.4,405.0 414.0,405.1 414.6,405.2 415.2,405.2 415.8,405.3 416.4,405.4 417.0,405.1 417.6,404.8 418.2,404.5 418.8,404.5 419.4,404.6 420.0,404.6 420.6,404.8 421.2,405.0 421.8,405.2 422.4,405.3 423.0,405.3 423.6,405.3 424.2,405.2 424.8,405.1 425.4,405.1 426.0,404.9 426.6,404.7 427.2,404.6 427.8,404.7 428.4,404.7 429.0,404.8 429.6,405.0 430.2,405.1 430.8,405.3 431.4,405.3 432.0,405.3 432.6,405.3 433.2,405.2 433.8,405.2 434.4,405.2 435.0,405.0 435.6,404.7 436.2,404.5 436.8,404.7 437.4,404.9 438.0,405.1 438.6,405.0 439.2,404.8 439.8,404.6 440.4,404.7 441.0,404.8 441.6,404.8 442.2,404.6 442.8,404.3 443.4,404.0 444.0,404.2 444.6,404.3 445.2,404.4 445.8,404.0 446.4,403.5 447.0,403.0 447.6,402.7 448.2,402.5 448.8,402.6 449.4,402.7 450.0,402.9 450.6,403.1 451.2,403.6 451.8,403.9 452.4,404.3 453.0,404.4 453.6,404.5 454.2,404.5 454.8,404.6 455.4,404.6 456.0,404.7 456.6,404.6 457.2,404.6 457.8,404.5 458.4,404.6 459.0,404.8 459.6,404.9 460.2,404.8 460.8,404.7 461.4,404.5 462.0,404.5 462.6,404.5 463.2,404.5 463.8,404.4 464.4,404.4 465.0,404.3 465.6,404.5 466.2,404.6 466.8,404.8 467.4,404.6 468.0,404.4 468.6,404.2 469.2,404.2 469.8,404.2 470.4,404.2 471.0,404.1 471.6,404.1 472.2,404.0 472.8,404.1 473.4,404.3 474.0,404.4 474.6,404.4 475.2,404.3 475.8,404.2 476.4,404.2 477.0,404.1 477.6,404.1 478.2,403.8 478.8,403.6 479.4,403.4 480.0,403.5 480.6,403.5 481.2,403.6 481.8,403.5 482.4,403.5 483.0,403.4 483.6,403.3 484.2,403.2 484.8,403.1 485.4,403.1 486.0,403.1 486.6,403.0 487.2,403.4 487.8,403.8 488.4,404.2 489.0,403.9 489.6,403.7 490.2,403.4 490.8,403.6 491.4,403.7 492.0,403.8 492.6,403.8 493.2,403.9 493.8,403.9 494.4,404.1 495.0,404.2 495.6,404.4 496.2,404.3 496.8,404.1 497.4,404.0 498.0,404.2 498.6,404.3 499.2,404.5 499.8,404.5 500.4,404.5 501.0,404.4 501.6,404.6 502.2,404.8 502.8,405.0 503.4,404.7 504.0,404.5 504.6,404.2 505.2,404.3 505.8,404.4 506.4,404.6 507.0,404.6 507.6,404.7 508.2,404.8 508.8,404.9 509.4,405.1" fill="none" stroke="#f020c0" stroke-width="1.7" stroke-linejoin="round"/>
<line x1="302.4" y1="331" x2="302.4" y2="408" stroke="#666" stroke-width="1.2"/>
<line x1="302.6" y1="408" x2="510" y2="408" stroke="#555" stroke-width="0.8"/>
<line x1="339.5" y1="408" x2="339.5" y2="411" stroke="#555" stroke-width="0.8"/>
<text x="339.5" y="421.5" font-family="Liberation Sans" font-size="7" text-anchor="middle" fill="#333">800</text>
<line x1="377.1" y1="408" x2="377.1" y2="411" stroke="#555" stroke-width="0.8"/>
<text x="377.1" y="421.5" font-family="Liberation Sans" font-size="7" text-anchor="middle" fill="#333">1000</text>
<line x1="414.8" y1="408" x2="414.8" y2="411" stroke="#555" stroke-width="0.8"/>
<text x="414.8" y="421.5" font-family="Liberation Sans" font-size="7" text-anchor="middle" fill="#333">1200</text>
<line x1="452.4" y1="408" x2="452.4" y2="411" stroke="#555" stroke-width="0.8"/>
<text x="452.4" y="421.5" font-family="Liberation Sans" font-size="7" text-anchor="middle" fill="#333">1400</text>
<line x1="490.1" y1="408" x2="490.1" y2="411" stroke="#555" stroke-width="0.8"/>
<text x="490.1" y="421.5" font-family="Liberation Sans" font-size="7" text-anchor="middle" fill="#333">1600</text>
<line x1="300.8" y1="341.0" x2="302.4" y2="341.0" stroke="#888" stroke-width="0.6"/>
<line x1="300.8" y1="351.0" x2="302.4" y2="351.0" stroke="#888" stroke-width="0.6"/>
<line x1="300.8" y1="361.0" x2="302.4" y2="361.0" stroke="#888" stroke-width="0.6"/>
<line x1="300.8" y1="371.0" x2="302.4" y2="371.0" stroke="#888" stroke-width="0.6"/>
<line x1="300.8" y1="381.0" x2="302.4" y2="381.0" stroke="#888" stroke-width="0.6"/>
<line x1="300.8" y1="391.0" x2="302.4" y2="391.0" stroke="#888" stroke-width="0.6"/>
<line x1="300.8" y1="401.0" x2="302.4" y2="401.0" stroke="#888" stroke-width="0.6"/>
<text transform="translate(295.7,398) rotate(-90)" font-family="Liberation Sans" font-size="10.4" textLength="65.4" lengthAdjust="spacingAndGlyphs" fill="#222">Intensity(a.u.)</text>
<text x="307.8" y="317.5" font-family="Liberation Serif" font-size="16" fill="#111" stroke="#111" stroke-width="0.35">(f)</text>
<text x="364.5" y="439.4" font-family="Liberation Sans" font-size="11" fill="#111">Raman Shift (1/cm)</text>
<line x1="332.0" y1="313.9" x2="345.7" y2="313.9" stroke="#1a50f0" stroke-width="2.2" stroke-linecap="round"/><text x="352.0" y="318.5" font-family="Liberation Sans" font-size="10" fill="#111">5x10<tspan font-size="6" dy="-4">-10</tspan><tspan dy="4">M</tspan></text>
<line x1="332.0" y1="326.0" x2="345.7" y2="326.0" stroke="#f0a010" stroke-width="2.2" stroke-linecap="round"/><text x="352.0" y="331.0" font-family="Liberation Sans" font-size="10" fill="#111">5x10<tspan font-size="6" dy="-4">-11</tspan><tspan dy="4">M</tspan></text>
<line x1="413.3" y1="313.7" x2="427.0" y2="313.7" stroke="#8a8a8a" stroke-width="2.2" stroke-linecap="round"/><text x="436.8" y="317.3" font-family="Liberation Sans" font-size="10" fill="#111">5x10<tspan font-size="6" dy="-4">-12</tspan><tspan dy="4">M</tspan></text>
<line x1="413.3" y1="326.3" x2="427.0" y2="326.3" stroke="#f020c0" stroke-width="2.2" stroke-linecap="round"/><text x="438.6" y="328.8" font-family="Liberation Sans" font-size="10" fill="#111">2x10<tspan font-size="6" dy="-4">-12</tspan><tspan dy="4">M</tspan></text>
</svg>
</body></html>
